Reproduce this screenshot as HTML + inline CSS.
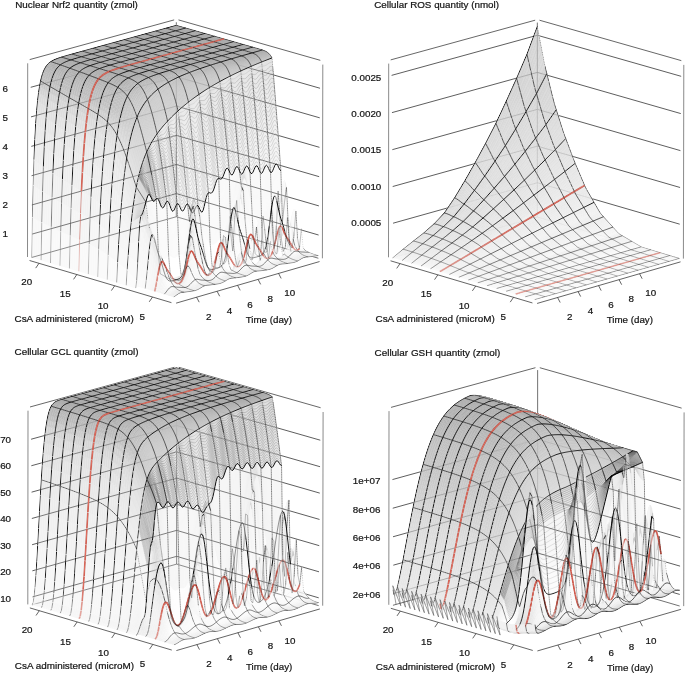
<!DOCTYPE html>
<html><head><meta charset="utf-8">
<style>
html,body{margin:0;padding:0;background:#fff;}
body{width:685px;height:674px;overflow:hidden;position:relative;}
canvas,svg{position:absolute;left:0;top:0;}
text{font-family:"Liberation Sans",sans-serif;font-size:9.8px;fill:#151515;stroke:#151515;stroke-width:0.22px;}
</style></head><body>
<svg id="fb" width="685" height="674"><path d="M32.2 234.1L176.3 193.6L318.6 235.0" fill="none" stroke="#333" stroke-width=".8"/><path d="M31.9 204.9L176.3 164.5L318.9 205.9" fill="none" stroke="#333" stroke-width=".8"/><path d="M31.6 175.7L176.3 135.3L319.2 176.7" fill="none" stroke="#333" stroke-width=".8"/><path d="M31.3 146.4L176.3 106.1L319.5 147.3" fill="none" stroke="#333" stroke-width=".8"/><path d="M31.0 116.9L176.3 76.7L319.8 117.8" fill="none" stroke="#333" stroke-width=".8"/><path d="M30.7 87.3L176.3 47.1L320.0 88.3" fill="none" stroke="#333" stroke-width=".8"/><path d="M31.7 257.5L176.3 216.7L318.4 258.2" fill="none" stroke="#444" stroke-width=".8"/><path d="M29.7 59.6L174.2 19.9" fill="none" stroke="#444" stroke-width=".8"/><path d="M178.5 19.9L320.3 60.3" fill="none" stroke="#444" stroke-width=".8"/><path d="M176.3 216.7L176.3 22.3" fill="none" stroke="#444" stroke-width=".8"/><path d="M27.7 63.3L27.5 257.0" fill="none" stroke="#444" stroke-width=".8"/><path d="M322.8 64.6L322.4 258.3" fill="none" stroke="#444" stroke-width=".8"/><path d="M29.6 260.5L171.4 302.6" fill="none" stroke="#444" stroke-width=".8"/><path d="M176.1 303.1L319.6 261.6" fill="none" stroke="#444" stroke-width=".8"/><path d="M39.0 263.3l-3.3 4.8" stroke="#444" stroke-width=".8"/><path d="M76.8 274.6l-3.3 4.8" stroke="#444" stroke-width=".8"/><path d="M114.7 285.8l-3.3 4.8" stroke="#444" stroke-width=".8"/><path d="M152.5 297.0l-3.3 4.8" stroke="#444" stroke-width=".8"/><path d="M196.6 297.2l2.6 5" stroke="#444" stroke-width=".8"/><path d="M217.1 291.3l2.6 5" stroke="#444" stroke-width=".8"/><path d="M237.6 285.3l2.6 5" stroke="#444" stroke-width=".8"/><path d="M258.1 279.4l2.6 5" stroke="#444" stroke-width=".8"/><path d="M278.6 273.4l2.6 5" stroke="#444" stroke-width=".8"/><path d="M393.1 223.2L537.3 182.7L679.7 224.2" fill="none" stroke="#333" stroke-width=".8"/><path d="M392.7 186.5L537.3 146.1L680.1 187.5" fill="none" stroke="#333" stroke-width=".8"/><path d="M392.3 149.7L537.3 109.4L680.4 150.6" fill="none" stroke="#333" stroke-width=".8"/><path d="M392.0 112.6L537.3 72.4L680.8 113.6" fill="none" stroke="#333" stroke-width=".8"/><path d="M391.6 75.4L537.3 35.3L681.2 76.3" fill="none" stroke="#333" stroke-width=".8"/><path d="M392.7 257.8L537.3 217.0L679.4 258.5" fill="none" stroke="#444" stroke-width=".8"/><path d="M390.7 59.9L535.2 20.2" fill="none" stroke="#444" stroke-width=".8"/><path d="M539.5 20.2L681.3 60.6" fill="none" stroke="#444" stroke-width=".8"/><path d="M537.3 217.0L537.3 22.6" fill="none" stroke="#444" stroke-width=".8"/><path d="M388.7 63.6L388.5 257.3" fill="none" stroke="#444" stroke-width=".8"/><path d="M683.8 64.9L683.4 258.6" fill="none" stroke="#444" stroke-width=".8"/><path d="M390.6 260.8L532.5 302.9" fill="none" stroke="#444" stroke-width=".8"/><path d="M537.1 303.4L680.5 261.9" fill="none" stroke="#444" stroke-width=".8"/><path d="M400.0 263.6l-3.3 4.8" stroke="#444" stroke-width=".8"/><path d="M437.9 274.9l-3.3 4.8" stroke="#444" stroke-width=".8"/><path d="M475.7 286.1l-3.3 4.8" stroke="#444" stroke-width=".8"/><path d="M513.5 297.3l-3.3 4.8" stroke="#444" stroke-width=".8"/><path d="M557.6 297.5l2.6 5" stroke="#444" stroke-width=".8"/><path d="M578.1 291.6l2.6 5" stroke="#444" stroke-width=".8"/><path d="M598.6 285.6l2.6 5" stroke="#444" stroke-width=".8"/><path d="M619.1 279.7l2.6 5" stroke="#444" stroke-width=".8"/><path d="M639.6 273.7l2.6 5" stroke="#444" stroke-width=".8"/><path d="M32.6 596.9L176.6 556.3L318.7 597.8" fill="none" stroke="#333" stroke-width=".8"/><path d="M32.4 570.8L176.6 530.4L319.0 571.8" fill="none" stroke="#333" stroke-width=".8"/><path d="M32.1 544.7L176.6 504.3L319.3 545.7" fill="none" stroke="#333" stroke-width=".8"/><path d="M31.9 518.5L176.6 478.1L319.5 519.4" fill="none" stroke="#333" stroke-width=".8"/><path d="M31.6 492.2L176.6 451.9L319.8 493.1" fill="none" stroke="#333" stroke-width=".8"/><path d="M31.3 465.8L176.6 425.5L320.0 466.7" fill="none" stroke="#333" stroke-width=".8"/><path d="M31.1 439.2L176.6 399.1L320.3 440.2" fill="none" stroke="#333" stroke-width=".8"/><path d="M32.0 604.9L176.6 564.1L318.7 605.6" fill="none" stroke="#444" stroke-width=".8"/><path d="M30.0 407.0L174.5 367.3" fill="none" stroke="#444" stroke-width=".8"/><path d="M178.8 367.3L320.6 407.7" fill="none" stroke="#444" stroke-width=".8"/><path d="M176.6 564.1L176.6 369.7" fill="none" stroke="#444" stroke-width=".8"/><path d="M28.0 410.7L27.8 604.4" fill="none" stroke="#444" stroke-width=".8"/><path d="M323.1 412.0L322.7 605.7" fill="none" stroke="#444" stroke-width=".8"/><path d="M29.9 607.9L171.8 650.0" fill="none" stroke="#444" stroke-width=".8"/><path d="M176.4 650.5L319.9 609.0" fill="none" stroke="#444" stroke-width=".8"/><path d="M39.3 610.7l-3.3 4.8" stroke="#444" stroke-width=".8"/><path d="M77.1 622.0l-3.3 4.8" stroke="#444" stroke-width=".8"/><path d="M115.0 633.2l-3.3 4.8" stroke="#444" stroke-width=".8"/><path d="M152.8 644.4l-3.3 4.8" stroke="#444" stroke-width=".8"/><path d="M196.9 644.6l2.6 5" stroke="#444" stroke-width=".8"/><path d="M217.4 638.7l2.6 5" stroke="#444" stroke-width=".8"/><path d="M237.9 632.7l2.6 5" stroke="#444" stroke-width=".8"/><path d="M258.4 626.8l2.6 5" stroke="#444" stroke-width=".8"/><path d="M278.9 620.8l2.6 5" stroke="#444" stroke-width=".8"/><path d="M393.6 593.5L537.6 553.0L679.8 594.5" fill="none" stroke="#333" stroke-width=".8"/><path d="M393.3 565.2L537.6 524.7L680.1 566.1" fill="none" stroke="#333" stroke-width=".8"/><path d="M393.0 536.8L537.6 496.4L680.3 537.7" fill="none" stroke="#333" stroke-width=".8"/><path d="M392.7 508.2L537.6 467.9L680.6 509.2" fill="none" stroke="#333" stroke-width=".8"/><path d="M392.5 479.6L537.6 439.3L680.9 480.5" fill="none" stroke="#333" stroke-width=".8"/><path d="M393.0 605.3L537.6 564.5L679.7 606.0" fill="none" stroke="#444" stroke-width=".8"/><path d="M391.0 407.4L535.5 367.7" fill="none" stroke="#444" stroke-width=".8"/><path d="M539.8 367.7L681.6 408.1" fill="none" stroke="#444" stroke-width=".8"/><path d="M537.6 564.5L537.6 370.1" fill="none" stroke="#444" stroke-width=".8"/><path d="M389.0 411.1L388.8 604.8" fill="none" stroke="#444" stroke-width=".8"/><path d="M684.1 412.4L683.7 606.1" fill="none" stroke="#444" stroke-width=".8"/><path d="M390.9 608.3L532.8 650.5" fill="none" stroke="#444" stroke-width=".8"/><path d="M537.4 651.0L680.9 609.4" fill="none" stroke="#444" stroke-width=".8"/><path d="M400.3 611.1l-3.3 4.8" stroke="#444" stroke-width=".8"/><path d="M438.1 622.4l-3.3 4.8" stroke="#444" stroke-width=".8"/><path d="M476.0 633.6l-3.3 4.8" stroke="#444" stroke-width=".8"/><path d="M513.8 644.8l-3.3 4.8" stroke="#444" stroke-width=".8"/><path d="M557.9 645.0l2.6 5" stroke="#444" stroke-width=".8"/><path d="M578.4 639.1l2.6 5" stroke="#444" stroke-width=".8"/><path d="M598.9 633.1l2.6 5" stroke="#444" stroke-width=".8"/><path d="M619.4 627.2l2.6 5" stroke="#444" stroke-width=".8"/><path d="M639.9 621.2l2.6 5" stroke="#444" stroke-width=".8"/><g style="fill:currentColor;stroke:currentColor;stroke-width:.4"><path d="M294 249 299 249 290 245 285 231z" color="#f1f1f1"/><path d="M304 252 309 252 299 249 294 249z" color="#ececec"/><path d="M313 256 318 256 309 252 304 252z" color="#efefef"/><path d="M299 252 304 252 294 249 289 241z" color="#ededed"/><path d="M308 257 313 256 304 252 299 252z" color="#efefef"/><path d="M268 258 274 248 264 252 259 256z" color="#e7e7e7"/><path d="M263 256 268 258 259 256 254 258z" color="#e4e4e4"/><path d="M303 258 308 257 299 252 293 252z" color="#f0f0f0"/><path d="M289 241 294 249 285 231 280 215z" color="#eeeeee"/><path d="M298 261 303 258 293 252 288 257z" color="#f1f1f1"/><path d="M293 252 299 252 289 241 284 232z" color="#f3f3f3"/><path d="M293 263 298 261 288 257 283 259z" color="#f0f0f0"/><path d="M278 259 283 259 274 248 268 258z" color="#f2f2f2"/><path d="M258 247 263 256 254 258 249 256z" color="#dcdcdc"/><path d="M273 258 278 259 268 258 263 256z" color="#e6e6e6"/><path d="M288 264 293 263 283 259 278 259z" color="#efefef"/><path d="M283 259 288 257 279 227 274 248z" color="#f8f8f8"/><path d="M288 257 293 252 284 232 279 227z" color="#f8f8f8"/><path d="M274 248 279 227 269 225 264 252z" color="#e9e9e9"/><path d="M282 264 288 264 278 259 273 258z" color="#efefef"/><path d="M268 260 273 258 263 256 258 247z" color="#ececec"/><path d="M277 266 282 264 273 258 268 260z" color="#f1f1f1"/><path d="M272 269 277 266 268 260 263 265z" color="#f1f1f1"/><path d="M267 270 272 269 263 265 257 266z" color="#efefef"/><path d="M284 232 289 241 280 215 275 196z" color="#ececec"/><path d="M253 237 258 247 249 256 244 241z" color="#dcdcdc"/><path d="M247 265 252 266 243 261 238 267z" color="#e7e7e7"/><path d="M263 265 268 260 258 247 253 237z" color="#f7f7f7"/><path d="M262 271 267 270 257 266 252 266z" color="#efefef"/><path d="M285 231 290 245 281 171 276 164z" color="#f6f6f6"/><path d="M252 266 257 266 248 240 243 261z" color="#f7f7f7"/><path d="M232 262 238 267 228 241 223 264z" color="#f4f4f4"/><path d="M227 254 232 262 223 264 218 268z" color="#d6d6d6"/><path d="M242 268 247 265 238 267 232 262z" color="#e5e5e5"/><path d="M279 227 284 232 275 196 269 225z" color="#ebebeb"/><path d="M257 271 262 271 252 266 247 265z" color="#efefef"/><path d="M257 266 263 265 253 237 248 240z" color="#fafafa"/><path d="M251 273 257 271 247 265 242 268z" color="#f1f1f1"/><path d="M246 276 251 273 242 268 237 273z" color="#f1f1f1"/><path d="M237 273 242 268 232 262 227 254z" color="#f5f5f5"/><path d="M241 277 246 276 237 273 232 273z" color="#efefef"/><path d="M222 243 227 254 218 268 213 269z" color="#d4d4d4"/><path d="M280 215 285 231 276 164 271 172z" color="#f0f0f0"/><path d="M259 256 264 252 255 167 250 172z" color="#f8f8f8"/><path d="M238 267 243 261 233 208 228 241z" color="#f6f6f6"/><path d="M248 240 253 237 244 241 239 224z" color="#dedede"/><path d="M236 278 241 277 232 273 226 273z" color="#efefef"/><path d="M254 258 259 256 250 172 245 169z" color="#f8f8f8"/><path d="M217 254 222 243 213 269 207 267z" color="#d3d3d3"/><path d="M216 276 221 272 212 272 207 275z" color="#e5e5e5"/><path d="M264 252 269 225 260 172 255 167z" color="#f5f5f5"/><path d="M232 273 237 273 227 254 222 243z" color="#f7f7f7"/><path d="M212 272 217 254 207 267 202 251z" color="#e5e5e5"/><path d="M221 272 226 273 217 254 212 272z" color="#f2f2f2"/><path d="M231 278 236 278 226 273 221 272z" color="#f0f0f0"/><path d="M211 280 216 276 207 275 201 268z" color="#f0f0f0"/><path d="M249 256 254 258 245 169 240 171z" color="#f8f8f8"/><path d="M243 261 248 240 239 224 233 208z" color="#f2f2f2"/><path d="M226 273 232 273 222 243 217 254z" color="#f9f9f9"/><path d="M226 281 231 278 221 272 216 276z" color="#f1f1f1"/><path d="M220 283 226 281 216 276 211 280z" color="#f0f0f0"/><path d="M215 284 220 283 211 280 206 280z" color="#efefef"/><path d="M207 275 212 272 202 251 197 233z" color="#f5f5f5"/><path d="M181 283 186 269 176 280 171 281z" color="#e2e2e2"/><path d="M275 196 280 215 271 172 265 166z" color="#e5e5e5"/><path d="M175 282 181 283 171 281 166 277z" color="#eaeaea"/><path d="M206 280 211 280 201 268 196 260z" color="#f6f6f6"/><path d="M213 269 218 268 208 193 203 210z" color="#f8f8f8"/><path d="M269 225 275 196 265 166 260 172z" color="#ebebeb"/><path d="M244 241 249 256 240 171 234 171z" color="#f6f6f6"/><path d="M210 285 215 284 206 280 200 280z" color="#efefef"/><path d="M207 267 213 269 203 210 198 206z" color="#f7f7f7"/><path d="M218 268 223 264 214 190 208 193z" color="#f8f8f8"/><path d="M186 269 191 251 181 277 176 280z" color="#d9d9d9"/><path d="M185 288 190 284 181 283 175 282z" color="#ededed"/><path d="M205 286 210 285 200 280 195 280z" color="#f0f0f0"/><path d="M190 284 195 280 186 269 181 283z" color="#f0f0f0"/><path d="M191 251 196 260 187 257 181 277z" color="#d1d1d1"/><path d="M200 289 205 286 195 280 190 284z" color="#f1f1f1"/><path d="M200 280 206 280 196 260 191 251z" color="#f6f6f6"/><path d="M194 291 200 289 190 284 185 288z" color="#f0f0f0"/><path d="M223 264 228 241 219 178 214 190z" color="#f6f6f6"/><path d="M180 287 185 288 175 282 170 274z" color="#f1f1f1"/><path d="M41 260 45 131 36 123 32 257z" color="#f2f2f2"/><path d="M202 251 207 267 198 206 193 213z" color="#f3f3f3"/><path d="M195 280 200 280 191 251 186 269z" color="#f7f7f7"/><path d="M201 268 207 275 197 233 192 220z" color="#f4f4f4"/><path d="M189 292 194 291 185 288 180 287z" color="#efefef"/><path d="M170 274 175 282 166 277 161 260z" color="#eaeaea"/><path d="M51 263 55 138 45 131 41 260z" color="#f3f3f3"/><path d="M196 260 201 268 192 220 187 257z" color="#efefef"/><path d="M239 224 244 241 234 171 229 171z" color="#f1f1f1"/><path d="M184 292 189 292 180 287 175 287z" color="#efefef"/><path d="M60 266 64 144 55 138 51 263z" color="#f3f3f3"/><path d="M175 287 180 287 170 274 165 266z" color="#f5f5f5"/><path d="M179 294 184 292 175 287 169 288z" color="#f0f0f0"/><path d="M69 269 74 150 64 144 60 266z" color="#f3f3f3"/><path d="M174 297 179 294 169 288 164 294z" color="#f1f1f1"/><path d="M164 294 169 288 160 265 155 291z" color="#f4f4f4"/><path d="M176 280 181 277 172 211 167 201z" color="#f8f8f8"/><path d="M79 271 83 157 74 150 69 269z" color="#f3f3f3"/><path d="M197 233 202 251 193 213 188 204z" color="#e8e8e8"/><path d="M228 241 233 208 224 174 219 178z" color="#eeeeee"/><path d="M181 277 187 257 177 204 172 211z" color="#f6f6f6"/><path d="M169 288 175 287 165 266 160 265z" color="#f8f8f8"/><path d="M233 208 239 224 229 171 224 174z" color="#e7e7e7"/><path d="M155 291 160 265 150 241 145 289z" color="#f5f5f5"/><path d="M126 285 131 222 122 202 117 283z" color="#f6f6f6"/><path d="M88 274 93 163 83 157 79 271z" color="#f4f4f4"/><path d="M171 281 176 280 167 201 162 207z" color="#f8f8f8"/><path d="M165 266 170 274 161 260 155 243z" color="#e8e8e8"/><path d="M136 288 141 216 131 222 126 285z" color="#f6f6f6"/><path d="M98 277 102 171 93 163 88 274z" color="#f4f4f4"/><path d="M117 283 122 202 112 184 107 280z" color="#f5f5f5"/><path d="M107 280 112 184 102 171 98 277z" color="#f4f4f4"/><path d="M145 289 150 241 141 216 136 288z" color="#f7f7f7"/><path d="M166 277 171 281 162 207 156 199z" color="#f8f8f8"/><path d="M187 257 192 220 182 211 177 204z" color="#e8e8e8"/><path d="M192 220 197 233 188 204 182 211z" color="#e2e2e2"/><path d="M160 265 165 266 155 243 150 241z" color="#ededed"/><path d="M161 260 166 277 156 199 151 197z" color="#f5f5f5"/><path d="M155 243 161 260 151 197 146 202z" color="#eeeeee"/><path d="M276 164 281 171 272 58 267 60z" color="#ececec"/><path d="M271 172 276 164 267 60 262 62z" color="#ececec"/><path d="M150 241 155 243 146 202 141 216z" color="#e7e7e7"/><path d="M265 166 271 172 262 62 256 64z" color="#ececec"/><path d="M181 29 186 28 176 25 171 27z" color="#ababab"/><path d="M260 172 265 166 256 64 251 66z" color="#ececec"/><path d="M175 31 181 29 171 27 166 28z" color="#ababab"/><path d="M255 167 260 172 251 66 246 69z" color="#ececec"/><path d="M190 32 195 31 186 28 181 29z" color="#ababab"/><path d="M170 32 175 31 166 28 161 30z" color="#ababab"/><path d="M141 216 146 202 136 187 131 222z" color="#d9d9d9"/><path d="M250 172 255 167 246 69 241 71z" color="#ececec"/><path d="M185 34 190 32 181 29 175 31z" color="#ababab"/><path d="M165 34 170 32 161 30 155 31z" color="#ababab"/><path d="M245 169 250 172 241 71 236 73z" color="#ebebeb"/><path d="M200 35 205 33 195 31 190 32z" color="#ababab"/><path d="M180 35 185 34 175 31 170 32z" color="#ababab"/><path d="M160 35 165 34 155 31 150 32z" color="#ababab"/><path d="M240 171 245 169 236 73 230 76z" color="#ebebeb"/><path d="M195 36 200 35 190 32 185 34z" color="#ababab"/><path d="M175 36 180 35 170 32 165 34z" color="#ababab"/><path d="M131 222 136 187 127 158 122 202z" color="#ebebeb"/><path d="M155 37 160 35 150 32 145 34z" color="#ababab"/><path d="M198 206 203 210 194 98 189 102z" color="#f0f0f0"/><path d="M203 210 208 193 199 94 194 98z" color="#efefef"/><path d="M234 171 240 171 230 76 225 79z" color="#ebebeb"/><path d="M193 213 198 206 189 102 183 106z" color="#f0f0f0"/><path d="M209 38 215 36 205 33 200 35z" color="#ababab"/><path d="M189 38 195 36 185 34 180 35z" color="#ababab"/><path d="M169 38 175 36 165 34 160 35z" color="#ababab"/><path d="M149 38 155 37 145 34 140 35z" color="#ababab"/><path d="M208 193 214 190 204 91 199 94z" color="#ededed"/><path d="M229 171 234 171 225 79 220 82z" color="#ebebeb"/><path d="M188 204 193 213 183 106 178 111z" color="#efefef"/><path d="M204 39 209 38 200 35 195 36z" color="#ababab"/><path d="M184 39 189 38 180 35 175 36z" color="#ababab"/><path d="M164 39 169 38 160 35 155 37z" color="#ababab"/><path d="M214 190 219 178 209 88 204 91z" color="#ececec"/><path d="M144 39 149 38 140 35 135 37z" color="#ababab"/><path d="M224 174 229 171 220 82 215 84z" color="#ebebeb"/><path d="M182 211 188 204 178 111 173 116z" color="#efefef"/><path d="M219 178 224 174 215 84 209 88z" color="#ebebeb"/><path d="M219 40 224 39 215 36 209 38z" color="#ababab"/><path d="M199 41 204 39 195 36 189 38z" color="#ababab"/><path d="M179 41 184 39 175 36 169 38z" color="#ababab"/><path d="M146 202 151 197 141 166 136 187z" color="#dadada"/><path d="M159 41 164 39 155 37 149 38z" color="#ababab"/><path d="M177 204 182 211 173 116 168 121z" color="#eeeeee"/><path d="M139 41 144 39 135 37 129 38z" color="#ababab"/><path d="M172 211 177 204 168 121 162 127z" color="#eeeeee"/><path d="M214 42 219 40 209 38 204 39z" color="#ababab"/><path d="M194 42 199 41 189 38 184 39z" color="#ababab"/><path d="M174 42 179 41 169 38 164 39z" color="#ababab"/><path d="M154 42 159 41 149 38 144 39z" color="#ababab"/><path d="M134 42 139 41 129 38 124 40z" color="#ababab"/><path d="M167 201 172 211 162 127 157 134z" color="#ececec"/><path d="M229 43 234 42 224 39 219 40z" color="#ababab"/><path d="M162 207 167 201 157 134 152 142z" color="#eaeaea"/><path d="M209 43 214 42 204 39 199 41z" color="#ababab"/><path d="M189 43 194 42 184 39 179 41z" color="#ababab"/><path d="M156 199 162 207 152 142 147 152z" color="#e6e6e6"/><path d="M169 44 174 42 164 39 159 41z" color="#ababab"/><path d="M148 44 154 42 144 39 139 41z" color="#ababab"/><path d="M151 197 156 199 147 152 141 166z" color="#dddddd"/><path d="M128 44 134 42 124 40 119 41z" color="#ababab"/><path d="M122 202 127 158 117 135 112 184z" color="#e9e9e9"/><path d="M223 45 229 43 219 40 214 42z" color="#ababab"/><path d="M203 45 209 43 199 41 194 42z" color="#ababab"/><path d="M183 45 189 43 179 41 174 42z" color="#ababab"/><path d="M163 45 169 44 159 41 154 42z" color="#ababab"/><path d="M143 45 148 44 139 41 134 42z" color="#ababab"/><path d="M45 131 50 87 40 81 36 123z" color="#dddddd"/><path d="M123 45 128 44 119 41 114 43z" color="#ababab"/><path d="M238 46 243 44 234 42 229 43z" color="#ababab"/><path d="M55 138 60 92 50 87 45 131z" color="#dfdfdf"/><path d="M218 46 223 45 214 42 209 43z" color="#ababab"/><path d="M198 46 203 45 194 42 189 43z" color="#ababab"/><path d="M178 46 183 45 174 42 169 44z" color="#ababab"/><path d="M158 46 163 45 154 42 148 44z" color="#ababab"/><path d="M138 47 143 45 134 42 128 44z" color="#ababab"/><path d="M118 47 123 45 114 43 108 44z" color="#ababab"/><path d="M64 144 69 98 60 92 55 138z" color="#e0e0e0"/><path d="M233 47 238 46 229 43 223 45z" color="#ababab"/><path d="M213 47 218 46 209 43 203 45z" color="#ababab"/><path d="M193 48 198 46 189 43 183 45z" color="#ababab"/><path d="M173 48 178 46 169 44 163 45z" color="#ababab"/><path d="M153 48 158 46 148 44 143 45z" color="#ababab"/><path d="M74 150 79 103 69 98 64 144z" color="#e1e1e1"/><path d="M133 48 138 47 128 44 123 45z" color="#ababab"/><path d="M113 48 118 47 108 44 103 45z" color="#ababab"/><path d="M248 49 253 47 243 44 238 46z" color="#ababab"/><path d="M228 49 233 47 223 45 218 46z" color="#ababab"/><path d="M208 49 213 47 203 45 198 46z" color="#ababab"/><path d="M188 49 193 48 183 45 178 46z" color="#ababab"/><path d="M83 157 88 109 79 103 74 150z" color="#e2e2e2"/><path d="M112 184 117 135 107 122 102 171z" color="#e6e6e6"/><path d="M168 49 173 48 163 45 158 46z" color="#ababab"/><path d="M148 49 153 48 143 45 138 47z" color="#ababab"/><path d="M128 49 133 48 123 45 118 47z" color="#ababab"/><path d="M108 50 113 48 103 45 98 47z" color="#ababab"/><path d="M242 50 248 49 238 46 233 47z" color="#ababab"/><path d="M93 163 98 114 88 109 83 157z" color="#e3e3e3"/><path d="M222 50 228 49 218 46 213 47z" color="#ababab"/><path d="M202 50 208 49 198 46 193 48z" color="#ababab"/><path d="M182 50 188 49 178 46 173 48z" color="#ababab"/><path d="M102 171 107 122 98 114 93 163z" color="#e4e4e4"/><path d="M162 51 168 49 158 46 153 48z" color="#ababab"/><path d="M142 51 148 49 138 47 133 48z" color="#ababab"/><path d="M122 51 128 49 118 47 113 48z" color="#ababab"/><path d="M102 51 108 50 98 47 93 48z" color="#ababab"/><path d="M136 187 141 166 132 133 127 158z" color="#dcdcdc"/><path d="M257 51 263 50 253 47 248 49z" color="#ababab"/><path d="M237 51 242 50 233 47 228 49z" color="#ababab"/><path d="M217 52 222 50 213 47 208 49z" color="#ababab"/><path d="M197 52 202 50 193 48 188 49z" color="#ababab"/><path d="M177 52 182 50 173 48 168 49z" color="#ababab"/><path d="M157 52 162 51 153 48 148 49z" color="#ababab"/><path d="M137 52 142 51 133 48 128 49z" color="#ababab"/><path d="M117 52 122 51 113 48 108 50z" color="#ababab"/><path d="M97 52 102 51 93 48 88 50z" color="#ababab"/><path d="M267 60 272 58 263 50 257 51z" color="#b5b5b5"/><path d="M252 53 257 51 248 49 242 50z" color="#ababab"/><path d="M232 53 237 51 228 49 222 50z" color="#ababab"/><path d="M212 53 217 52 208 49 202 50z" color="#ababab"/><path d="M192 53 197 52 188 49 182 50z" color="#ababab"/><path d="M172 53 177 52 168 49 162 51z" color="#ababab"/><path d="M152 53 157 52 148 49 142 51z" color="#ababab"/><path d="M132 54 137 52 128 49 122 51z" color="#ababab"/><path d="M112 54 117 52 108 50 102 51z" color="#ababab"/><path d="M262 62 267 60 257 51 252 53z" color="#b6b6b6"/><path d="M92 54 97 52 88 50 82 51z" color="#ababab"/><path d="M247 54 252 53 242 50 237 51z" color="#ababab"/><path d="M227 54 232 53 222 50 217 52z" color="#ababab"/><path d="M207 54 212 53 202 50 197 52z" color="#ababab"/><path d="M187 55 192 53 182 50 177 52z" color="#ababab"/><path d="M167 55 172 53 162 51 157 52z" color="#ababab"/><path d="M147 55 152 53 142 51 137 52z" color="#ababab"/><path d="M127 55 132 54 122 51 117 52z" color="#ababab"/><path d="M256 64 262 62 252 53 247 54z" color="#b6b6b6"/><path d="M107 55 112 54 102 51 97 52z" color="#ababab"/><path d="M87 55 92 54 82 51 77 53z" color="#ababab"/><path d="M242 56 247 54 237 51 232 53z" color="#ababab"/><path d="M222 56 227 54 217 52 212 53z" color="#ababab"/><path d="M202 56 207 54 197 52 192 53z" color="#ababab"/><path d="M182 56 187 55 177 52 172 53z" color="#ababab"/><path d="M162 56 167 55 157 52 152 53z" color="#ababab"/><path d="M251 66 256 64 247 54 242 56z" color="#b7b7b7"/><path d="M141 56 147 55 137 52 132 54z" color="#ababab"/><path d="M121 56 127 55 117 52 112 54z" color="#ababab"/><path d="M101 57 107 55 97 52 92 54z" color="#ababab"/><path d="M81 57 87 55 77 53 72 54z" color="#ababab"/><path d="M236 57 242 56 232 53 227 54z" color="#acacac"/><path d="M216 57 222 56 212 53 207 54z" color="#ababab"/><path d="M196 57 202 56 192 53 187 55z" color="#ababab"/><path d="M176 58 182 56 172 53 167 55z" color="#ababab"/><path d="M246 69 251 66 242 56 236 57z" color="#b8b8b8"/><path d="M156 58 162 56 152 53 147 55z" color="#ababab"/><path d="M136 58 141 56 132 54 127 55z" color="#ababab"/><path d="M116 58 121 56 112 54 107 55z" color="#ababab"/><path d="M96 58 101 57 92 54 87 55z" color="#ababab"/><path d="M76 58 81 57 72 54 67 56z" color="#ababab"/><path d="M231 59 236 57 227 54 222 56z" color="#acacac"/><path d="M50 87 55 71 46 67 40 81z" color="#bcbcbc"/><path d="M211 59 216 57 207 54 202 56z" color="#ababab"/><path d="M241 71 246 69 236 57 231 59z" color="#b9b9b9"/><path d="M191 59 196 57 187 55 182 56z" color="#ababab"/><path d="M171 59 176 58 167 55 162 56z" color="#ababab"/><path d="M151 59 156 58 147 55 141 56z" color="#ababab"/><path d="M141 166 147 152 137 117 132 133z" color="#d4d4d4"/><path d="M131 59 136 58 127 55 121 56z" color="#ababab"/><path d="M111 59 116 58 107 55 101 57z" color="#ababab"/><path d="M91 60 96 58 87 55 81 57z" color="#ababab"/><path d="M71 60 76 58 67 56 61 57z" color="#ababab"/><path d="M226 60 231 59 222 56 216 57z" color="#acacac"/><path d="M236 73 241 71 231 59 226 60z" color="#bbbbbb"/><path d="M206 60 211 59 202 56 196 57z" color="#ababab"/><path d="M60 92 65 75 55 71 50 87z" color="#bdbdbd"/><path d="M186 60 191 59 182 56 176 58z" color="#ababab"/><path d="M166 60 171 59 162 56 156 58z" color="#ababab"/><path d="M146 61 151 59 141 56 136 58z" color="#ababab"/><path d="M126 61 131 59 121 56 116 58z" color="#ababab"/><path d="M106 61 111 59 101 57 96 58z" color="#ababab"/><path d="M66 62 71 60 61 57 56 59z" color="#acacac"/><path d="M86 61 91 60 81 57 76 58z" color="#ababab"/><path d="M230 76 236 73 226 60 221 62z" color="#bcbcbc"/><path d="M221 62 226 60 216 57 211 59z" color="#acacac"/><path d="M127 158 132 133 122 110 117 135z" color="#d4d4d4"/><path d="M201 62 206 60 196 57 191 59z" color="#ababab"/><path d="M181 62 186 60 176 58 171 59z" color="#ababab"/><path d="M69 98 74 79 65 75 60 92z" color="#bdbdbd"/><path d="M55 71 60 65 51 62 46 67z" color="#afafaf"/><path d="M161 62 166 60 156 58 151 59z" color="#ababab"/><path d="M60 65 66 62 56 59 51 62z" color="#adadad"/><path d="M141 62 146 61 136 58 131 59z" color="#ababab"/><path d="M225 79 230 76 221 62 216 64z" color="#bebebe"/><path d="M121 62 126 61 116 58 111 59z" color="#ababab"/><path d="M100 62 106 61 96 58 91 60z" color="#ababab"/><path d="M80 63 86 61 76 58 71 60z" color="#ababab"/><path d="M216 64 221 62 211 59 206 60z" color="#acacac"/><path d="M196 63 201 62 191 59 186 60z" color="#ababab"/><path d="M175 63 181 62 171 59 166 60z" color="#ababab"/><path d="M220 82 225 79 216 64 210 65z" color="#bfbfbf"/><path d="M155 63 161 62 151 59 146 61z" color="#ababab"/><path d="M79 103 84 84 74 79 69 98z" color="#bebebe"/><path d="M135 63 141 62 131 59 126 61z" color="#ababab"/><path d="M75 65 80 63 71 60 66 62z" color="#acacac"/><path d="M115 64 121 62 111 59 106 61z" color="#ababab"/><path d="M147 152 152 142 142 107 137 117z" color="#d1d1d1"/><path d="M95 64 100 62 91 60 86 61z" color="#ababab"/><path d="M65 75 70 68 60 65 55 71z" color="#b0b0b0"/><path d="M210 65 216 64 206 60 201 62z" color="#adadad"/><path d="M215 84 220 82 210 65 205 67z" color="#c1c1c1"/><path d="M70 68 75 65 66 62 60 65z" color="#adadad"/><path d="M190 64 196 63 186 60 181 62z" color="#ababab"/><path d="M170 65 175 63 166 60 161 62z" color="#ababab"/><path d="M150 65 155 63 146 61 141 62z" color="#ababab"/><path d="M130 65 135 63 126 61 121 62z" color="#ababab"/><path d="M88 109 93 88 84 84 79 103z" color="#bebebe"/><path d="M110 65 115 64 106 61 100 62z" color="#ababab"/><path d="M90 66 95 64 86 61 80 63z" color="#ababab"/><path d="M209 88 215 84 205 67 200 69z" color="#c2c2c2"/><path d="M205 67 210 65 201 62 196 63z" color="#adadad"/><path d="M185 66 190 64 181 62 175 63z" color="#ababab"/><path d="M204 91 209 88 200 69 195 71z" color="#c4c4c4"/><path d="M165 66 170 65 161 62 155 63z" color="#ababab"/><path d="M74 79 79 72 70 68 65 75z" color="#b1b1b1"/><path d="M85 68 90 66 80 63 75 65z" color="#acacac"/><path d="M145 66 150 65 141 62 135 63z" color="#ababab"/><path d="M152 142 157 134 148 99 142 107z" color="#cfcfcf"/><path d="M125 66 130 65 121 62 115 64z" color="#ababab"/><path d="M105 67 110 65 100 62 95 64z" color="#ababab"/><path d="M98 114 103 93 93 88 88 109z" color="#c0c0c0"/><path d="M117 135 122 110 113 99 107 122z" color="#cacaca"/><path d="M199 94 204 91 195 71 189 72z" color="#c5c5c5"/><path d="M200 69 205 67 196 63 190 64z" color="#aeaeae"/><path d="M79 72 85 68 75 65 70 68z" color="#adadad"/><path d="M180 67 185 66 175 63 170 65z" color="#ababab"/><path d="M107 122 113 99 103 93 98 114z" color="#c3c3c3"/><path d="M160 68 165 66 155 63 150 65z" color="#ababab"/><path d="M194 98 199 94 189 72 184 75z" color="#c7c7c7"/><path d="M140 68 145 66 135 63 130 65z" color="#ababab"/><path d="M100 69 105 67 95 64 90 66z" color="#acacac"/><path d="M120 68 125 66 115 64 110 65z" color="#ababab"/><path d="M157 134 162 127 153 94 148 99z" color="#cecece"/><path d="M189 102 194 98 184 75 179 77z" color="#c8c8c8"/><path d="M195 71 200 69 190 64 185 66z" color="#aeaeae"/><path d="M84 84 89 75 79 72 74 79z" color="#b3b3b3"/><path d="M162 127 168 121 158 89 153 94z" color="#cdcdcd"/><path d="M183 106 189 102 179 77 174 79z" color="#c9c9c9"/><path d="M175 69 180 67 170 65 165 66z" color="#ababab"/><path d="M94 71 100 69 90 66 85 68z" color="#acacac"/><path d="M178 111 183 106 174 79 168 82z" color="#cacaca"/><path d="M155 69 160 68 150 65 145 66z" color="#ababab"/><path d="M168 121 173 116 163 85 158 89z" color="#cccccc"/><path d="M134 69 140 68 130 65 125 66z" color="#ababab"/><path d="M173 116 178 111 168 82 163 85z" color="#cbcbcb"/><path d="M114 70 120 68 110 65 105 67z" color="#ababab"/><path d="M89 75 94 71 85 68 79 72z" color="#aeaeae"/><path d="M189 72 195 71 185 66 180 67z" color="#afafaf"/><path d="M132 133 137 117 127 96 122 110z" color="#c9c9c9"/><path d="M169 70 175 69 165 66 160 68z" color="#ababab"/><path d="M149 70 155 69 145 66 140 68z" color="#ababab"/><path d="M109 72 114 70 105 67 100 69z" color="#acacac"/><path d="M93 88 99 79 89 75 84 84z" color="#b4b4b4"/><path d="M129 71 134 69 125 66 120 68z" color="#ababab"/><path d="M184 75 189 72 180 67 175 69z" color="#b0b0b0"/><path d="M104 74 109 72 100 69 94 71z" color="#acacac"/><path d="M164 72 169 70 160 68 155 69z" color="#acacac"/><path d="M99 79 104 74 94 71 89 75z" color="#aeaeae"/><path d="M144 72 149 70 140 68 134 69z" color="#ababab"/><path d="M124 72 129 71 120 68 114 70z" color="#ababab"/><path d="M179 77 184 75 175 69 169 70z" color="#b1b1b1"/><path d="M103 93 108 83 99 79 93 88z" color="#b6b6b6"/><path d="M159 74 164 72 155 69 149 70z" color="#acacac"/><path d="M119 75 124 72 114 70 109 72z" color="#acacac"/><path d="M139 74 144 72 134 69 129 71z" color="#ababab"/><path d="M174 79 179 77 169 70 164 72z" color="#b3b3b3"/><path d="M113 78 119 75 109 72 104 74z" color="#adadad"/><path d="M137 117 142 107 133 88 127 96z" color="#c7c7c7"/><path d="M108 83 113 78 104 74 99 79z" color="#aeaeae"/><path d="M113 99 118 87 108 83 103 93z" color="#b9b9b9"/><path d="M122 110 127 96 118 87 113 99z" color="#bfbfbf"/><path d="M168 82 174 79 164 72 159 74z" color="#b5b5b5"/><path d="M154 75 159 74 149 70 144 72z" color="#acacac"/><path d="M134 76 139 74 129 71 124 72z" color="#acacac"/><path d="M163 85 168 82 159 74 154 75z" color="#b6b6b6"/><path d="M128 78 134 76 124 72 119 75z" color="#acacac"/><path d="M148 78 154 75 144 72 139 74z" color="#adadad"/><path d="M142 107 148 99 138 83 133 88z" color="#c3c3c3"/><path d="M158 89 163 85 154 75 148 78z" color="#b9b9b9"/><path d="M118 87 123 81 113 78 108 83z" color="#b0b0b0"/><path d="M123 81 128 78 119 75 113 78z" color="#aeaeae"/><path d="M153 94 158 89 148 78 143 80z" color="#bcbcbc"/><path d="M148 99 153 94 143 80 138 83z" color="#bfbfbf"/><path d="M143 80 148 78 139 74 134 76z" color="#aeaeae"/><path d="M127 96 133 88 123 81 118 87z" color="#b7b7b7"/><path d="M138 83 143 80 134 76 128 78z" color="#b0b0b0"/><path d="M133 88 138 83 128 78 123 81z" color="#b3b3b3"/><path d="M617 237 622 236 613 227 608 229z" color="#f3f3f3"/><path d="M627 243 632 241 622 236 617 237z" color="#f2f2f2"/><path d="M608 229 613 227 604 217 598 219z" color="#f0f0f0"/><path d="M612 239 617 237 608 229 603 231z" color="#f3f3f3"/><path d="M636 248 641 247 632 241 627 243z" color="#f7f7f7"/><path d="M622 244 627 243 617 237 612 239z" color="#f2f2f2"/><path d="M603 231 608 229 598 219 593 221z" color="#f0f0f0"/><path d="M607 241 612 239 603 231 598 233z" color="#f3f3f3"/><path d="M631 250 636 248 627 243 622 244z" color="#f7f7f7"/><path d="M616 246 622 244 612 239 607 241z" color="#f2f2f2"/><path d="M598 233 603 231 593 221 588 223z" color="#f0f0f0"/><path d="M598 219 604 217 594 202 589 205z" color="#eeeeee"/><path d="M646 251 651 250 641 247 636 248z" color="#f5f5f5"/><path d="M602 242 607 241 598 233 592 235z" color="#f3f3f3"/><path d="M593 221 598 219 589 205 584 207z" color="#eeeeee"/><path d="M592 235 598 233 588 223 583 225z" color="#f0f0f0"/><path d="M626 251 631 250 622 244 616 246z" color="#f7f7f7"/><path d="M611 248 616 246 607 241 602 242z" color="#f2f2f2"/><path d="M641 253 646 251 636 248 631 250z" color="#f5f5f5"/><path d="M597 244 602 242 592 235 587 237z" color="#f3f3f3"/><path d="M588 223 593 221 584 207 579 210z" color="#efefef"/><path d="M587 237 592 235 583 225 578 227z" color="#f0f0f0"/><path d="M606 249 611 248 602 242 597 244z" color="#f2f2f2"/><path d="M621 253 626 251 616 246 611 248z" color="#f7f7f7"/><path d="M583 225 588 223 579 210 573 213z" color="#efefef"/><path d="M655 254 660 253 651 250 646 251z" color="#f6f6f6"/><path d="M592 246 597 244 587 237 582 238z" color="#f3f3f3"/><path d="M635 254 641 253 631 250 626 251z" color="#f5f5f5"/><path d="M582 238 587 237 578 227 573 230z" color="#f0f0f0"/><path d="M578 227 583 225 573 213 568 215z" color="#efefef"/><path d="M601 251 606 249 597 244 592 246z" color="#f2f2f2"/><path d="M616 254 621 253 611 248 606 249z" color="#f7f7f7"/><path d="M589 205 594 202 585 185 579 188z" color="#eaeaea"/><path d="M586 247 592 246 582 238 577 240z" color="#f3f3f3"/><path d="M577 240 582 238 573 230 567 232z" color="#f0f0f0"/><path d="M650 256 655 254 646 251 641 253z" color="#f6f6f6"/><path d="M630 256 635 254 626 251 621 253z" color="#f5f5f5"/><path d="M573 230 578 227 568 215 563 218z" color="#efefef"/><path d="M584 207 589 205 579 188 574 192z" color="#eaeaea"/><path d="M596 252 601 251 592 246 586 247z" color="#f2f2f2"/><path d="M610 256 616 254 606 249 601 251z" color="#f7f7f7"/><path d="M572 242 577 240 567 232 562 234z" color="#f0f0f0"/><path d="M581 249 586 247 577 240 572 242z" color="#f3f3f3"/><path d="M579 210 584 207 574 192 569 195z" color="#eaeaea"/><path d="M665 257 670 256 660 253 655 254z" color="#f7f7f7"/><path d="M567 232 573 230 563 218 558 220z" color="#efefef"/><path d="M645 257 650 256 641 253 635 254z" color="#f6f6f6"/><path d="M625 257 630 256 621 253 616 254z" color="#f5f5f5"/><path d="M573 213 579 210 569 195 564 198z" color="#ebebeb"/><path d="M591 254 596 252 586 247 581 249z" color="#f2f2f2"/><path d="M562 234 567 232 558 220 553 223z" color="#efefef"/><path d="M567 244 572 242 562 234 557 236z" color="#f0f0f0"/><path d="M605 257 610 256 601 251 596 252z" color="#f7f7f7"/><path d="M576 251 581 249 572 242 567 244z" color="#f3f3f3"/><path d="M568 215 573 213 564 198 559 201z" color="#ebebeb"/><path d="M660 259 665 257 655 254 650 256z" color="#f7f7f7"/><path d="M640 259 645 257 635 254 630 256z" color="#f6f6f6"/><path d="M620 259 625 257 616 254 610 256z" color="#f5f5f5"/><path d="M557 236 562 234 553 223 548 225z" color="#efefef"/><path d="M563 218 568 215 559 201 554 204z" color="#ebebeb"/><path d="M561 246 567 244 557 236 552 238z" color="#f0f0f0"/><path d="M586 255 591 254 581 249 576 251z" color="#f2f2f2"/><path d="M571 252 576 251 567 244 561 246z" color="#f3f3f3"/><path d="M600 259 605 257 596 252 591 254z" color="#f7f7f7"/><path d="M674 260 679 259 670 256 665 257z" color="#f8f8f8"/><path d="M558 220 563 218 554 204 549 207z" color="#ebebeb"/><path d="M552 238 557 236 548 225 542 228z" color="#efefef"/><path d="M654 260 660 259 650 256 645 257z" color="#f7f7f7"/><path d="M635 260 640 259 630 256 625 257z" color="#f6f6f6"/><path d="M615 260 620 259 610 256 605 257z" color="#f5f5f5"/><path d="M556 248 561 246 552 238 547 240z" color="#f0f0f0"/><path d="M553 223 558 220 549 207 543 210z" color="#ebebeb"/><path d="M580 257 586 255 576 251 571 252z" color="#f2f2f2"/><path d="M566 254 571 252 561 246 556 248z" color="#f3f3f3"/><path d="M547 240 552 238 542 228 537 231z" color="#efefef"/><path d="M402 261 407 256 398 253 393 258z" color="#f3f3f3"/><path d="M595 260 600 259 591 254 586 255z" color="#f7f7f7"/><path d="M407 256 412 252 403 249 398 253z" color="#ededed"/><path d="M548 225 553 223 543 210 538 213z" color="#ececec"/><path d="M428 240 433 236 424 233 418 237z" color="#e2e2e2"/><path d="M669 261 674 260 665 257 660 259z" color="#f8f8f8"/><path d="M412 252 418 248 408 245 403 249z" color="#eaeaea"/><path d="M423 244 428 240 418 237 413 241z" color="#e4e4e4"/><path d="M418 248 423 244 413 241 408 245z" color="#e7e7e7"/><path d="M433 236 438 231 429 228 424 233z" color="#e0e0e0"/><path d="M649 261 654 260 645 257 640 259z" color="#f7f7f7"/><path d="M551 250 556 248 547 240 542 243z" color="#f0f0f0"/><path d="M438 231 443 227 434 224 429 228z" color="#dedede"/><path d="M629 262 635 260 625 257 620 259z" color="#f6f6f6"/><path d="M610 262 615 260 605 257 600 259z" color="#f6f6f6"/><path d="M579 188 585 185 575 163 570 167z" color="#e7e7e7"/><path d="M542 243 547 240 537 231 532 233z" color="#f0f0f0"/><path d="M542 228 548 225 538 213 533 216z" color="#ececec"/><path d="M443 227 449 222 439 218 434 224z" color="#dddddd"/><path d="M575 259 580 257 571 252 566 254z" color="#f2f2f2"/><path d="M561 256 566 254 556 248 551 250z" color="#f3f3f3"/><path d="M574 192 579 188 570 167 565 171z" color="#e7e7e7"/><path d="M569 195 574 192 565 171 560 175z" color="#e7e7e7"/><path d="M590 262 595 260 586 255 580 257z" color="#f6f6f6"/><path d="M449 222 454 217 444 213 439 218z" color="#dcdcdc"/><path d="M537 231 542 228 533 216 528 219z" color="#ececec"/><path d="M546 252 551 250 542 243 536 245z" color="#f0f0f0"/><path d="M664 263 669 261 660 259 654 260z" color="#f8f8f8"/><path d="M564 198 569 195 560 175 555 179z" color="#e7e7e7"/><path d="M536 245 542 243 532 233 527 236z" color="#f0f0f0"/><path d="M644 263 649 261 640 259 635 260z" color="#f7f7f7"/><path d="M559 201 564 198 555 179 549 183z" color="#e8e8e8"/><path d="M624 263 629 262 620 259 615 260z" color="#f6f6f6"/><path d="M604 263 610 262 600 259 595 260z" color="#f6f6f6"/><path d="M532 233 537 231 528 219 523 222z" color="#ececec"/><path d="M555 258 561 256 551 250 546 252z" color="#f3f3f3"/><path d="M554 204 559 201 549 183 544 187z" color="#e8e8e8"/><path d="M570 260 575 259 566 254 561 256z" color="#f3f3f3"/><path d="M454 217 459 210 449 205 444 213z" color="#dcdcdc"/><path d="M549 207 554 204 544 187 539 191z" color="#e8e8e8"/><path d="M531 247 536 245 527 236 522 238z" color="#f0f0f0"/><path d="M412 263 417 259 407 256 402 261z" color="#f3f3f3"/><path d="M541 254 546 252 536 245 531 247z" color="#f1f1f1"/><path d="M437 243 443 239 433 236 428 240z" color="#e4e4e4"/><path d="M417 259 422 255 412 252 407 256z" color="#eeeeee"/><path d="M432 247 437 243 428 240 423 244z" color="#e6e6e6"/><path d="M422 255 427 251 418 248 412 252z" color="#ebebeb"/><path d="M427 251 432 247 423 244 418 248z" color="#e8e8e8"/><path d="M585 263 590 262 580 257 575 259z" color="#f6f6f6"/><path d="M443 239 448 235 438 231 433 236z" color="#e2e2e2"/><path d="M527 236 532 233 523 222 517 225z" color="#ececec"/><path d="M543 210 549 207 539 191 534 195z" color="#e8e8e8"/><path d="M448 235 453 231 443 227 438 231z" color="#e1e1e1"/><path d="M659 264 664 263 654 260 649 261z" color="#f8f8f8"/><path d="M453 231 458 226 449 222 443 227z" color="#e0e0e0"/><path d="M639 264 644 263 635 260 629 262z" color="#f7f7f7"/><path d="M538 213 543 210 534 195 529 199z" color="#e8e8e8"/><path d="M619 264 624 263 615 260 610 262z" color="#f6f6f6"/><path d="M458 226 463 221 454 217 449 222z" color="#dfdfdf"/><path d="M550 259 555 258 546 252 541 254z" color="#f3f3f3"/><path d="M522 238 527 236 517 225 512 229z" color="#ededed"/><path d="M599 265 604 263 595 260 590 262z" color="#f6f6f6"/><path d="M533 216 538 213 529 199 524 203z" color="#e8e8e8"/><path d="M526 249 531 247 522 238 517 241z" color="#f0f0f0"/><path d="M565 262 570 260 561 256 555 258z" color="#f3f3f3"/><path d="M536 255 541 254 531 247 526 249z" color="#f1f1f1"/><path d="M528 219 533 216 524 203 518 207z" color="#e8e8e8"/><path d="M459 210 464 204 455 198 449 205z" color="#dcdcdc"/><path d="M463 221 468 216 459 210 454 217z" color="#dedede"/><path d="M580 265 585 263 575 259 570 260z" color="#f6f6f6"/><path d="M517 241 522 238 512 229 507 232z" color="#ededed"/><path d="M523 222 528 219 518 207 513 211z" color="#e8e8e8"/><path d="M654 266 659 264 649 261 644 263z" color="#f8f8f8"/><path d="M521 251 526 249 517 241 511 244z" color="#f0f0f0"/><path d="M517 225 523 222 513 211 508 214z" color="#e9e9e9"/><path d="M634 266 639 264 629 262 624 263z" color="#f7f7f7"/><path d="M545 261 550 259 541 254 536 255z" color="#f3f3f3"/><path d="M614 266 619 264 610 262 604 263z" color="#f6f6f6"/><path d="M457 239 462 235 453 231 448 235z" color="#e3e3e3"/><path d="M452 243 457 239 448 235 443 239z" color="#e4e4e4"/><path d="M530 257 536 255 526 249 521 251z" color="#f1f1f1"/><path d="M511 244 517 241 507 232 502 235z" color="#ededed"/><path d="M462 235 468 231 458 226 453 231z" color="#e2e2e2"/><path d="M512 229 517 225 508 214 503 218z" color="#e9e9e9"/><path d="M447 247 452 243 443 239 437 243z" color="#e6e6e6"/><path d="M594 266 599 265 590 262 585 263z" color="#f6f6f6"/><path d="M560 263 565 262 555 258 550 259z" color="#f3f3f3"/><path d="M468 216 474 211 464 204 459 210z" color="#dedede"/><path d="M468 231 473 227 463 221 458 226z" color="#e1e1e1"/><path d="M442 251 447 247 437 243 432 247z" color="#e7e7e7"/><path d="M436 255 442 251 432 247 427 251z" color="#e9e9e9"/><path d="M431 258 436 255 427 251 422 255z" color="#ececec"/><path d="M426 262 431 258 422 255 417 259z" color="#efefef"/><path d="M473 227 478 223 468 216 463 221z" color="#e1e1e1"/><path d="M507 232 512 229 503 218 498 222z" color="#e9e9e9"/><path d="M421 266 426 262 417 259 412 263z" color="#f3f3f3"/><path d="M516 253 521 251 511 244 506 246z" color="#f0f0f0"/><path d="M574 266 580 265 570 260 565 262z" color="#f6f6f6"/><path d="M506 246 511 244 502 235 497 238z" color="#ededed"/><path d="M502 235 507 232 498 222 492 226z" color="#e9e9e9"/><path d="M478 223 483 218 474 211 468 216z" color="#e0e0e0"/><path d="M464 204 469 197 460 189 455 198z" color="#dcdcdc"/><path d="M648 267 654 266 644 263 639 264z" color="#f8f8f8"/><path d="M540 263 545 261 536 255 530 257z" color="#f3f3f3"/><path d="M497 238 502 235 492 226 487 230z" color="#e9e9e9"/><path d="M525 259 530 257 521 251 516 253z" color="#f1f1f1"/><path d="M629 267 634 266 624 263 619 264z" color="#f7f7f7"/><path d="M474 211 479 205 469 197 464 204z" color="#dedede"/><path d="M487 230 492 226 483 218 478 223z" color="#e4e4e4"/><path d="M482 233 487 230 478 223 473 227z" color="#e4e4e4"/><path d="M492 226 498 222 488 213 483 218z" color="#e4e4e4"/><path d="M483 218 488 213 479 205 474 211z" color="#e0e0e0"/><path d="M477 237 482 233 473 227 468 231z" color="#e5e5e5"/><path d="M498 222 503 218 493 209 488 213z" color="#e4e4e4"/><path d="M609 267 614 266 604 263 599 265z" color="#f6f6f6"/><path d="M503 218 508 214 499 204 493 209z" color="#e4e4e4"/><path d="M501 249 506 246 497 238 492 241z" color="#eeeeee"/><path d="M472 241 477 237 468 231 462 235z" color="#e5e5e5"/><path d="M555 265 560 263 550 259 545 261z" color="#f3f3f3"/><path d="M508 214 513 211 504 199 499 204z" color="#e3e3e3"/><path d="M492 241 497 238 487 230 482 233z" color="#e9e9e9"/><path d="M589 267 594 266 585 263 580 265z" color="#f6f6f6"/><path d="M511 256 516 253 506 246 501 249z" color="#f0f0f0"/><path d="M513 211 518 207 509 195 504 199z" color="#e3e3e3"/><path d="M467 244 472 241 462 235 457 239z" color="#e6e6e6"/><path d="M518 207 524 203 514 190 509 195z" color="#e3e3e3"/><path d="M461 248 467 244 457 239 452 243z" color="#e7e7e7"/><path d="M524 203 529 199 519 185 514 190z" color="#e3e3e3"/><path d="M488 213 493 209 484 200 479 205z" color="#e0e0e0"/><path d="M486 244 492 241 482 233 477 237z" color="#eaeaea"/><path d="M529 199 534 195 524 180 519 185z" color="#e3e3e3"/><path d="M456 251 461 248 452 243 447 247z" color="#e8e8e8"/><path d="M569 268 574 266 565 262 560 263z" color="#f6f6f6"/><path d="M496 251 501 249 492 241 486 244z" color="#eeeeee"/><path d="M534 195 539 191 530 175 524 180z" color="#e3e3e3"/><path d="M451 255 456 251 447 247 442 251z" color="#eaeaea"/><path d="M520 261 525 259 516 253 511 256z" color="#f1f1f1"/><path d="M481 247 486 244 477 237 472 241z" color="#eaeaea"/><path d="M479 205 484 200 474 190 469 197z" color="#dedede"/><path d="M539 191 544 187 535 170 530 175z" color="#e3e3e3"/><path d="M535 264 540 263 530 257 525 259z" color="#f3f3f3"/><path d="M643 269 648 267 639 264 634 266z" color="#f8f8f8"/><path d="M493 209 499 204 489 194 484 200z" color="#e0e0e0"/><path d="M446 258 451 255 442 251 436 255z" color="#ebebeb"/><path d="M505 258 511 256 501 249 496 251z" color="#f0f0f0"/><path d="M544 187 549 183 540 165 535 170z" color="#e3e3e3"/><path d="M624 269 629 267 619 264 614 266z" color="#f7f7f7"/><path d="M441 262 446 258 436 255 431 258z" color="#ededed"/><path d="M476 250 481 247 472 241 467 244z" color="#ebebeb"/><path d="M604 269 609 267 599 265 594 266z" color="#f6f6f6"/><path d="M549 183 555 179 545 160 540 165z" color="#e3e3e3"/><path d="M491 254 496 251 486 244 481 247z" color="#eeeeee"/><path d="M549 267 555 265 545 261 540 263z" color="#f3f3f3"/><path d="M436 265 441 262 431 258 426 262z" color="#f0f0f0"/><path d="M469 197 474 190 465 181 460 189z" color="#dcdcdc"/><path d="M584 269 589 267 580 265 574 266z" color="#f6f6f6"/><path d="M555 179 560 175 550 155 545 160z" color="#e2e2e2"/><path d="M499 204 504 199 494 188 489 194z" color="#e0e0e0"/><path d="M430 269 436 265 426 262 421 266z" color="#f4f4f4"/><path d="M471 253 476 250 467 244 461 248z" color="#ebebeb"/><path d="M560 175 565 171 555 149 550 155z" color="#e2e2e2"/><path d="M500 260 505 258 496 251 491 254z" color="#f0f0f0"/><path d="M515 263 520 261 511 256 505 258z" color="#f1f1f1"/><path d="M564 269 569 268 560 263 555 265z" color="#f6f6f6"/><path d="M486 256 491 254 481 247 476 250z" color="#eeeeee"/><path d="M484 200 489 194 480 183 474 190z" color="#dedede"/><path d="M466 256 471 253 461 248 456 251z" color="#ececec"/><path d="M565 171 570 167 561 144 555 149z" color="#e2e2e2"/><path d="M530 266 535 264 525 259 520 261z" color="#f3f3f3"/><path d="M504 199 509 195 499 182 494 188z" color="#e0e0e0"/><path d="M638 270 643 269 634 266 629 267z" color="#f8f8f8"/><path d="M570 167 575 163 566 138 561 144z" color="#e1e1e1"/><path d="M461 259 466 256 456 251 451 255z" color="#ededed"/><path d="M618 270 624 269 614 266 609 267z" color="#f7f7f7"/><path d="M544 268 549 267 540 263 535 264z" color="#f3f3f3"/><path d="M480 259 486 256 476 250 471 253z" color="#efefef"/><path d="M599 270 604 269 594 266 589 267z" color="#f7f7f7"/><path d="M495 262 500 260 491 254 486 256z" color="#f0f0f0"/><path d="M579 270 584 269 574 266 569 268z" color="#f6f6f6"/><path d="M509 195 514 190 505 176 499 182z" color="#e0e0e0"/><path d="M455 262 461 259 451 255 446 258z" color="#eeeeee"/><path d="M510 265 515 263 505 258 500 260z" color="#f1f1f1"/><path d="M489 194 494 188 485 176 480 183z" color="#dedede"/><path d="M559 271 564 269 555 265 549 267z" color="#f6f6f6"/><path d="M450 266 455 262 446 258 441 262z" color="#efefef"/><path d="M475 262 480 259 471 253 466 256z" color="#efefef"/><path d="M524 268 530 266 520 261 515 263z" color="#f3f3f3"/><path d="M474 190 480 183 470 171 465 181z" color="#dcdcdc"/><path d="M514 190 519 185 510 170 505 176z" color="#e0e0e0"/><path d="M633 272 638 270 629 267 624 269z" color="#f8f8f8"/><path d="M490 264 495 262 486 256 480 259z" color="#f1f1f1"/><path d="M445 269 450 266 441 262 436 265z" color="#f1f1f1"/><path d="M613 272 618 270 609 267 604 269z" color="#f7f7f7"/><path d="M539 270 544 268 535 264 530 266z" color="#f3f3f3"/><path d="M470 264 475 262 466 256 461 259z" color="#efefef"/><path d="M593 272 599 270 589 267 584 269z" color="#f7f7f7"/><path d="M505 267 510 265 500 260 495 262z" color="#f1f1f1"/><path d="M440 272 445 269 436 265 430 269z" color="#f5f5f5"/><path d="M574 272 579 270 569 268 564 269z" color="#f6f6f6"/><path d="M519 185 524 180 515 164 510 170z" color="#e0e0e0"/><path d="M519 269 524 268 515 263 510 265z" color="#f3f3f3"/><path d="M494 188 499 182 490 169 485 176z" color="#dedede"/><path d="M485 266 490 264 480 259 475 262z" color="#f1f1f1"/><path d="M554 272 559 271 549 267 544 268z" color="#f6f6f6"/><path d="M465 267 470 264 461 259 455 262z" color="#f0f0f0"/><path d="M524 180 530 175 520 158 515 164z" color="#e0e0e0"/><path d="M628 273 633 272 624 269 618 270z" color="#f8f8f8"/><path d="M499 269 505 267 495 262 490 264z" color="#f1f1f1"/><path d="M534 271 539 270 530 266 524 268z" color="#f3f3f3"/><path d="M608 273 613 272 604 269 599 270z" color="#f7f7f7"/><path d="M460 269 465 267 455 262 450 266z" color="#f1f1f1"/><path d="M588 273 593 272 584 269 579 270z" color="#f7f7f7"/><path d="M480 183 485 176 475 162 470 171z" color="#dcdcdc"/><path d="M480 269 485 266 475 262 470 264z" color="#f1f1f1"/><path d="M568 273 574 272 564 269 559 271z" color="#f6f6f6"/><path d="M514 271 519 269 510 265 505 267z" color="#f3f3f3"/><path d="M530 175 535 170 525 151 520 158z" color="#dfdfdf"/><path d="M499 182 505 176 495 161 490 169z" color="#dedede"/><path d="M454 272 460 269 450 266 445 269z" color="#f2f2f2"/><path d="M549 274 554 272 544 268 539 270z" color="#f6f6f6"/><path d="M494 271 499 269 490 264 485 266z" color="#f2f2f2"/><path d="M474 271 480 269 470 264 465 267z" color="#f2f2f2"/><path d="M623 275 628 273 618 270 613 272z" color="#f8f8f8"/><path d="M529 273 534 271 524 268 519 269z" color="#f4f4f4"/><path d="M603 275 608 273 599 270 593 272z" color="#f7f7f7"/><path d="M449 274 454 272 445 269 440 272z" color="#f5f5f5"/><path d="M535 170 540 165 530 145 525 151z" color="#dfdfdf"/><path d="M583 275 588 273 579 270 574 272z" color="#f7f7f7"/><path d="M563 275 568 273 559 271 554 272z" color="#f6f6f6"/><path d="M509 273 514 271 505 267 499 269z" color="#f3f3f3"/><path d="M505 176 510 170 500 153 495 161z" color="#dedede"/><path d="M543 275 549 274 539 270 534 271z" color="#f6f6f6"/><path d="M469 273 474 271 465 267 460 269z" color="#f2f2f2"/><path d="M489 272 494 271 485 266 480 269z" color="#f2f2f2"/><path d="M540 165 545 160 536 138 530 145z" color="#dfdfdf"/><path d="M485 176 490 169 480 153 475 162z" color="#dcdcdc"/><path d="M523 275 529 273 519 269 514 271z" color="#f4f4f4"/><path d="M618 276 623 275 613 272 608 273z" color="#f8f8f8"/><path d="M598 276 603 275 593 272 588 273z" color="#f7f7f7"/><path d="M578 276 583 275 574 272 568 273z" color="#f7f7f7"/><path d="M504 274 509 273 499 269 494 271z" color="#f4f4f4"/><path d="M464 275 469 273 460 269 454 272z" color="#f4f4f4"/><path d="M558 276 563 275 554 272 549 274z" color="#f7f7f7"/><path d="M484 274 489 272 480 269 474 271z" color="#f3f3f3"/><path d="M545 160 550 155 541 131 536 138z" color="#dedede"/><path d="M538 277 543 275 534 271 529 273z" color="#f6f6f6"/><path d="M510 170 515 164 505 146 500 153z" color="#dddddd"/><path d="M518 276 523 275 514 271 509 273z" color="#f4f4f4"/><path d="M459 277 464 275 454 272 449 274z" color="#f6f6f6"/><path d="M612 278 618 276 608 273 603 275z" color="#f8f8f8"/><path d="M593 278 598 276 588 273 583 275z" color="#f7f7f7"/><path d="M498 276 504 274 494 271 489 272z" color="#f4f4f4"/><path d="M479 276 484 274 474 271 469 273z" color="#f3f3f3"/><path d="M573 278 578 276 568 273 563 275z" color="#f7f7f7"/><path d="M550 155 555 149 546 125 541 131z" color="#dedede"/><path d="M553 278 558 276 549 274 543 275z" color="#f7f7f7"/><path d="M490 169 495 161 486 143 480 153z" color="#dcdcdc"/><path d="M533 278 538 277 529 273 523 275z" color="#f6f6f6"/><path d="M513 278 518 276 509 273 504 274z" color="#f4f4f4"/><path d="M515 164 520 158 511 137 505 146z" color="#dddddd"/><path d="M473 278 479 276 469 273 464 275z" color="#f5f5f5"/><path d="M607 279 612 278 603 275 598 276z" color="#f9f9f9"/><path d="M493 278 498 276 489 272 484 274z" color="#f4f4f4"/><path d="M555 149 561 144 551 117 546 125z" color="#dddddd"/><path d="M587 279 593 278 583 275 578 276z" color="#f8f8f8"/><path d="M568 279 573 278 563 275 558 276z" color="#f7f7f7"/><path d="M548 279 553 278 543 275 538 277z" color="#f7f7f7"/><path d="M528 280 533 278 523 275 518 276z" color="#f7f7f7"/><path d="M508 279 513 278 504 274 498 276z" color="#f5f5f5"/><path d="M468 280 473 278 464 275 459 277z" color="#f7f7f7"/><path d="M488 279 493 278 484 274 479 276z" color="#f5f5f5"/><path d="M561 144 566 138 556 110 551 117z" color="#dcdcdc"/><path d="M602 281 607 279 598 276 593 278z" color="#f9f9f9"/><path d="M520 158 525 151 516 129 511 137z" color="#dcdcdc"/><path d="M582 281 587 279 578 276 573 278z" color="#f8f8f8"/><path d="M562 281 568 279 558 276 553 278z" color="#f7f7f7"/><path d="M495 161 500 153 491 133 486 143z" color="#dbdbdb"/><path d="M542 281 548 279 538 277 533 278z" color="#f7f7f7"/><path d="M523 281 528 280 518 276 513 278z" color="#f7f7f7"/><path d="M503 281 508 279 498 276 493 278z" color="#f5f5f5"/><path d="M483 281 488 279 479 276 473 278z" color="#f6f6f6"/><path d="M597 282 602 281 593 278 587 279z" color="#f9f9f9"/><path d="M577 282 582 281 573 278 568 279z" color="#f8f8f8"/><path d="M557 282 562 281 553 278 548 279z" color="#f7f7f7"/><path d="M537 282 542 281 533 278 528 280z" color="#f7f7f7"/><path d="M525 151 530 145 521 120 516 129z" color="#dcdcdc"/><path d="M517 283 523 281 513 278 508 279z" color="#f7f7f7"/><path d="M478 283 483 281 473 278 468 280z" color="#f7f7f7"/><path d="M498 282 503 281 493 278 488 279z" color="#f6f6f6"/><path d="M592 283 597 282 587 279 582 281z" color="#f9f9f9"/><path d="M500 153 505 146 496 123 491 133z" color="#dbdbdb"/><path d="M572 284 577 282 568 279 562 281z" color="#f8f8f8"/><path d="M552 284 557 282 548 279 542 281z" color="#f7f7f7"/><path d="M532 284 537 282 528 280 523 281z" color="#f7f7f7"/><path d="M512 284 517 283 508 279 503 281z" color="#f7f7f7"/><path d="M492 284 498 282 488 279 483 281z" color="#f6f6f6"/><path d="M530 145 536 138 526 112 521 120z" color="#dbdbdb"/><path d="M587 285 592 283 582 281 577 282z" color="#f9f9f9"/><path d="M567 285 572 284 562 281 557 282z" color="#f8f8f8"/><path d="M547 285 552 284 542 281 537 282z" color="#f8f8f8"/><path d="M527 285 532 284 523 281 517 283z" color="#f8f8f8"/><path d="M507 285 512 284 503 281 498 282z" color="#f7f7f7"/><path d="M487 286 492 284 483 281 478 283z" color="#f8f8f8"/><path d="M581 286 587 285 577 282 572 284z" color="#f9f9f9"/><path d="M505 146 511 137 501 112 496 123z" color="#d9d9d9"/><path d="M536 138 541 131 531 103 526 112z" color="#dadada"/><path d="M561 287 567 285 557 282 552 284z" color="#f8f8f8"/><path d="M542 287 547 285 537 282 532 284z" color="#f8f8f8"/><path d="M522 287 527 285 517 283 512 284z" color="#f8f8f8"/><path d="M502 287 507 285 498 282 492 284z" color="#f8f8f8"/><path d="M576 288 581 286 572 284 567 285z" color="#f9f9f9"/><path d="M556 288 561 287 552 284 547 285z" color="#f8f8f8"/><path d="M536 288 542 287 532 284 527 285z" color="#f8f8f8"/><path d="M517 288 522 287 512 284 507 285z" color="#f8f8f8"/><path d="M497 288 502 287 492 284 487 286z" color="#f9f9f9"/><path d="M541 131 546 125 536 94 531 103z" color="#d9d9d9"/><path d="M571 289 576 288 567 285 561 287z" color="#f9f9f9"/><path d="M551 289 556 288 547 285 542 287z" color="#f8f8f8"/><path d="M511 137 516 129 506 101 501 112z" color="#d8d8d8"/><path d="M531 290 536 288 527 285 522 287z" color="#f8f8f8"/><path d="M511 290 517 288 507 285 502 287z" color="#f9f9f9"/><path d="M566 291 571 289 561 287 556 288z" color="#f9f9f9"/><path d="M546 125 551 117 542 84 536 94z" color="#d7d7d7"/><path d="M546 291 551 289 542 287 536 288z" color="#f8f8f8"/><path d="M526 291 531 290 522 287 517 288z" color="#f8f8f8"/><path d="M506 291 511 290 502 287 497 288z" color="#f9f9f9"/><path d="M561 292 566 291 556 288 551 289z" color="#f9f9f9"/><path d="M541 292 546 291 536 288 531 290z" color="#f9f9f9"/><path d="M521 293 526 291 517 288 511 290z" color="#f9f9f9"/><path d="M516 129 521 120 511 90 506 101z" color="#d7d7d7"/><path d="M551 117 556 110 547 73 542 84z" color="#d6d6d6"/><path d="M555 294 561 292 551 289 546 291z" color="#f9f9f9"/><path d="M536 294 541 292 531 290 526 291z" color="#f9f9f9"/><path d="M516 294 521 293 511 290 506 291z" color="#f9f9f9"/><path d="M550 295 555 294 546 291 541 292z" color="#f9f9f9"/><path d="M530 295 536 294 526 291 521 293z" color="#f9f9f9"/><path d="M521 120 526 112 517 78 511 90z" color="#d5d5d5"/><path d="M545 297 550 295 541 292 536 294z" color="#f9f9f9"/><path d="M525 297 530 295 521 293 516 294z" color="#f9f9f9"/><path d="M540 298 545 297 536 294 530 295z" color="#f9f9f9"/><path d="M526 112 531 103 522 66 517 78z" color="#d4d4d4"/><path d="M535 300 540 298 530 295 525 297z" color="#fafafa"/><path d="M531 103 536 94 527 54 522 66z" color="#d4d4d4"/><path d="M536 94 542 84 532 40 527 54z" color="#d5d5d5"/><path d="M542 84 547 73 537 26 532 40z" color="#d5d5d5"/><path d="M304 598 309 598 300 584 295 591z" color="#f5f5f5"/><path d="M314 603 319 603 309 598 304 598z" color="#f0f0f0"/><path d="M308 604 314 603 304 598 299 596z" color="#f1f1f1"/><path d="M299 596 304 598 295 591 290 580z" color="#eeeeee"/><path d="M303 606 308 604 299 596 294 598z" color="#f3f3f3"/><path d="M298 608 303 606 294 598 289 603z" color="#f3f3f3"/><path d="M293 610 298 608 289 603 283 605z" color="#f2f2f2"/><path d="M264 598 269 597 259 602 254 597z" color="#dadada"/><path d="M269 597 274 582 264 596 259 602z" color="#dddddd"/><path d="M288 610 293 610 283 605 278 604z" color="#f0f0f0"/><path d="M278 604 283 605 274 582 269 597z" color="#f7f7f7"/><path d="M273 603 278 604 269 597 264 598z" color="#ececec"/><path d="M294 598 299 596 290 580 285 562z" color="#f2f2f2"/><path d="M41 608 46 564 37 561 32 605z" color="#f5f5f5"/><path d="M283 611 288 610 278 604 273 603z" color="#f2f2f2"/><path d="M295 591 300 584 290 564 286 521z" color="#f3f3f3"/><path d="M283 605 289 603 279 565 274 582z" color="#f7f7f7"/><path d="M278 613 283 611 273 603 268 606z" color="#f3f3f3"/><path d="M274 582 279 565 270 578 264 596z" color="#dbdbdb"/><path d="M272 616 278 613 268 606 263 610z" color="#f3f3f3"/><path d="M51 610 56 567 46 564 41 608z" color="#f5f5f5"/><path d="M289 603 294 598 285 562 279 565z" color="#f6f6f6"/><path d="M267 617 272 616 263 610 258 612z" color="#f1f1f1"/><path d="M268 606 273 603 264 598 259 581z" color="#f0f0f0"/><path d="M262 617 267 617 258 612 253 611z" color="#f0f0f0"/><path d="M259 581 264 598 254 597 249 568z" color="#e8e8e8"/><path d="M60 613 65 570 56 567 51 610z" color="#f5f5f5"/><path d="M233 602 238 607 228 594 223 610z" color="#e4e4e4"/><path d="M257 618 262 617 253 611 247 611z" color="#f2f2f2"/><path d="M247 611 253 611 243 596 238 607z" color="#f1f1f1"/><path d="M70 616 75 573 65 570 60 613z" color="#f5f5f5"/><path d="M242 614 247 611 238 607 233 602z" color="#ededed"/><path d="M252 621 257 618 247 611 242 614z" color="#f3f3f3"/><path d="M263 610 268 606 259 581 254 568z" color="#f5f5f5"/><path d="M253 611 258 612 248 578 243 596z" color="#f7f7f7"/><path d="M279 565 285 562 275 545 270 578z" color="#dddddd"/><path d="M247 623 252 621 242 614 237 618z" color="#f2f2f2"/><path d="M228 583 233 602 223 610 218 614z" color="#d5d5d5"/><path d="M241 624 247 623 237 618 232 619z" color="#f1f1f1"/><path d="M290 580 295 591 286 521 280 515z" color="#f5f5f5"/><path d="M79 619 84 576 75 573 70 616z" color="#f5f5f5"/><path d="M258 612 263 610 254 568 248 578z" color="#f7f7f7"/><path d="M238 607 243 596 234 563 228 594z" color="#f0f0f0"/><path d="M236 625 241 624 232 619 227 617z" color="#f0f0f0"/><path d="M237 618 242 614 233 602 228 583z" color="#f3f3f3"/><path d="M89 622 94 579 84 576 79 619z" color="#f5f5f5"/><path d="M285 562 290 580 280 515 275 545z" color="#ececec"/><path d="M231 626 236 625 227 617 222 618z" color="#f3f3f3"/><path d="M216 622 222 618 212 610 207 616z" color="#efefef"/><path d="M98 624 103 583 94 579 89 622z" color="#f5f5f5"/><path d="M226 628 231 626 222 618 216 622z" color="#f3f3f3"/><path d="M222 578 228 583 218 614 213 605z" color="#d0d0d0"/><path d="M221 630 226 628 216 622 211 626z" color="#f2f2f2"/><path d="M222 618 227 617 217 592 212 610z" color="#f4f4f4"/><path d="M211 626 216 622 207 616 202 605z" color="#f3f3f3"/><path d="M215 632 221 630 211 626 206 626z" color="#f1f1f1"/><path d="M232 619 237 618 228 583 222 578z" color="#f6f6f6"/><path d="M108 627 113 589 103 583 98 624z" color="#f4f4f4"/><path d="M227 617 232 619 222 578 217 592z" color="#f7f7f7"/><path d="M117 630 122 596 113 589 108 627z" color="#f4f4f4"/><path d="M210 632 215 632 206 626 201 624z" color="#f1f1f1"/><path d="M136 636 141 623 132 604 126 633z" color="#f2f2f2"/><path d="M254 568 259 581 249 568 244 527z" color="#ebebeb"/><path d="M126 633 132 604 122 596 117 630z" color="#f2f2f2"/><path d="M181 622 186 607 177 625 171 616z" color="#d2d2d2"/><path d="M205 633 210 632 201 624 196 626z" color="#f3f3f3"/><path d="M243 596 248 578 239 531 234 563z" color="#f1f1f1"/><path d="M185 634 190 630 181 622 176 625z" color="#f4f4f4"/><path d="M200 636 205 633 196 626 190 630z" color="#f3f3f3"/><path d="M217 592 222 578 213 605 208 571z" color="#d5d5d5"/><path d="M145 636 151 617 141 623 136 636z" color="#eaeaea"/><path d="M186 607 191 590 182 623 177 625z" color="#d4d4d4"/><path d="M206 626 211 626 202 605 197 586z" color="#f4f4f4"/><path d="M195 638 200 636 190 630 185 634z" color="#f2f2f2"/><path d="M190 630 196 626 186 607 181 622z" color="#f4f4f4"/><path d="M190 639 195 638 185 634 180 634z" color="#f0f0f0"/><path d="M259 602 264 596 256 464 250 467z" color="#f7f7f7"/><path d="M191 590 197 586 187 610 182 623z" color="#d0d0d0"/><path d="M180 634 185 634 176 625 171 612z" color="#f3f3f3"/><path d="M264 596 270 578 261 467 256 464z" color="#f6f6f6"/><path d="M184 640 190 639 180 634 175 633z" color="#f1f1f1"/><path d="M196 626 201 624 191 590 186 607z" color="#f5f5f5"/><path d="M197 586 202 605 192 582 187 610z" color="#d3d3d3"/><path d="M176 625 181 622 171 616 166 585z" color="#ededed"/><path d="M155 639 160 620 151 617 145 636z" color="#ececec"/><path d="M201 624 206 626 197 586 191 590z" color="#f6f6f6"/><path d="M254 597 259 602 250 467 245 465z" color="#f6f6f6"/><path d="M164 642 170 637 160 620 155 639z" color="#f5f5f5"/><path d="M179 642 184 640 175 633 170 637z" color="#f3f3f3"/><path d="M174 645 179 642 170 637 164 642z" color="#f2f2f2"/><path d="M248 578 254 568 244 527 239 531z" color="#ebebeb"/><path d="M202 605 207 616 197 547 192 582z" color="#f3f3f3"/><path d="M212 610 217 592 208 571 203 535z" color="#f0f0f0"/><path d="M286 521 290 564 282 466 276 461z" color="#f0f0f0"/><path d="M218 614 223 610 214 492 209 504z" color="#f8f8f8"/><path d="M175 633 180 634 171 612 165 602z" color="#f5f5f5"/><path d="M213 605 218 614 209 504 204 512z" color="#f7f7f7"/><path d="M46 564 51 483 41 480 37 561z" color="#f0f0f0"/><path d="M270 578 275 545 266 463 261 467z" color="#f3f3f3"/><path d="M170 637 175 633 165 602 160 620z" color="#f6f6f6"/><path d="M207 616 212 610 203 535 197 547z" color="#f6f6f6"/><path d="M151 617 156 579 146 603 141 623z" color="#e8e8e8"/><path d="M56 567 60 486 51 483 46 564z" color="#f0f0f0"/><path d="M141 623 146 603 137 549 132 604z" color="#f5f5f5"/><path d="M249 568 254 597 245 465 240 467z" color="#f5f5f5"/><path d="M223 610 228 594 219 477 214 492z" color="#f6f6f6"/><path d="M65 570 70 490 60 486 56 567z" color="#f0f0f0"/><path d="M160 620 165 602 156 579 151 617z" color="#ececec"/><path d="M275 545 280 515 271 467 266 463z" color="#ebebeb"/><path d="M171 612 176 625 166 585 161 563z" color="#f1f1f1"/><path d="M280 515 286 521 276 461 271 467z" color="#e5e5e5"/><path d="M75 573 79 493 70 490 65 570z" color="#f0f0f0"/><path d="M208 571 213 605 204 512 198 506z" color="#f3f3f3"/><path d="M84 576 89 497 79 493 75 573z" color="#f0f0f0"/><path d="M228 594 234 563 224 474 219 477z" color="#f4f4f4"/><path d="M94 579 98 502 89 497 84 576z" color="#f0f0f0"/><path d="M132 604 137 549 127 530 122 596z" color="#f3f3f3"/><path d="M182 623 187 610 177 502 172 508z" color="#f7f7f7"/><path d="M177 625 182 623 172 508 167 502z" color="#f7f7f7"/><path d="M165 602 171 612 161 563 156 579z" color="#ececec"/><path d="M103 583 108 508 98 502 94 579z" color="#f1f1f1"/><path d="M244 527 249 568 240 467 235 467z" color="#efefef"/><path d="M122 596 127 530 117 517 113 589z" color="#f2f2f2"/><path d="M113 589 117 517 108 508 103 583z" color="#f1f1f1"/><path d="M171 616 177 625 167 502 162 507z" color="#f7f7f7"/><path d="M187 610 192 582 183 507 177 502z" color="#f5f5f5"/><path d="M156 579 161 563 151 543 146 603z" color="#eaeaea"/><path d="M234 563 239 531 230 468 224 474z" color="#efefef"/><path d="M203 535 208 571 198 506 193 509z" color="#e6e6e6"/><path d="M239 531 244 527 235 467 230 468z" color="#e7e7e7"/><path d="M192 582 197 547 188 501 183 507z" color="#eeeeee"/><path d="M166 585 171 616 162 507 157 504z" color="#f4f4f4"/><path d="M181 372 186 370 177 368 171 369z" color="#aaaaaa"/><path d="M146 603 151 543 142 504 137 549z" color="#f1f1f1"/><path d="M176 373 181 372 171 369 166 371z" color="#aaaaaa"/><path d="M197 547 203 535 193 509 188 501z" color="#dddddd"/><path d="M191 375 196 373 186 370 181 372z" color="#aaaaaa"/><path d="M171 375 176 373 166 371 161 372z" color="#aaaaaa"/><path d="M161 563 166 585 157 504 151 543z" color="#e9e9e9"/><path d="M185 376 191 375 181 372 176 373z" color="#aaaaaa"/><path d="M165 376 171 375 161 372 156 373z" color="#aaaaaa"/><path d="M200 377 205 376 196 373 191 375z" color="#aaaaaa"/><path d="M180 377 185 376 176 373 171 375z" color="#aaaaaa"/><path d="M160 378 165 376 156 373 151 375z" color="#aaaaaa"/><path d="M195 379 200 377 191 375 185 376z" color="#aaaaaa"/><path d="M175 379 180 377 171 375 165 376z" color="#aaaaaa"/><path d="M155 379 160 378 151 375 145 376z" color="#aaaaaa"/><path d="M210 380 215 379 205 376 200 377z" color="#aaaaaa"/><path d="M190 380 195 379 185 376 180 377z" color="#aaaaaa"/><path d="M170 380 175 379 165 376 160 378z" color="#aaaaaa"/><path d="M150 380 155 379 145 376 140 378z" color="#aaaaaa"/><path d="M276 461 282 466 272 397 267 399z" color="#dedede"/><path d="M204 381 210 380 200 377 195 379z" color="#aaaaaa"/><path d="M184 382 190 380 180 377 175 379z" color="#aaaaaa"/><path d="M164 382 170 380 160 378 155 379z" color="#aaaaaa"/><path d="M51 483 56 429 46 426 41 480z" color="#e1e1e1"/><path d="M144 382 150 380 140 378 135 379z" color="#aaaaaa"/><path d="M219 383 224 381 215 379 210 380z" color="#aaaaaa"/><path d="M271 467 276 461 267 399 262 400z" color="#dedede"/><path d="M199 383 204 381 195 379 190 380z" color="#aaaaaa"/><path d="M179 383 184 382 175 379 170 380z" color="#aaaaaa"/><path d="M159 383 164 382 155 379 150 380z" color="#aaaaaa"/><path d="M139 383 144 382 135 379 130 381z" color="#aaaaaa"/><path d="M214 384 219 383 210 380 204 381z" color="#aaaaaa"/><path d="M60 486 65 432 56 429 51 483z" color="#e1e1e1"/><path d="M266 463 271 467 262 400 257 402z" color="#dddddd"/><path d="M194 384 199 383 190 380 184 382z" color="#aaaaaa"/><path d="M174 384 179 383 170 380 164 382z" color="#aaaaaa"/><path d="M154 385 159 383 150 380 144 382z" color="#aaaaaa"/><path d="M134 385 139 383 130 381 124 382z" color="#aaaaaa"/><path d="M229 385 234 384 224 381 219 383z" color="#aaaaaa"/><path d="M209 386 214 384 204 381 199 383z" color="#aaaaaa"/><path d="M189 386 194 384 184 382 179 383z" color="#aaaaaa"/><path d="M169 386 174 384 164 382 159 383z" color="#aaaaaa"/><path d="M261 467 266 463 257 402 252 404z" color="#dcdcdc"/><path d="M149 386 154 385 144 382 139 383z" color="#aaaaaa"/><path d="M129 386 134 385 124 382 119 383z" color="#aaaaaa"/><path d="M70 490 75 435 65 432 60 486z" color="#e2e2e2"/><path d="M224 387 229 385 219 383 214 384z" color="#aaaaaa"/><path d="M204 387 209 386 199 383 194 384z" color="#aaaaaa"/><path d="M137 549 142 504 132 478 127 530z" color="#e9e9e9"/><path d="M184 387 189 386 179 383 174 384z" color="#aaaaaa"/><path d="M164 387 169 386 159 383 154 385z" color="#aaaaaa"/><path d="M144 388 149 386 139 383 134 385z" color="#aaaaaa"/><path d="M256 464 261 467 252 404 246 406z" color="#dbdbdb"/><path d="M124 388 129 386 119 383 114 385z" color="#aaaaaa"/><path d="M238 388 244 387 234 384 229 385z" color="#aaaaaa"/><path d="M218 388 224 387 214 384 209 386z" color="#aaaaaa"/><path d="M198 389 204 387 194 384 189 386z" color="#aaaaaa"/><path d="M178 389 184 387 174 384 169 386z" color="#aaaaaa"/><path d="M158 389 164 387 154 385 149 386z" color="#aaaaaa"/><path d="M138 389 144 388 134 385 129 386z" color="#aaaaaa"/><path d="M118 389 124 388 114 385 109 386z" color="#aaaaaa"/><path d="M79 493 84 439 75 435 70 490z" color="#e2e2e2"/><path d="M250 467 256 464 246 406 241 408z" color="#dadada"/><path d="M233 390 238 388 229 385 224 387z" color="#aaaaaa"/><path d="M213 390 218 388 209 386 204 387z" color="#aaaaaa"/><path d="M193 390 198 389 189 386 184 387z" color="#aaaaaa"/><path d="M173 390 178 389 169 386 164 387z" color="#aaaaaa"/><path d="M153 390 158 389 149 386 144 388z" color="#aaaaaa"/><path d="M133 390 138 389 129 386 124 388z" color="#aaaaaa"/><path d="M113 391 118 389 109 386 104 388z" color="#aaaaaa"/><path d="M245 465 250 467 241 408 236 410z" color="#d9d9d9"/><path d="M248 391 253 390 244 387 238 388z" color="#aaaaaa"/><path d="M228 391 233 390 224 387 218 388z" color="#aaaaaa"/><path d="M208 391 213 390 204 387 198 389z" color="#aaaaaa"/><path d="M188 391 193 390 184 387 178 389z" color="#aaaaaa"/><path d="M89 497 94 442 84 439 79 493z" color="#e2e2e2"/><path d="M168 392 173 390 164 387 158 389z" color="#aaaaaa"/><path d="M204 512 209 504 199 429 194 432z" color="#e6e6e6"/><path d="M148 392 153 390 144 388 138 389z" color="#aaaaaa"/><path d="M128 392 133 390 124 388 118 389z" color="#aaaaaa"/><path d="M108 392 113 391 104 388 98 389z" color="#aaaaaa"/><path d="M243 392 248 391 238 388 233 390z" color="#aaaaaa"/><path d="M240 467 245 465 236 410 231 413z" color="#d8d8d8"/><path d="M223 393 228 391 218 388 213 390z" color="#aaaaaa"/><path d="M203 393 208 391 198 389 193 390z" color="#aaaaaa"/><path d="M198 506 204 512 194 432 189 435z" color="#e5e5e5"/><path d="M127 530 132 478 123 462 117 517z" color="#e7e7e7"/><path d="M183 393 188 391 178 389 173 390z" color="#aaaaaa"/><path d="M209 504 214 492 205 426 199 429z" color="#e3e3e3"/><path d="M163 393 168 392 158 389 153 390z" color="#aaaaaa"/><path d="M143 393 148 392 138 389 133 390z" color="#aaaaaa"/><path d="M123 393 128 392 118 389 113 391z" color="#aaaaaa"/><path d="M151 543 157 504 147 479 142 504z" color="#e3e3e3"/><path d="M103 393 108 392 98 389 93 391z" color="#aaaaaa"/><path d="M98 502 103 447 94 442 89 497z" color="#e2e2e2"/><path d="M258 394 263 392 253 390 248 391z" color="#aaaaaa"/><path d="M235 467 240 467 231 413 225 415z" color="#d7d7d7"/><path d="M238 394 243 392 233 390 228 391z" color="#aaaaaa"/><path d="M218 394 223 393 213 390 208 391z" color="#aaaaaa"/><path d="M198 394 203 393 193 390 188 391z" color="#aaaaaa"/><path d="M177 394 183 393 173 390 168 392z" color="#aaaaaa"/><path d="M157 394 163 393 153 390 148 392z" color="#aaaaaa"/><path d="M193 509 198 506 189 435 184 439z" color="#e4e4e4"/><path d="M137 395 143 393 133 390 128 392z" color="#aaaaaa"/><path d="M117 395 123 393 113 391 108 392z" color="#aaaaaa"/><path d="M97 395 103 393 93 391 88 392z" color="#aaaaaa"/><path d="M108 508 113 453 103 447 98 502z" color="#e3e3e3"/><path d="M117 517 123 462 113 453 108 508z" color="#e4e4e4"/><path d="M252 395 258 394 248 391 243 392z" color="#aaaaaa"/><path d="M214 492 219 477 210 423 205 426z" color="#dedede"/><path d="M230 468 235 467 225 415 220 417z" color="#d6d6d6"/><path d="M232 395 238 394 228 391 223 393z" color="#aaaaaa"/><path d="M212 395 218 394 208 391 203 393z" color="#aaaaaa"/><path d="M192 396 198 394 188 391 183 393z" color="#aaaaaa"/><path d="M172 396 177 394 168 392 163 393z" color="#aaaaaa"/><path d="M224 474 230 468 220 417 215 420z" color="#d7d7d7"/><path d="M152 396 157 394 148 392 143 393z" color="#aaaaaa"/><path d="M267 399 272 397 263 392 258 394z" color="#aeaeae"/><path d="M132 396 137 395 128 392 123 393z" color="#aaaaaa"/><path d="M112 396 117 395 108 392 103 393z" color="#aaaaaa"/><path d="M219 477 224 474 215 420 210 423z" color="#d9d9d9"/><path d="M188 501 193 509 184 439 178 443z" color="#e1e1e1"/><path d="M92 396 97 395 88 392 83 394z" color="#aaaaaa"/><path d="M247 397 252 395 243 392 238 394z" color="#aaaaaa"/><path d="M227 397 232 395 223 393 218 394z" color="#aaaaaa"/><path d="M207 397 212 395 203 393 198 394z" color="#aaaaaa"/><path d="M187 397 192 396 183 393 177 394z" color="#aaaaaa"/><path d="M167 397 172 396 163 393 157 394z" color="#aaaaaa"/><path d="M262 400 267 399 258 394 252 395z" color="#afafaf"/><path d="M147 397 152 396 143 393 137 395z" color="#aaaaaa"/><path d="M127 397 132 396 123 393 117 395z" color="#aaaaaa"/><path d="M107 398 112 396 103 393 97 395z" color="#aaaaaa"/><path d="M183 507 188 501 178 443 173 447z" color="#dfdfdf"/><path d="M87 398 92 396 83 394 77 395z" color="#aaaaaa"/><path d="M242 398 247 397 238 394 232 395z" color="#aaaaaa"/><path d="M222 398 227 397 218 394 212 395z" color="#aaaaaa"/><path d="M202 398 207 397 198 394 192 396z" color="#aaaaaa"/><path d="M182 398 187 397 177 394 172 396z" color="#aaaaaa"/><path d="M177 502 183 507 173 447 168 452z" color="#dddddd"/><path d="M257 402 262 400 252 395 247 397z" color="#afafaf"/><path d="M162 399 167 397 157 394 152 396z" color="#aaaaaa"/><path d="M142 399 147 397 137 395 132 396z" color="#aaaaaa"/><path d="M122 399 127 397 117 395 112 396z" color="#aaaaaa"/><path d="M102 399 107 398 97 395 92 396z" color="#aaaaaa"/><path d="M82 399 87 398 77 395 72 396z" color="#aaaaaa"/><path d="M56 429 61 409 51 406 46 426z" color="#bababa"/><path d="M237 400 242 398 232 395 227 397z" color="#ababab"/><path d="M172 508 177 502 168 452 163 457z" color="#dbdbdb"/><path d="M217 400 222 398 212 395 207 397z" color="#aaaaaa"/><path d="M197 400 202 398 192 396 187 397z" color="#aaaaaa"/><path d="M252 404 257 402 247 397 242 398z" color="#b0b0b0"/><path d="M177 400 182 398 172 396 167 397z" color="#aaaaaa"/><path d="M157 400 162 399 152 396 147 397z" color="#aaaaaa"/><path d="M137 400 142 399 132 396 127 397z" color="#aaaaaa"/><path d="M167 502 172 508 163 457 157 462z" color="#d7d7d7"/><path d="M116 400 122 399 112 396 107 398z" color="#aaaaaa"/><path d="M96 400 102 399 92 396 87 398z" color="#aaaaaa"/><path d="M76 401 82 399 72 396 67 398z" color="#aaaaaa"/><path d="M157 504 162 507 152 468 147 479z" color="#d3d3d3"/><path d="M232 401 237 400 227 397 222 398z" color="#ababab"/><path d="M211 401 217 400 207 397 202 398z" color="#aaaaaa"/><path d="M162 507 167 502 157 462 152 468z" color="#d4d4d4"/><path d="M246 406 252 404 242 398 237 400z" color="#b1b1b1"/><path d="M191 401 197 400 187 397 182 398z" color="#aaaaaa"/><path d="M171 401 177 400 167 397 162 399z" color="#aaaaaa"/><path d="M151 401 157 400 147 397 142 399z" color="#aaaaaa"/><path d="M131 402 137 400 127 397 122 399z" color="#aaaaaa"/><path d="M111 402 116 400 107 398 102 399z" color="#aaaaaa"/><path d="M91 402 96 400 87 398 82 399z" color="#aaaaaa"/><path d="M65 432 70 412 61 409 56 429z" color="#bbbbbb"/><path d="M71 402 76 401 67 398 62 399z" color="#aaaaaa"/><path d="M226 403 232 401 222 398 217 400z" color="#ababab"/><path d="M241 408 246 406 237 400 232 401z" color="#b2b2b2"/><path d="M206 403 211 401 202 398 197 400z" color="#aaaaaa"/><path d="M186 403 191 401 182 398 177 400z" color="#aaaaaa"/><path d="M166 403 171 401 162 399 157 400z" color="#aaaaaa"/><path d="M146 403 151 401 142 399 137 400z" color="#aaaaaa"/><path d="M126 403 131 402 122 399 116 400z" color="#aaaaaa"/><path d="M106 403 111 402 102 399 96 400z" color="#aaaaaa"/><path d="M86 403 91 402 82 399 76 401z" color="#aaaaaa"/><path d="M66 404 71 402 62 399 56 401z" color="#aaaaaa"/><path d="M221 404 226 403 217 400 211 401z" color="#ababab"/><path d="M236 410 241 408 232 401 226 403z" color="#b3b3b3"/><path d="M61 409 66 404 56 401 51 406z" color="#acacac"/><path d="M201 404 206 403 197 400 191 401z" color="#aaaaaa"/><path d="M181 404 186 403 177 400 171 401z" color="#aaaaaa"/><path d="M161 404 166 403 157 400 151 401z" color="#aaaaaa"/><path d="M141 404 146 403 137 400 131 402z" color="#aaaaaa"/><path d="M121 405 126 403 116 400 111 402z" color="#aaaaaa"/><path d="M75 435 80 415 70 412 65 432z" color="#bbbbbb"/><path d="M142 504 147 479 137 453 132 478z" color="#d5d5d5"/><path d="M101 405 106 403 96 400 91 402z" color="#aaaaaa"/><path d="M81 405 86 403 76 401 71 402z" color="#aaaaaa"/><path d="M231 413 236 410 226 403 221 404z" color="#b4b4b4"/><path d="M216 406 221 404 211 401 206 403z" color="#ababab"/><path d="M196 405 201 404 191 401 186 403z" color="#aaaaaa"/><path d="M176 406 181 404 171 401 166 403z" color="#aaaaaa"/><path d="M156 406 161 404 151 401 146 403z" color="#aaaaaa"/><path d="M136 406 141 404 131 402 126 403z" color="#aaaaaa"/><path d="M116 406 121 405 111 402 106 403z" color="#aaaaaa"/><path d="M95 406 101 405 91 402 86 403z" color="#aaaaaa"/><path d="M75 407 81 405 71 402 66 404z" color="#aaaaaa"/><path d="M225 415 231 413 221 404 216 406z" color="#b5b5b5"/><path d="M70 412 75 407 66 404 61 409z" color="#acacac"/><path d="M211 407 216 406 206 403 201 404z" color="#ababab"/><path d="M191 407 196 405 186 403 181 404z" color="#aaaaaa"/><path d="M171 407 176 406 166 403 161 404z" color="#aaaaaa"/><path d="M84 439 89 418 80 415 75 435z" color="#bbbbbb"/><path d="M150 407 156 406 146 403 141 404z" color="#aaaaaa"/><path d="M130 407 136 406 126 403 121 405z" color="#aaaaaa"/><path d="M220 417 225 415 216 406 211 407z" color="#b6b6b6"/><path d="M110 407 116 406 106 403 101 405z" color="#aaaaaa"/><path d="M90 408 95 406 86 403 81 405z" color="#aaaaaa"/><path d="M205 409 211 407 201 404 196 405z" color="#acacac"/><path d="M185 408 191 407 181 404 176 406z" color="#aaaaaa"/><path d="M215 420 220 417 211 407 205 409z" color="#b7b7b7"/><path d="M165 408 171 407 161 404 156 406z" color="#aaaaaa"/><path d="M145 409 150 407 141 404 136 406z" color="#aaaaaa"/><path d="M125 409 130 407 121 405 116 406z" color="#aaaaaa"/><path d="M85 410 90 408 81 405 75 407z" color="#aaaaaa"/><path d="M105 409 110 407 101 405 95 406z" color="#aaaaaa"/><path d="M80 415 85 410 75 407 70 412z" color="#acacac"/><path d="M200 411 205 409 196 405 191 407z" color="#acacac"/><path d="M210 423 215 420 205 409 200 411z" color="#b8b8b8"/><path d="M94 442 99 421 89 418 84 439z" color="#bcbcbc"/><path d="M180 410 185 408 176 406 171 407z" color="#aaaaaa"/><path d="M160 410 165 408 156 406 150 407z" color="#aaaaaa"/><path d="M140 410 145 409 136 406 130 407z" color="#aaaaaa"/><path d="M120 410 125 409 116 406 110 407z" color="#aaaaaa"/><path d="M100 410 105 409 95 406 90 408z" color="#aaaaaa"/><path d="M205 426 210 423 200 411 195 413z" color="#bababa"/><path d="M195 413 200 411 191 407 185 408z" color="#adadad"/><path d="M175 411 180 410 171 407 165 408z" color="#ababab"/><path d="M155 411 160 410 150 407 145 409z" color="#aaaaaa"/><path d="M199 429 205 426 195 413 190 415z" color="#bcbcbc"/><path d="M135 411 140 410 130 407 125 409z" color="#aaaaaa"/><path d="M95 412 100 410 90 408 85 410z" color="#ababab"/><path d="M115 412 120 410 110 407 105 409z" color="#aaaaaa"/><path d="M132 478 137 453 128 437 123 462z" color="#cbcbcb"/><path d="M103 447 108 425 99 421 94 442z" color="#bdbdbd"/><path d="M89 418 95 412 85 410 80 415z" color="#acacac"/><path d="M190 415 195 413 185 408 180 410z" color="#aeaeae"/><path d="M147 479 152 468 143 442 137 453z" color="#cbcbcb"/><path d="M194 432 199 429 190 415 184 417z" color="#bdbdbd"/><path d="M170 413 175 411 165 408 160 410z" color="#ababab"/><path d="M150 413 155 411 145 409 140 410z" color="#aaaaaa"/><path d="M129 413 135 411 125 409 120 410z" color="#aaaaaa"/><path d="M189 435 194 432 184 417 179 419z" color="#bfbfbf"/><path d="M109 413 115 412 105 409 100 410z" color="#aaaaaa"/><path d="M184 417 190 415 180 410 175 411z" color="#aeaeae"/><path d="M113 453 118 429 108 425 103 447z" color="#c0c0c0"/><path d="M184 439 189 435 179 419 174 421z" color="#c1c1c1"/><path d="M164 415 170 413 160 410 155 411z" color="#ababab"/><path d="M123 462 128 437 118 429 113 453z" color="#c4c4c4"/><path d="M178 443 184 439 174 421 169 424z" color="#c3c3c3"/><path d="M144 414 150 413 140 410 135 411z" color="#aaaaaa"/><path d="M152 468 157 462 148 437 143 442z" color="#cacaca"/><path d="M104 415 109 413 100 410 95 412z" color="#ababab"/><path d="M124 414 129 413 120 410 115 412z" color="#aaaaaa"/><path d="M99 421 104 415 95 412 89 418z" color="#adadad"/><path d="M179 419 184 417 175 411 170 413z" color="#b0b0b0"/><path d="M173 447 178 443 169 424 164 426z" color="#c4c4c4"/><path d="M157 462 163 457 153 433 148 437z" color="#c9c9c9"/><path d="M168 452 173 447 164 426 158 430z" color="#c6c6c6"/><path d="M163 457 168 452 158 430 153 433z" color="#c7c7c7"/><path d="M159 416 164 415 155 411 150 413z" color="#ababab"/><path d="M139 416 144 414 135 411 129 413z" color="#aaaaaa"/><path d="M174 421 179 419 170 413 164 415z" color="#b1b1b1"/><path d="M119 416 124 414 115 412 109 413z" color="#aaaaaa"/><path d="M154 418 159 416 150 413 144 414z" color="#acacac"/><path d="M169 424 174 421 164 415 159 416z" color="#b2b2b2"/><path d="M114 418 119 416 109 413 104 415z" color="#ababab"/><path d="M134 417 139 416 129 413 124 414z" color="#ababab"/><path d="M108 425 114 418 104 415 99 421z" color="#adadad"/><path d="M164 426 169 424 159 416 154 418z" color="#b4b4b4"/><path d="M149 420 154 418 144 414 139 416z" color="#adadad"/><path d="M129 419 134 417 124 414 119 416z" color="#ababab"/><path d="M137 453 143 442 133 429 128 437z" color="#c1c1c1"/><path d="M158 430 164 426 154 418 149 420z" color="#b5b5b5"/><path d="M118 429 123 422 114 418 108 425z" color="#b0b0b0"/><path d="M143 422 149 420 139 416 134 417z" color="#aeaeae"/><path d="M123 422 129 419 119 416 114 418z" color="#acacac"/><path d="M153 433 158 430 149 420 143 422z" color="#b7b7b7"/><path d="M148 437 153 433 143 422 138 425z" color="#b9b9b9"/><path d="M143 442 148 437 138 425 133 429z" color="#bcbcbc"/><path d="M128 437 133 429 123 422 118 429z" color="#b6b6b6"/><path d="M138 425 143 422 134 417 129 419z" color="#afafaf"/><path d="M133 429 138 425 129 419 123 422z" color="#b1b1b1"/><path d="M640 592 645 577 636 595 631 594z" color="#d6d6d6"/><path d="M675 591 680 590 670 584 665 584z" color="#e7e7e7"/><path d="M402 592 407 587 398 584 393 590z" color="#e1e1e1"/><path d="M635 582 640 592 631 594 626 577z" color="#e0e0e0"/><path d="M664 597 670 594 660 589 655 595z" color="#e4e4e4"/><path d="M670 594 675 591 665 584 660 589z" color="#e7e7e7"/><path d="M650 594 655 595 645 577 640 592z" color="#eeeeee"/><path d="M645 577 651 545 641 589 636 595z" color="#dfdfdf"/><path d="M659 597 664 597 655 595 650 594z" color="#e1e1e1"/><path d="M412 595 417 590 407 587 402 592z" color="#e1e1e1"/><path d="M645 591 650 594 640 592 635 582z" color="#e3e3e3"/><path d="M654 597 659 597 650 594 645 591z" color="#e3e3e3"/><path d="M421 598 426 592 417 590 412 595z" color="#e1e1e1"/><path d="M655 595 660 589 651 545 645 577z" color="#f1f1f1"/><path d="M407 587 412 563 403 560 398 584z" color="#e6e6e6"/><path d="M649 598 654 597 645 591 639 591z" color="#e8e8e8"/><path d="M644 602 649 598 639 591 634 598z" color="#e7e7e7"/><path d="M639 604 644 602 634 598 629 602z" color="#e3e3e3"/><path d="M604 583 609 600 600 602 595 607z" color="#d4d4d4"/><path d="M609 600 614 592 605 580 600 602z" color="#e8e8e8"/><path d="M431 601 436 595 426 592 421 598z" color="#e1e1e1"/><path d="M665 584 670 584 661 554 656 531z" color="#efefef"/><path d="M417 590 422 565 412 563 407 587z" color="#e6e6e6"/><path d="M633 604 639 604 629 602 624 601z" color="#e1e1e1"/><path d="M651 545 656 531 646 563 641 589z" color="#dddddd"/><path d="M619 597 624 601 614 592 609 600z" color="#dfdfdf"/><path d="M440 604 445 598 436 595 431 601z" color="#e1e1e1"/><path d="M639 591 645 591 635 582 630 553z" color="#e9e9e9"/><path d="M660 589 665 584 656 531 651 545z" color="#f2f2f2"/><path d="M426 592 431 568 422 565 417 590z" color="#e6e6e6"/><path d="M628 604 633 604 624 601 619 597z" color="#e4e4e4"/><path d="M624 601 629 602 620 563 614 592z" color="#f1f1f1"/><path d="M450 606 455 601 445 598 440 604z" color="#e1e1e1"/><path d="M614 599 619 597 609 600 604 583z" color="#e3e3e3"/><path d="M436 595 441 571 431 568 426 592z" color="#e6e6e6"/><path d="M623 606 628 604 619 597 614 599z" color="#e8e8e8"/><path d="M618 609 623 606 614 599 608 606z" color="#e6e6e6"/><path d="M613 611 618 609 608 606 603 609z" color="#e2e2e2"/><path d="M599 554 604 583 595 607 589 604z" color="#dddddd"/><path d="M630 553 635 582 626 577 621 536z" color="#ededed"/><path d="M656 531 661 554 652 516 646 563z" color="#d5d5d5"/><path d="M459 609 464 604 455 601 450 606z" color="#e1e1e1"/><path d="M608 611 613 611 603 609 598 607z" color="#e1e1e1"/><path d="M445 598 450 574 441 571 436 595z" color="#e6e6e6"/><path d="M412 563 417 536 408 533 403 560z" color="#e1e1e1"/><path d="M629 602 634 598 625 539 620 563z" color="#f4f4f4"/><path d="M553 619 558 615 549 594 544 589z" color="#f7f7f7"/><path d="M634 598 639 591 630 553 625 539z" color="#f2f2f2"/><path d="M558 615 564 597 554 593 549 594z" color="#ededed"/><path d="M468 612 474 608 464 604 459 609z" color="#e1e1e1"/><path d="M588 608 593 604 583 605 578 606z" color="#d9d9d9"/><path d="M455 601 460 577 450 574 445 598z" color="#e6e6e6"/><path d="M600 602 605 580 596 537 590 539z" color="#f3f3f3"/><path d="M602 612 608 611 598 607 593 604z" color="#e4e4e4"/><path d="M614 592 620 563 610 535 605 580z" color="#f1f1f1"/><path d="M593 604 598 607 589 581 583 605z" color="#ececec"/><path d="M422 565 427 539 417 536 412 563z" color="#e1e1e1"/><path d="M608 606 614 599 604 583 599 554z" color="#eeeeee"/><path d="M597 614 602 612 593 604 588 608z" color="#e8e8e8"/><path d="M478 615 483 612 474 608 468 612z" color="#e2e2e2"/><path d="M592 617 597 614 588 608 583 614z" color="#e5e5e5"/><path d="M464 604 469 581 460 577 455 601z" color="#e5e5e5"/><path d="M587 619 592 617 583 614 577 616z" color="#e1e1e1"/><path d="M636 595 641 589 632 467 627 469z" color="#f7f7f7"/><path d="M595 607 600 602 590 539 585 501z" color="#f7f7f7"/><path d="M583 614 588 608 578 606 573 583z" color="#ececec"/><path d="M431 568 436 542 427 539 422 565z" color="#e1e1e1"/><path d="M512 631 517 629 507 623 502 627z" color="#eeeeee"/><path d="M631 594 636 595 627 469 622 471z" color="#f7f7f7"/><path d="M487 618 493 617 483 612 478 615z" color="#e3e3e3"/><path d="M582 619 587 619 577 616 572 613z" color="#e1e1e1"/><path d="M474 608 479 586 469 581 464 604z" color="#e5e5e5"/><path d="M517 629 522 618 513 617 507 623z" color="#e9e9e9"/><path d="M598 607 603 609 594 552 589 581z" color="#f3f3f3"/><path d="M564 597 569 554 559 591 554 593z" color="#dddddd"/><path d="M502 627 507 623 498 600 493 617z" color="#f4f4f4"/><path d="M548 615 553 619 544 589 538 559z" color="#f3f3f3"/><path d="M497 620 502 627 493 617 487 618z" color="#e7e7e7"/><path d="M641 589 646 563 637 465 632 467z" color="#f5f5f5"/><path d="M594 552 599 554 589 604 584 584z" color="#d7d7d7"/><path d="M552 617 557 600 548 615 543 593z" color="#dedede"/><path d="M441 571 446 545 436 542 431 568z" color="#e1e1e1"/><path d="M483 612 488 592 479 586 474 608z" color="#e5e5e5"/><path d="M603 609 608 606 599 554 594 552z" color="#f4f4f4"/><path d="M557 600 563 569 553 619 548 615z" color="#d7d7d7"/><path d="M557 623 562 617 552 617 547 611z" color="#e5e5e5"/><path d="M506 623 512 631 502 627 497 620z" color="#e6e6e6"/><path d="M521 632 526 624 517 629 512 631z" color="#dfdfdf"/><path d="M577 619 582 619 572 613 567 612z" color="#e5e5e5"/><path d="M493 617 498 600 488 592 483 612z" color="#e7e7e7"/><path d="M562 617 567 612 557 600 552 617z" color="#e7e7e7"/><path d="M626 577 631 594 622 471 617 474z" color="#f6f6f6"/><path d="M571 622 577 619 567 612 562 617z" color="#e7e7e7"/><path d="M566 625 571 622 562 617 557 623z" color="#e4e4e4"/><path d="M450 574 455 548 446 545 441 571z" color="#e1e1e1"/><path d="M573 583 578 606 569 554 564 597z" color="#eaeaea"/><path d="M568 559 573 583 564 597 558 615z" color="#cdcdcd"/><path d="M507 623 513 617 503 583 498 600z" color="#f3f3f3"/><path d="M561 626 566 625 557 623 551 624z" color="#e0e0e0"/><path d="M605 580 610 535 601 519 596 537z" color="#ececec"/><path d="M542 423 547 426 538 423 532 420z" color="#b3b3b3"/><path d="M417 536 422 510 413 507 408 533z" color="#dadada"/><path d="M516 625 521 632 512 631 506 623z" color="#e3e3e3"/><path d="M563 569 568 559 558 615 553 619z" color="#dedede"/><path d="M577 616 583 614 573 583 568 559z" color="#f2f2f2"/><path d="M526 624 532 601 522 618 517 629z" color="#dedede"/><path d="M460 577 465 552 455 548 450 574z" color="#e1e1e1"/><path d="M522 618 527 587 518 600 513 617z" color="#e4e4e4"/><path d="M531 632 536 628 526 624 521 632z" color="#e5e5e5"/><path d="M556 626 561 626 551 624 546 622z" color="#e1e1e1"/><path d="M551 624 557 623 547 611 542 590z" color="#eeeeee"/><path d="M567 612 572 613 563 569 557 600z" color="#efefef"/><path d="M427 539 432 513 422 510 417 536z" color="#dadada"/><path d="M551 425 557 429 547 426 542 423z" color="#b3b3b3"/><path d="M589 581 594 552 584 584 579 542z" color="#d0d0d0"/><path d="M469 581 474 556 465 552 460 577z" color="#e1e1e1"/><path d="M551 628 556 626 546 622 541 623z" color="#e4e4e4"/><path d="M578 606 583 605 574 521 569 554z" color="#f6f6f6"/><path d="M537 420 542 423 532 420 527 417z" color="#b2b2b2"/><path d="M525 625 531 632 521 632 516 625z" color="#e0e0e0"/><path d="M625 539 630 553 621 536 616 508z" color="#e0e0e0"/><path d="M646 563 652 516 643 462 637 465z" color="#f0f0f0"/><path d="M569 554 574 521 564 584 559 591z" color="#e0e0e0"/><path d="M545 630 551 628 541 623 536 628z" color="#e4e4e4"/><path d="M536 628 541 623 532 601 526 624z" color="#eeeeee"/><path d="M547 611 552 617 543 593 538 557z" color="#f1f1f1"/><path d="M540 633 545 630 536 628 531 632z" color="#e0e0e0"/><path d="M513 617 518 600 508 565 503 583z" color="#efefef"/><path d="M572 613 577 616 568 559 563 569z" color="#f3f3f3"/><path d="M620 563 625 539 616 508 610 535z" color="#e7e7e7"/><path d="M479 586 484 562 474 556 469 581z" color="#e1e1e1"/><path d="M589 604 595 607 585 501 580 465z" color="#f6f6f6"/><path d="M436 542 441 516 432 513 427 539z" color="#dadada"/><path d="M561 428 566 431 557 429 551 425z" color="#b3b3b3"/><path d="M498 600 503 583 493 570 488 592z" color="#e2e2e2"/><path d="M488 592 493 570 484 562 479 586z" color="#e1e1e1"/><path d="M583 605 589 581 579 542 574 521z" color="#f2f2f2"/><path d="M546 422 551 425 542 423 537 420z" color="#b2b2b2"/><path d="M621 536 626 577 617 474 611 476z" color="#f1f1f1"/><path d="M532 416 537 420 527 417 522 414z" color="#b1b1b1"/><path d="M446 545 451 519 441 516 436 542z" color="#dadada"/><path d="M571 431 576 434 566 431 561 428z" color="#b3b3b3"/><path d="M535 625 540 633 531 632 525 625z" color="#dfdfdf"/><path d="M546 622 551 624 542 590 537 581z" color="#f1f1f1"/><path d="M574 521 579 542 570 557 564 584z" color="#c8c8c8"/><path d="M541 623 546 622 537 581 532 601z" color="#f1f1f1"/><path d="M579 542 584 584 575 500 570 557z" color="#e4e4e4"/><path d="M556 425 561 428 551 425 546 422z" color="#b2b2b2"/><path d="M532 601 537 581 527 587 522 618z" color="#e2e2e2"/><path d="M455 548 460 523 451 519 446 545z" color="#dadada"/><path d="M541 419 546 422 537 420 532 416z" color="#b1b1b1"/><path d="M584 584 589 604 580 465 575 500z" color="#f6f6f6"/><path d="M580 434 585 437 576 434 571 431z" color="#b3b3b3"/><path d="M422 510 427 487 418 484 413 507z" color="#d1d1d1"/><path d="M526 414 532 416 522 414 517 411z" color="#b0b0b0"/><path d="M543 593 548 615 538 559 533 512z" color="#f5f5f5"/><path d="M565 428 571 431 561 428 556 425z" color="#b2b2b2"/><path d="M559 591 564 584 555 492 550 495z" color="#f4f4f4"/><path d="M554 593 559 591 550 495 545 499z" color="#f5f5f5"/><path d="M610 535 616 508 606 497 601 519z" color="#d9d9d9"/><path d="M465 552 470 527 460 523 455 548z" color="#dadada"/><path d="M549 594 554 593 545 499 539 503z" color="#f5f5f5"/><path d="M551 422 556 425 546 422 541 419z" color="#b1b1b1"/><path d="M590 437 595 440 585 437 580 434z" color="#b3b3b3"/><path d="M432 513 437 490 427 487 422 510z" color="#d1d1d1"/><path d="M503 583 508 565 499 549 493 570z" color="#dedede"/><path d="M536 416 541 419 532 416 526 414z" color="#b0b0b0"/><path d="M544 589 549 594 539 503 534 509z" color="#f4f4f4"/><path d="M575 431 580 434 571 431 565 428z" color="#b3b3b3"/><path d="M474 556 479 531 470 527 465 552z" color="#dadada"/><path d="M518 600 523 556 513 550 508 565z" color="#e9e9e9"/><path d="M564 584 570 557 560 489 555 492z" color="#f2f2f2"/><path d="M521 411 526 414 517 411 512 408z" color="#b0b0b0"/><path d="M560 425 565 428 556 425 551 422z" color="#b2b2b2"/><path d="M616 508 621 536 611 476 606 497z" color="#dbdbdb"/><path d="M484 562 489 538 479 531 474 556z" color="#dadada"/><path d="M493 570 499 549 489 538 484 562z" color="#dbdbdb"/><path d="M590 539 596 537 586 477 581 480z" color="#e9e9e9"/><path d="M599 440 604 442 595 440 590 437z" color="#b4b4b4"/><path d="M441 516 447 493 437 490 432 513z" color="#d1d1d1"/><path d="M542 590 547 611 538 557 532 551z" color="#eeeeee"/><path d="M527 587 532 551 523 556 518 600z" color="#ececec"/><path d="M545 419 551 422 541 419 536 416z" color="#b1b1b1"/><path d="M584 434 590 437 580 434 575 431z" color="#b3b3b3"/><path d="M596 537 601 519 591 474 586 477z" color="#e6e6e6"/><path d="M531 414 536 416 526 414 521 411z" color="#b0b0b0"/><path d="M570 428 575 431 565 428 560 425z" color="#b2b2b2"/><path d="M537 581 542 590 532 551 527 587z" color="#e2e2e2"/><path d="M609 444 614 445 604 442 599 440z" color="#b4b4b4"/><path d="M451 519 456 496 447 493 441 516z" color="#d1d1d1"/><path d="M516 408 521 411 512 408 506 405z" color="#afafaf"/><path d="M538 559 544 589 534 509 529 516z" color="#eeeeee"/><path d="M555 422 560 425 551 422 545 419z" color="#b1b1b1"/><path d="M594 438 599 440 590 437 584 434z" color="#b3b3b3"/><path d="M427 487 433 467 423 464 418 484z" color="#c8c8c8"/><path d="M540 417 545 419 536 416 531 414z" color="#b0b0b0"/><path d="M579 432 584 434 575 431 570 428z" color="#b2b2b2"/><path d="M618 448 624 448 614 445 609 444z" color="#b5b5b5"/><path d="M460 523 466 500 456 496 451 519z" color="#d1d1d1"/><path d="M601 519 606 497 597 471 591 474z" color="#d9d9d9"/><path d="M508 565 513 550 504 529 499 549z" color="#dbdbdb"/><path d="M525 411 531 414 521 411 516 408z" color="#afafaf"/><path d="M604 442 609 444 599 440 594 438z" color="#b5b5b5"/><path d="M565 426 570 428 560 425 555 422z" color="#b1b1b1"/><path d="M511 406 516 408 506 405 501 403z" color="#aeaeae"/><path d="M585 501 590 539 581 480 576 482z" color="#dfdfdf"/><path d="M437 490 442 470 433 467 427 487z" color="#c8c8c8"/><path d="M589 436 594 438 584 434 579 432z" color="#b3b3b3"/><path d="M628 454 633 451 624 448 618 448z" color="#b8b8b8"/><path d="M637 465 643 462 633 451 628 454z" color="#c4c4c4"/><path d="M550 420 555 422 545 419 540 417z" color="#b0b0b0"/><path d="M470 527 475 504 466 500 460 523z" color="#d1d1d1"/><path d="M613 448 618 448 609 444 604 442z" color="#b8b8b8"/><path d="M632 467 637 465 628 454 623 457z" color="#c4c4c4"/><path d="M535 414 540 417 531 414 525 411z" color="#afafaf"/><path d="M574 429 579 432 570 428 565 426z" color="#b2b2b2"/><path d="M623 457 628 454 618 448 613 448z" color="#bdbdbd"/><path d="M627 469 632 467 623 457 617 460z" color="#c3c3c3"/><path d="M570 557 575 500 565 487 560 489z" color="#e7e7e7"/><path d="M598 441 604 442 594 438 589 436z" color="#b6b6b6"/><path d="M520 409 525 411 516 408 511 406z" color="#aeaeae"/><path d="M479 531 485 509 475 504 470 527z" color="#d1d1d1"/><path d="M499 549 504 529 494 517 489 538z" color="#d5d5d5"/><path d="M447 493 452 473 442 470 437 490z" color="#c8c8c8"/><path d="M606 497 611 476 602 469 597 471z" color="#cfcfcf"/><path d="M622 471 627 469 617 460 612 463z" color="#c2c2c2"/><path d="M559 423 565 426 555 422 550 420z" color="#b0b0b0"/><path d="M617 460 623 457 613 448 608 448z" color="#c1c1c1"/><path d="M505 404 511 406 501 403 496 401z" color="#adadad"/><path d="M489 538 494 517 485 509 479 531z" color="#d2d2d2"/><path d="M608 448 613 448 604 442 598 441z" color="#bababa"/><path d="M617 474 622 471 612 463 607 466z" color="#c1c1c1"/><path d="M584 434 589 436 579 432 574 429z" color="#b3b3b3"/><path d="M545 417 550 420 540 417 535 414z" color="#afafaf"/><path d="M612 463 617 460 608 448 603 449z" color="#c5c5c5"/><path d="M611 476 617 474 607 466 602 469z" color="#c0c0c0"/><path d="M530 412 535 414 525 411 520 409z" color="#aeaeae"/><path d="M433 467 438 451 428 448 423 464z" color="#c4c4c4"/><path d="M513 550 519 536 509 513 504 529z" color="#d9d9d9"/><path d="M569 427 574 429 565 426 559 423z" color="#b1b1b1"/><path d="M456 496 461 476 452 473 447 493z" color="#c8c8c8"/><path d="M593 440 598 441 589 436 584 434z" color="#b6b6b6"/><path d="M515 406 520 409 511 406 505 404z" color="#adadad"/><path d="M607 466 612 463 603 449 598 449z" color="#c9c9c9"/><path d="M603 449 608 448 598 441 593 440z" color="#bcbcbc"/><path d="M538 557 543 593 533 512 528 506z" color="#efefef"/><path d="M500 402 505 404 496 401 491 399z" color="#adadad"/><path d="M554 421 559 423 550 420 545 417z" color="#b0b0b0"/><path d="M523 556 528 506 519 536 513 550z" color="#dedede"/><path d="M533 512 538 559 529 516 524 525z" color="#d3d3d3"/><path d="M602 469 607 466 598 449 592 449z" color="#cccccc"/><path d="M578 432 584 434 574 429 569 427z" color="#b3b3b3"/><path d="M539 415 545 417 535 414 530 412z" color="#afafaf"/><path d="M442 470 447 454 438 451 433 467z" color="#c4c4c4"/><path d="M466 500 471 480 461 476 456 496z" color="#c8c8c8"/><path d="M532 551 538 557 528 506 523 556z" color="#dedede"/><path d="M598 449 603 449 593 440 588 439z" color="#bdbdbd"/><path d="M588 439 593 440 584 434 578 432z" color="#b7b7b7"/><path d="M525 409 530 412 520 409 515 406z" color="#aeaeae"/><path d="M597 471 602 469 592 449 587 450z" color="#cecece"/><path d="M564 425 569 427 559 423 554 421z" color="#b1b1b1"/><path d="M510 404 515 406 505 404 500 402z" color="#adadad"/><path d="M495 400 500 402 491 399 486 397z" color="#acacac"/><path d="M475 504 480 484 471 480 466 500z" color="#c9c9c9"/><path d="M591 474 597 471 587 450 582 450z" color="#cfcfcf"/><path d="M549 418 554 421 545 417 539 415z" color="#afafaf"/><path d="M519 536 524 525 514 499 509 513z" color="#d8d8d8"/><path d="M504 529 509 513 499 499 494 517z" color="#d1d1d1"/><path d="M452 473 457 457 447 454 442 470z" color="#c4c4c4"/><path d="M573 430 578 432 569 427 564 425z" color="#b3b3b3"/><path d="M592 449 598 449 588 439 583 438z" color="#bfbfbf"/><path d="M438 451 443 437 433 435 428 448z" color="#bfbfbf"/><path d="M534 413 539 415 530 412 525 409z" color="#aeaeae"/><path d="M580 465 585 501 576 482 571 485z" color="#c1c1c1"/><path d="M586 477 591 474 582 450 577 451z" color="#d1d1d1"/><path d="M485 509 490 490 480 484 475 504z" color="#cacaca"/><path d="M583 438 588 439 578 432 573 430z" color="#b8b8b8"/><path d="M519 408 525 409 515 406 510 404z" color="#adadad"/><path d="M494 517 499 499 490 490 485 509z" color="#cccccc"/><path d="M558 423 564 425 554 421 549 418z" color="#b1b1b1"/><path d="M505 403 510 404 500 402 495 400z" color="#acacac"/><path d="M581 480 586 477 577 451 572 451z" color="#d1d1d1"/><path d="M490 399 495 400 486 397 480 396z" color="#acacac"/><path d="M575 500 580 465 571 485 565 487z" color="#c3c3c3"/><path d="M461 476 466 460 457 457 452 473z" color="#c4c4c4"/><path d="M587 450 592 449 583 438 578 437z" color="#c1c1c1"/><path d="M544 416 549 418 539 415 534 413z" color="#afafaf"/><path d="M447 454 452 440 443 437 438 451z" color="#bfbfbf"/><path d="M568 428 573 430 564 425 558 423z" color="#b3b3b3"/><path d="M528 506 533 512 524 525 519 536z" color="#b8b8b8"/><path d="M576 482 581 480 572 451 566 452z" color="#d2d2d2"/><path d="M524 525 529 516 519 488 514 499z" color="#d7d7d7"/><path d="M529 411 534 413 525 409 519 408z" color="#aeaeae"/><path d="M578 437 583 438 573 430 568 428z" color="#b8b8b8"/><path d="M514 406 519 408 510 404 505 403z" color="#adadad"/><path d="M443 437 448 427 439 424 433 435z" color="#bababa"/><path d="M571 485 576 482 566 452 561 453z" color="#d2d2d2"/><path d="M471 480 476 464 466 460 461 476z" color="#c4c4c4"/><path d="M499 402 505 403 495 400 490 399z" color="#acacac"/><path d="M485 398 490 399 480 396 475 395z" color="#acacac"/><path d="M553 421 558 423 549 418 544 416z" color="#b0b0b0"/><path d="M582 450 587 450 578 437 572 436z" color="#c2c2c2"/><path d="M457 457 462 443 452 440 447 454z" color="#bfbfbf"/><path d="M565 487 571 485 561 453 556 455z" color="#d3d3d3"/><path d="M509 513 514 499 505 484 499 499z" color="#cfcfcf"/><path d="M538 415 544 416 534 413 529 411z" color="#aeaeae"/><path d="M529 516 534 509 525 480 519 488z" color="#d6d6d6"/><path d="M563 427 568 428 558 423 553 421z" color="#b3b3b3"/><path d="M480 484 485 468 476 464 471 480z" color="#c5c5c5"/><path d="M572 436 578 437 568 428 563 427z" color="#b9b9b9"/><path d="M560 489 565 487 556 455 551 457z" color="#d3d3d3"/><path d="M524 409 529 411 519 408 514 406z" color="#adadad"/><path d="M479 399 485 398 475 395 470 396z" color="#acacac"/><path d="M452 440 458 430 448 427 443 437z" color="#bababa"/><path d="M448 427 453 419 444 416 439 424z" color="#b4b4b4"/><path d="M577 451 582 450 572 436 567 435z" color="#c3c3c3"/><path d="M509 405 514 406 505 403 499 402z" color="#acacac"/><path d="M494 401 499 402 490 399 485 398z" color="#acacac"/><path d="M555 492 560 489 551 457 545 460z" color="#d3d3d3"/><path d="M534 509 539 503 530 473 525 480z" color="#d5d5d5"/><path d="M490 490 495 475 485 468 480 484z" color="#c7c7c7"/><path d="M548 419 553 421 544 416 538 415z" color="#b0b0b0"/><path d="M466 460 471 447 462 443 457 457z" color="#c0c0c0"/><path d="M499 499 505 484 495 475 490 490z" color="#c9c9c9"/><path d="M474 401 479 399 470 396 465 398z" color="#adadad"/><path d="M550 495 555 492 545 460 540 463z" color="#d4d4d4"/><path d="M539 503 545 499 535 467 530 473z" color="#d5d5d5"/><path d="M453 419 458 413 449 410 444 416z" color="#b0b0b0"/><path d="M545 499 550 495 540 463 535 467z" color="#d4d4d4"/><path d="M533 413 538 415 529 411 524 409z" color="#aeaeae"/><path d="M469 404 474 401 465 398 459 401z" color="#adadad"/><path d="M558 426 563 427 553 421 548 419z" color="#b3b3b3"/><path d="M572 451 577 451 567 435 562 435z" color="#c5c5c5"/><path d="M567 435 572 436 563 427 558 426z" color="#b9b9b9"/><path d="M458 413 464 408 454 405 449 410z" color="#afafaf"/><path d="M464 408 469 404 459 401 454 405z" color="#aeaeae"/><path d="M462 443 467 433 458 430 452 440z" color="#bababa"/><path d="M489 401 494 401 485 398 479 399z" color="#acacac"/><path d="M518 408 524 409 514 406 509 405z" color="#adadad"/><path d="M458 430 463 422 453 419 448 427z" color="#b4b4b4"/><path d="M504 404 509 405 499 402 494 401z" color="#acacac"/><path d="M476 464 481 451 471 447 466 460z" color="#c0c0c0"/><path d="M514 499 519 488 510 472 505 484z" color="#cdcdcd"/><path d="M543 418 548 419 538 415 533 413z" color="#b0b0b0"/><path d="M484 404 489 401 479 399 474 401z" color="#adadad"/><path d="M463 422 468 416 458 413 453 419z" color="#b0b0b0"/><path d="M566 452 572 451 562 435 557 435z" color="#c6c6c6"/><path d="M478 407 484 404 474 401 469 404z" color="#adadad"/><path d="M528 412 533 413 524 409 518 408z" color="#aeaeae"/><path d="M562 435 567 435 558 426 552 425z" color="#bababa"/><path d="M471 447 477 436 467 433 462 443z" color="#bababa"/><path d="M468 416 473 411 464 408 458 413z" color="#afafaf"/><path d="M552 425 558 426 548 419 543 418z" color="#b4b4b4"/><path d="M473 411 478 407 469 404 464 408z" color="#aeaeae"/><path d="M498 405 504 404 494 401 489 401z" color="#acacac"/><path d="M485 468 491 455 481 451 476 464z" color="#c1c1c1"/><path d="M467 433 472 425 463 422 458 430z" color="#b5b5b5"/><path d="M513 408 518 408 509 405 504 404z" color="#adadad"/><path d="M505 484 510 472 500 462 495 475z" color="#c6c6c6"/><path d="M561 453 566 452 557 435 552 435z" color="#c6c6c6"/><path d="M495 475 500 462 491 455 485 468z" color="#c3c3c3"/><path d="M493 407 498 405 489 401 484 404z" color="#adadad"/><path d="M538 417 543 418 533 413 528 412z" color="#b0b0b0"/><path d="M472 425 478 419 468 416 463 422z" color="#b1b1b1"/><path d="M519 488 525 480 515 462 510 472z" color="#cccccc"/><path d="M481 451 486 440 477 436 471 447z" color="#bbbbbb"/><path d="M488 410 493 407 484 404 478 407z" color="#aeaeae"/><path d="M557 435 562 435 552 425 547 424z" color="#bababa"/><path d="M523 412 528 412 518 408 513 408z" color="#aeaeae"/><path d="M508 408 513 408 504 404 498 405z" color="#adadad"/><path d="M478 419 483 414 473 411 468 416z" color="#afafaf"/><path d="M483 414 488 410 478 407 473 411z" color="#aeaeae"/><path d="M477 436 482 428 472 425 467 433z" color="#b5b5b5"/><path d="M547 424 552 425 543 418 538 417z" color="#b4b4b4"/><path d="M556 455 561 453 552 435 546 436z" color="#c7c7c7"/><path d="M503 411 508 408 498 405 493 407z" color="#aeaeae"/><path d="M525 480 530 473 520 455 515 462z" color="#cacaca"/><path d="M491 455 496 445 486 440 481 451z" color="#bcbcbc"/><path d="M551 457 556 455 546 436 541 438z" color="#c8c8c8"/><path d="M482 428 487 422 478 419 472 425z" color="#b1b1b1"/><path d="M532 417 538 417 528 412 523 412z" color="#b0b0b0"/><path d="M552 435 557 435 547 424 542 424z" color="#bbbbbb"/><path d="M498 414 503 411 493 407 488 410z" color="#aeaeae"/><path d="M518 412 523 412 513 408 508 408z" color="#aeaeae"/><path d="M510 472 515 462 505 452 500 462z" color="#c3c3c3"/><path d="M486 440 491 432 482 428 477 436z" color="#b6b6b6"/><path d="M545 460 551 457 541 438 536 441z" color="#c8c8c8"/><path d="M487 422 492 417 483 414 478 419z" color="#b0b0b0"/><path d="M492 417 498 414 488 410 483 414z" color="#afafaf"/><path d="M500 462 505 452 496 445 491 455z" color="#bfbfbf"/><path d="M530 473 535 467 525 449 520 455z" color="#c9c9c9"/><path d="M542 424 547 424 538 417 532 417z" color="#b4b4b4"/><path d="M540 463 545 460 536 441 531 445z" color="#c8c8c8"/><path d="M535 467 540 463 531 445 525 449z" color="#c9c9c9"/><path d="M512 415 518 412 508 408 503 411z" color="#afafaf"/><path d="M527 417 532 417 523 412 518 412z" color="#b1b1b1"/><path d="M491 432 497 426 487 422 482 428z" color="#b2b2b2"/><path d="M546 436 552 435 542 424 537 425z" color="#bbbbbb"/><path d="M496 445 501 437 491 432 486 440z" color="#b7b7b7"/><path d="M507 418 512 415 503 411 498 414z" color="#b0b0b0"/><path d="M497 426 502 421 492 417 487 422z" color="#b1b1b1"/><path d="M502 421 507 418 498 414 492 417z" color="#b0b0b0"/><path d="M515 462 520 455 511 444 505 452z" color="#c1c1c1"/><path d="M537 425 542 424 532 417 527 417z" color="#b5b5b5"/><path d="M505 452 511 444 501 437 496 445z" color="#bbbbbb"/><path d="M522 420 527 417 518 412 512 415z" color="#b1b1b1"/><path d="M541 438 546 436 537 425 532 427z" color="#bcbcbc"/><path d="M501 437 506 431 497 426 491 432z" color="#b4b4b4"/><path d="M517 423 522 420 512 415 507 418z" color="#b2b2b2"/><path d="M520 455 525 449 516 438 511 444z" color="#bfbfbf"/><path d="M532 427 537 425 527 417 522 420z" color="#b6b6b6"/><path d="M536 441 541 438 532 427 526 430z" color="#bcbcbc"/><path d="M506 431 511 426 502 421 497 426z" color="#b3b3b3"/><path d="M511 426 517 423 507 418 502 421z" color="#b2b2b2"/><path d="M531 445 536 441 526 430 521 434z" color="#bdbdbd"/><path d="M511 444 516 438 506 431 501 437z" color="#b8b8b8"/><path d="M525 449 531 445 521 434 516 438z" color="#bdbdbd"/><path d="M526 430 532 427 522 420 517 423z" color="#b6b6b6"/><path d="M516 438 521 434 511 426 506 431z" color="#b7b7b7"/><path d="M521 434 526 430 517 423 511 426z" color="#b6b6b6"/></g><path d="M173.7 297.1L177.3 294.6L181.0 292.7L184.6 292.2L188.2 291.8L191.9 291.3L195.5 290.5L199.1 289.0L202.7 286.8L206.4 285.4L210.0 285.1L213.6 284.6L217.3 284.1L220.9 283.3L224.5 281.6L228.1 279.4L231.8 278.3L235.4 278.0L239.0 277.5L242.6 277.0L246.2 276.0L249.8 274.2L253.5 272.1L257.1 271.2L260.7 270.8L264.3 270.3L267.9 269.8L271.5 268.8L275.1 266.8L278.8 264.8L282.4 264.1L286.0 263.7L289.6 263.2L293.2 262.7L296.8 261.5L300.4 259.5L304.0 257.6L307.6 257.0L311.2 256.6L314.8 256.1L318.4 255.6" fill="none" stroke="#222" stroke-width="0.8"/><path d="M164.2 294.2L167.8 289.8L171.4 286.7L175.1 287.0L178.7 287.3L182.3 287.5L186.0 287.3L189.6 284.9L193.2 281.0L196.9 279.2L200.5 279.9L204.1 280.2L207.7 280.5L211.4 280.0L215.0 277.3L218.6 273.5L222.2 272.2L225.9 272.9L229.5 273.2L233.1 273.5L236.7 272.7L240.3 269.7L244.0 266.0L247.6 265.2L251.2 266.0L254.8 266.2L258.4 266.4L262.0 265.4L265.6 262.1L269.3 258.7L272.9 258.3L276.5 259.0L280.1 259.2L283.7 259.4L287.3 258.0L290.9 254.5L294.5 251.4L298.1 251.4L301.7 252.0L305.3 252.2L308.9 252.3" fill="none" stroke="#222" stroke-width="0.8"/><path d="M154.7 291.4L158.3 272.7L161.9 261.3L165.6 266.8L169.2 272.8L172.8 278.6L176.5 283.3L180.1 283.0L183.7 276.5L187.4 261.6L191.0 251.1L194.6 256.3L198.3 263.3L201.9 268.9L205.5 274.3L209.1 275.0L212.7 270.1L216.4 256.5L220.1 243.4L223.7 246.1L227.3 253.8L230.9 259.2L234.4 265.1L238.0 266.9L241.7 263.3L245.3 251.4L249.0 236.6L252.6 236.1L256.2 244.2L259.8 249.6L263.4 255.7L266.9 258.5L270.6 256.1L274.2 246.1L277.9 230.4L281.6 226.5L285.1 234.4L288.7 240.1L292.2 246.2L295.8 250.0L299.4 248.7" fill="none" stroke="#c84a3c" stroke-width="1.4"/><path d="M145.2 288.6L148.7 254.6L152.3 234.1L156.0 245.3L159.7 257.4L163.3 269.2L167.0 279.0L170.6 281.1L174.2 280.4L177.8 279.2L181.5 276.7L185.1 266.2L188.8 240.0L192.4 219.3L196.0 228.5L199.6 242.9L203.3 254.1L206.8 265.5L210.5 269.4L214.1 269.0L217.7 268.0L221.3 266.2L225.0 258.9L228.6 236.6L232.4 210.5L236.0 212.4L239.5 228.2L243.1 239.1L246.6 251.5L250.2 257.5L253.8 257.7L257.4 256.7L261.0 255.3L264.7 250.5L268.4 232.8L272.2 204.3L275.8 197.4L279.3 213.0L282.8 224.6L286.3 236.8L289.9 245.1" fill="none" stroke="#222" stroke-width="0.8"/><path d="M135.7 288.2L139.2 231.7L142.8 212.6L146.4 200.1L150.1 195.4L153.7 201.4L157.4 198.4L161.0 206.1L164.7 205.4L168.3 201.8L172.0 210.7L175.6 206.6L179.2 205.4L182.9 211.0L186.5 204.4L190.2 209.1L193.8 211.6L197.4 205.4L201.1 211.7L204.7 204.2L208.4 192.8L212.0 192.7L215.7 183.3L219.3 178.5L222.9 176.7L226.6 168.3L230.2 173.3L233.8 172.1L237.5 166.8L241.1 173.8L244.7 168.7L248.4 167.9L252.0 173.6L255.6 166.4L259.2 170.2L262.8 171.8L266.5 165.2L270.1 171.7L273.7 168.3L277.3 164.7L280.9 170.6" fill="none" stroke="#222" stroke-width="0.8"/><path d="M126.2 285.4L129.7 237.4L133.2 205.8L136.8 184.4L140.5 169.4L144.1 158.3L147.7 149.7L151.4 142.7L155.0 136.9L158.7 131.7L162.4 127.1L166.0 122.9L169.7 118.9L173.3 115.3L177.0 111.8L180.7 108.6L184.3 105.5L188.0 102.5L191.7 99.7L195.3 97.0L199.0 94.4L202.6 91.9L206.3 89.6L210.0 87.3L213.6 85.1L217.3 83.0L220.9 80.9L224.6 79.0L228.3 77.1L231.9 75.2L235.6 73.4L239.2 71.7L242.9 70.0L246.5 68.4L250.2 66.8L253.8 65.2L257.5 63.7L261.1 62.2L264.8 60.7L268.4 59.3L272.1 57.9" fill="none" stroke="#222" stroke-width="0.8"/><path d="M116.7 282.6L120.1 221.0L123.6 181.2L127.2 154.8L130.8 136.8L134.4 124.1L138.1 114.8L141.7 107.7L145.4 102.1L149.1 97.5L152.7 93.7L156.4 90.4L160.1 87.6L163.7 85.1L167.4 82.8L171.1 80.7L174.7 78.8L178.4 77.1L182.1 75.5L185.7 73.9L189.4 72.5L193.1 71.1L196.7 69.8L200.4 68.5L204.1 67.3L207.7 66.1L211.4 64.9L215.0 63.7L218.7 62.6L222.3 61.5L226.0 60.4L229.7 59.3L233.3 58.3L237.0 57.2L240.6 56.2L244.3 55.1L247.9 54.1L251.6 53.0L255.2 52.0L258.9 51.0L262.5 50.0" fill="none" stroke="#222" stroke-width="0.8"/><path d="M107.2 279.8L110.5 206.0L114.0 160.4L117.6 131.9L121.2 113.8L124.8 102.1L128.5 94.3L132.1 89.0L135.8 85.1L139.5 82.3L143.1 80.1L146.8 78.2L150.5 76.7L154.1 75.3L157.8 74.0L161.5 72.8L165.1 71.7L168.8 70.6L172.5 69.5L176.1 68.5L179.8 67.4L183.5 66.4L187.1 65.4L190.8 64.3L194.5 63.3L198.1 62.3L201.8 61.3L205.4 60.3L209.1 59.3L212.8 58.2L216.4 57.2L220.1 56.2L223.7 55.2L227.4 54.2L231.0 53.2L234.7 52.2L238.3 51.2L242.0 50.2L245.6 49.2L249.3 48.1L252.9 47.1" fill="none" stroke="#222" stroke-width="0.8"/><path d="M97.8 277.0L101.0 194.9L104.4 146.9L108.0 118.8L111.6 102.1L115.2 92.1L118.8 85.9L122.5 81.9L126.2 79.1L129.9 77.1L133.5 75.5L137.2 74.2L140.9 73.0L144.5 71.8L148.2 70.8L151.9 69.7L155.6 68.7L159.2 67.7L162.9 66.6L166.6 65.6L170.2 64.6L173.9 63.6L177.5 62.6L181.2 61.6L184.9 60.5L188.5 59.5L192.2 58.5L195.8 57.5L199.5 56.5L203.2 55.5L206.8 54.5L210.5 53.5L214.1 52.5L217.8 51.5L221.4 50.4L225.1 49.4L228.7 48.4L232.4 47.4L236.0 46.4L239.7 45.4L243.3 44.4" fill="none" stroke="#222" stroke-width="0.8"/><path d="M88.3 274.2L91.4 187.3L94.8 138.7L98.4 111.3L102.0 95.8L105.6 86.8L109.3 81.4L112.9 78.0L116.6 75.6L120.3 73.9L123.9 72.5L127.6 71.2L131.3 70.1L135.0 69.0L138.6 68.0L142.3 66.9L146.0 65.9L149.6 64.9L153.3 63.9L157.0 62.9L160.6 61.8L164.3 60.8L168.0 59.8L171.6 58.8L175.3 57.8L178.9 56.8L182.6 55.8L186.3 54.8L189.9 53.8L193.6 52.7L197.2 51.7L200.9 50.7L204.5 49.7L208.2 48.7L211.8 47.7L215.5 46.7L219.1 45.7L222.8 44.7L226.4 43.7L230.1 42.7L233.7 41.7" fill="none" stroke="#222" stroke-width="0.8"/><path d="M78.8 271.4L81.9 181.2L85.3 132.3L88.8 105.6L92.4 90.9L96.0 82.6L99.7 77.7L103.3 74.6L107.0 72.5L110.7 70.9L114.4 69.6L118.0 68.4L121.7 67.3L125.4 66.2L129.0 65.2L132.7 64.2L136.4 63.2L140.1 62.1L143.7 61.1L147.4 60.1L151.0 59.1L154.7 58.1L158.4 57.1L162.0 56.1L165.7 55.1L169.4 54.0L173.0 53.0L176.7 52.0L180.3 51.0L184.0 50.0L187.6 49.0L191.3 48.0L195.0 47.0L198.6 46.0L202.3 45.0L205.9 44.0L209.6 43.0L213.2 41.9L216.9 40.9L220.5 39.9L224.1 38.9" fill="none" stroke="#c84a3c" stroke-width="1.4"/><path d="M69.4 268.6L72.4 175.4L75.7 126.3L79.2 100.3L82.8 86.4L86.4 78.7L90.1 74.2L93.8 71.4L97.4 69.5L101.1 68.0L104.8 66.7L108.5 65.6L112.1 64.5L115.8 63.5L119.5 62.4L123.1 61.4L126.8 60.4L130.5 59.4L134.1 58.4L137.8 57.4L141.5 56.4L145.1 55.3L148.8 54.3L152.5 53.3L156.1 52.3L159.8 51.3L163.4 50.3L167.1 49.3L170.8 48.3L174.4 47.3L178.1 46.3L181.7 45.3L185.4 44.2L189.0 43.2L192.7 42.2L196.3 41.2L200.0 40.2L203.6 39.2L207.3 38.2L210.9 37.2L214.6 36.2" fill="none" stroke="#222" stroke-width="0.8"/><path d="M60.0 265.8L62.9 169.3L66.2 120.2L69.7 95.0L73.2 81.9L76.9 74.8L80.5 70.8L84.2 68.3L87.9 66.5L91.5 65.1L95.2 63.9L98.9 62.8L102.6 61.7L106.2 60.7L109.9 59.7L113.6 58.7L117.2 57.7L120.9 56.6L124.6 55.6L128.2 54.6L131.9 53.6L135.6 52.6L139.2 51.6L142.9 50.6L146.6 49.6L150.2 48.6L153.9 47.6L157.5 46.5L161.2 45.5L164.8 44.5L168.5 43.5L172.2 42.5L175.8 41.5L179.5 40.5L183.1 39.5L186.8 38.5L190.4 37.5L194.1 36.5L197.7 35.5L201.4 34.5L205.0 33.5" fill="none" stroke="#222" stroke-width="0.8"/><path d="M50.5 263.0L53.3 162.9L56.6 113.8L60.1 89.6L63.7 77.4L67.3 71.0L71.0 67.4L74.6 65.2L78.3 63.5L82.0 62.2L85.7 61.1L89.3 60.0L93.0 59.0L96.7 58.0L100.3 56.9L104.0 55.9L107.7 54.9L111.4 53.9L115.0 52.9L118.7 51.9L122.3 50.9L126.0 49.9L129.7 48.9L133.3 47.8L137.0 46.8L140.7 45.8L144.3 44.8L148.0 43.8L151.6 42.8L155.3 41.8L158.9 40.8L162.6 39.8L166.2 38.8L169.9 37.8L173.6 36.8L177.2 35.8L180.9 34.8L184.5 33.8L188.1 32.7L191.8 31.7L195.4 30.7" fill="none" stroke="#222" stroke-width="0.8"/><path d="M41.1 260.3L43.8 156.2L47.0 107.3L50.5 84.2L54.1 73.0L57.8 67.3L61.4 64.1L65.1 62.1L68.8 60.6L72.4 59.4L76.1 58.3L79.8 57.3L83.5 56.2L87.1 55.2L90.8 54.2L94.5 53.2L98.1 52.2L101.8 51.2L105.5 50.1L109.1 49.1L112.8 48.1L116.5 47.1L120.1 46.1L123.8 45.1L127.4 44.1L131.1 43.1L134.8 42.1L138.4 41.1L142.1 40.1L145.7 39.1L149.4 38.1L153.0 37.1L156.7 36.0L160.3 35.0L164.0 34.0L167.6 33.0L171.3 32.0L174.9 31.0L178.6 30.0L182.2 29.0L185.9 28.0" fill="none" stroke="#222" stroke-width="0.8"/><path d="M31.7 257.5L34.3 149.0L37.5 100.6L41.0 78.8L44.6 68.7L48.2 63.7L51.9 60.9L55.5 59.1L59.2 57.8L62.9 56.6L66.6 55.5L70.2 54.5L73.9 53.5L77.6 52.5L81.2 51.4L84.9 50.4L88.6 49.4L92.2 48.4L95.9 47.4L99.6 46.4L103.2 45.4L106.9 44.4L110.6 43.4L114.2 42.4L117.9 41.4L121.6 40.4L125.2 39.4L128.9 38.3L132.5 37.3L136.2 36.3L139.8 35.3L143.5 34.3L147.1 33.3L150.8 32.3L154.5 31.3L158.1 30.3L161.8 29.3L165.4 28.3L169.0 27.3L172.7 26.3L176.3 25.3" fill="none" stroke="#222" stroke-width="0.8"/><path d="M184.1 292.3L179.3 290.5L174.6 286.9L169.8 279.2L165.0 265.7L160.3 254.4L155.5 243.1L150.7 231.8L145.9 202.1L141.1 194.6L136.3 187.0L131.5 172.2L126.7 158.0L121.9 145.4L117.1 135.2L112.2 127.6L107.4 122.0L102.6 117.8L97.9 114.4L93.1 111.3L88.3 108.5L83.5 105.8L78.7 103.1L73.9 100.4L69.1 97.6L64.4 94.9L59.6 92.1L54.8 89.3L50.0 86.5L45.2 83.7L40.5 81.0" fill="none" stroke="#333" stroke-width="0.7"/><path d="M194.4 290.8L189.7 289.3L184.9 287.5L180.2 285.0L175.4 282.4L170.7 279.7L165.9 277.0L161.2 274.3L156.3 198.7L151.5 173.9L146.7 152.0L141.9 133.4L137.0 117.2L132.2 104.7L127.4 96.2L122.6 90.9L117.8 87.4L113.0 84.8L108.2 82.7L103.4 80.7L98.6 78.9L93.8 77.1L89.1 75.3L84.3 73.5L79.5 71.7L74.7 70.0L69.9 68.3L65.1 66.5L60.4 64.9L55.6 63.2L50.8 61.5" fill="none" stroke="#333" stroke-width="0.7"/><path d="M204.8 285.8L200.1 284.0L195.3 279.6L190.6 270.0L185.8 268.7L181.0 279.6L176.3 279.8L171.5 278.4L166.8 201.4L162.0 165.5L157.1 133.8L152.3 114.5L147.5 99.3L142.7 89.3L137.9 83.4L133.1 80.1L128.3 77.9L123.5 76.2L118.7 74.6L113.9 73.1L109.1 71.6L104.3 70.1L99.5 68.6L94.8 67.1L90.0 65.7L85.2 64.2L80.4 62.8L75.6 61.3L70.9 59.9L66.1 58.5L61.3 57.1" fill="none" stroke="#333" stroke-width="0.7"/><path d="M215.2 284.4L210.4 282.8L205.7 280.3L200.9 276.0L196.2 259.8L191.5 235.4L186.7 256.6L181.9 273.9L177.2 203.9L172.4 159.8L167.6 121.2L162.8 102.4L158.0 89.2L153.2 81.5L148.4 77.5L143.6 75.3L138.8 73.6L134.0 72.2L129.2 70.7L124.4 69.3L119.6 67.9L114.8 66.5L110.0 65.1L105.2 63.7L100.5 62.3L95.7 61.0L90.9 59.6L86.1 58.2L81.4 56.8L76.6 55.4L71.8 54.1" fill="none" stroke="#333" stroke-width="0.7"/><path d="M225.5 280.9L220.8 279.3L216.0 276.2L211.3 270.2L206.5 275.0L201.8 259.6L197.1 233.4L192.3 206.3L187.6 204.0L182.8 154.3L178.1 110.9L173.3 93.3L168.5 82.2L163.7 76.5L158.9 73.7L154.1 71.9L149.3 70.5L144.5 69.1L139.7 67.7L134.9 66.3L130.1 64.9L125.3 63.5L120.5 62.1L115.7 60.8L111.0 59.4L106.2 58.0L101.4 56.6L96.6 55.3L91.8 53.9L87.1 52.5L82.3 51.2" fill="none" stroke="#333" stroke-width="0.7"/><path d="M235.9 277.9L231.1 276.2L226.4 273.0L221.6 266.6L216.9 254.2L212.1 272.2L207.4 266.6L202.7 240.9L198.0 205.7L193.3 150.4L188.5 102.1L183.7 86.0L178.9 76.9L174.1 72.6L169.3 70.4L164.5 68.9L159.7 67.5L154.9 66.1L150.2 64.7L145.4 63.4L140.6 62.0L135.8 60.6L131.0 59.2L126.2 57.9L121.4 56.5L116.7 55.1L111.9 53.8L107.1 52.4L102.3 51.0L97.5 49.6L92.8 48.3" fill="none" stroke="#333" stroke-width="0.7"/><path d="M246.2 276.0L241.5 274.6L236.7 272.7L232.0 270.1L227.3 253.8L222.5 246.1L217.7 268.0L212.9 266.4L208.4 192.8L203.7 139.9L199.0 94.4L194.2 80.0L189.4 72.5L184.6 69.2L179.8 67.4L175.0 66.0L170.2 64.6L165.4 63.2L160.6 61.8L155.8 60.5L151.0 59.1L146.3 57.7L141.5 56.4L136.7 55.0L131.9 53.6L127.1 52.2L122.3 50.9L117.6 49.5L112.8 48.1L108.0 46.8L103.2 45.4" fill="none" stroke="#333" stroke-width="0.7"/><path d="M256.6 271.2L251.8 269.4L247.1 265.2L242.3 256.0L237.5 266.9L232.9 239.9L228.1 240.8L223.3 263.7L218.8 178.3L214.1 129.1L209.4 87.6L204.7 74.8L199.9 68.7L195.1 66.1L190.3 64.5L185.5 63.1L180.7 61.7L175.9 60.3L171.1 59.0L166.3 57.6L161.5 56.2L156.7 54.8L151.9 53.5L147.2 52.1L142.4 50.7L137.6 49.4L132.8 48.0L128.0 46.6L123.3 45.2L118.5 43.9L113.7 42.5" fill="none" stroke="#333" stroke-width="0.7"/><path d="M266.9 270.0L262.1 268.5L257.4 266.4L252.6 263.1L248.0 240.0L243.1 261.9L238.5 224.3L233.7 237.6L229.2 170.9L224.6 122.4L219.9 81.5L215.1 70.2L210.3 65.2L205.5 63.1L200.7 61.6L195.9 60.2L191.1 58.8L186.3 57.4L181.6 56.1L176.8 54.7L172.0 53.3L167.2 52.0L162.4 50.6L157.6 49.2L152.8 47.8L148.0 46.5L143.3 45.1L138.5 43.7L133.7 42.4L128.9 41.0L124.2 39.6" fill="none" stroke="#333" stroke-width="0.7"/><path d="M277.2 265.6L272.5 263.8L267.7 259.9L263.0 251.6L258.3 247.3L253.4 256.1L248.7 256.0L244.2 206.7L239.5 170.9L235.0 119.9L230.3 76.0L225.6 66.1L220.8 62.0L216.0 60.1L211.2 58.7L206.4 57.3L201.6 55.9L196.8 54.6L192.0 53.2L187.2 51.8L182.4 50.4L177.6 49.1L172.8 47.7L168.1 46.3L163.3 45.0L158.5 43.6L153.7 42.2L148.9 40.9L144.2 39.5L139.4 38.1L134.6 36.8" fill="none" stroke="#333" stroke-width="0.7"/><path d="M287.5 263.5L282.8 261.9L278.0 259.1L273.3 253.7L268.5 258.2L264.0 216.4L259.0 256.2L254.3 249.0L249.9 171.7L245.4 118.1L240.8 71.0L236.0 62.3L231.2 58.9L226.4 57.2L221.6 55.8L216.8 54.4L212.0 53.0L207.2 51.7L202.4 50.3L197.7 48.9L192.9 47.6L188.1 46.2L183.3 44.8L178.5 43.5L173.7 42.1L168.9 40.7L164.2 39.4L159.4 38.0L154.6 36.6L149.8 35.3L145.1 33.9" fill="none" stroke="#333" stroke-width="0.7"/><path d="M297.8 261.0L293.1 259.5L288.3 257.2L283.6 253.3L279.0 227.4L274.1 244.7L269.5 224.7L264.5 252.0L260.2 172.4L255.8 116.7L251.2 66.3L246.5 58.8L241.7 55.9L236.9 54.3L232.1 52.9L227.3 51.5L222.5 50.2L217.7 48.8L212.9 47.4L208.1 46.0L203.3 44.7L198.5 43.3L193.7 41.9L188.9 40.6L184.2 39.2L179.4 37.8L174.6 36.5L169.8 35.1L165.0 33.8L160.3 32.4L155.5 31.0" fill="none" stroke="#333" stroke-width="0.7"/><path d="M308.1 257.0L303.4 255.2L298.6 251.5L293.9 243.8L289.2 240.9L284.3 251.5L279.8 215.0L274.8 247.2L270.6 172.3L266.1 115.1L261.7 62.0L256.9 55.4L252.1 52.9L247.3 51.4L242.5 50.0L237.7 48.6L232.9 47.3L228.1 45.9L223.3 44.5L218.5 43.2L213.7 41.8L208.9 40.4L204.2 39.1L199.4 37.7L194.6 36.3L189.8 35.0L185.0 33.6L180.2 32.2L175.5 30.9L170.7 29.5L165.9 28.2" fill="none" stroke="#333" stroke-width="0.7"/><path d="M318.4 255.6L313.6 254.1L308.9 252.3L304.1 249.8L299.4 248.7L294.9 214.2L289.9 245.1L285.6 178.6L280.9 170.6L276.5 112.8L272.1 57.9L267.3 52.2L262.5 50.0L257.7 48.5L252.9 47.1L248.1 45.8L243.3 44.4L238.5 43.0L233.7 41.7L228.9 40.3L224.1 38.9L219.4 37.6L214.6 36.2L209.8 34.8L205.0 33.5L200.2 32.1L195.4 30.7L190.7 29.4L185.9 28.0L181.1 26.7L176.3 25.3" fill="none" stroke="#333" stroke-width="0.7"/><path d="M534.7 299.7L538.3 298.7L542.0 297.6L545.6 296.6L549.2 295.6L552.9 294.5L556.5 293.5L560.1 292.5L563.7 291.4L567.4 290.4L571.0 289.4L574.6 288.3L578.2 287.3L581.9 286.3L585.5 285.2L589.1 284.2L592.7 283.2L596.4 282.2L600.0 281.1L603.6 280.1L607.2 279.1L610.8 278.0L614.4 277.0L618.1 276.0L621.7 274.9L625.3 273.9L628.9 272.9L632.5 271.9L636.1 270.8L639.7 269.8L643.3 268.8L646.9 267.8L650.5 266.7L654.2 265.7L657.8 264.7L661.4 263.7L665.0 262.6L668.6 261.6L672.2 260.6L675.8 259.6L679.4 258.5" fill="none" stroke="#222" stroke-width="0.8"/><path d="M525.2 296.9L528.8 295.9L532.4 294.8L536.1 293.8L539.7 292.7L543.3 291.7L547.0 290.7L550.6 289.6L554.2 288.6L557.9 287.6L561.5 286.5L565.1 285.5L568.7 284.5L572.4 283.4L576.0 282.4L579.6 281.4L583.2 280.3L586.8 279.3L590.5 278.3L594.1 277.2L597.7 276.2L601.3 275.2L604.9 274.1L608.5 273.1L612.2 272.1L615.8 271.0L619.4 270.0L623.0 269.0L626.6 267.9L630.2 266.9L633.8 265.9L637.4 264.9L641.0 263.8L644.6 262.8L648.2 261.8L651.8 260.7L655.5 259.7L659.1 258.7L662.7 257.7L666.3 256.6L669.9 255.6" fill="none" stroke="#222" stroke-width="0.8"/><path d="M515.7 294.1L519.3 293.0L522.9 292.0L526.6 291.0L530.2 289.9L533.8 288.9L537.5 287.8L541.1 286.8L544.7 285.8L548.3 284.7L552.0 283.7L555.6 282.7L559.2 281.6L562.8 280.6L566.5 279.5L570.1 278.5L573.7 277.5L577.3 276.4L581.0 275.4L584.6 274.4L588.2 273.3L591.8 272.3L595.4 271.3L599.0 270.2L602.6 269.2L606.3 268.2L609.9 267.1L613.5 266.1L617.1 265.1L620.7 264.0L624.3 263.0L627.9 262.0L631.5 260.9L635.1 259.9L638.7 258.9L642.3 257.8L645.9 256.8L649.5 255.8L653.1 254.7L656.7 253.7L660.3 252.7" fill="none" stroke="#c84a3c" stroke-width="1.4"/><path d="M506.2 291.3L509.8 290.2L513.4 289.2L517.1 288.2L520.7 287.1L524.3 286.1L528.0 285.0L531.6 284.0L535.2 282.9L538.8 281.9L542.5 280.9L546.1 279.8L549.7 278.8L553.3 277.7L557.0 276.7L560.6 275.7L564.2 274.6L567.8 273.6L571.5 272.5L575.1 271.5L578.7 270.5L582.3 269.4L585.9 268.4L589.5 267.4L593.1 266.3L596.8 265.3L600.4 264.2L604.0 263.2L607.6 262.2L611.2 261.1L614.8 260.1L618.4 259.1L622.0 258.0L625.6 257.0L629.2 256.0L632.8 254.9L636.4 253.9L640.0 252.9L643.6 251.8L647.2 250.8L650.8 249.8" fill="none" stroke="#222" stroke-width="0.8"/><path d="M496.7 288.5L500.3 287.4L503.9 286.4L507.6 285.3L511.2 284.3L514.8 283.2L518.5 282.2L522.1 281.2L525.7 280.1L529.4 279.1L533.0 278.0L536.6 277.0L540.2 275.9L543.9 274.9L547.5 273.9L551.1 272.8L554.7 271.8L558.3 270.7L562.0 269.7L565.6 268.6L569.2 267.6L572.8 266.6L576.4 265.5L580.0 264.5L583.7 263.4L587.3 262.4L590.9 261.4L594.5 260.3L598.1 259.3L601.7 258.2L605.3 257.2L608.9 256.2L612.5 255.1L616.1 254.1L619.7 253.1L623.3 252.0L626.9 251.0L630.5 249.9L634.1 248.9L637.8 247.9L641.3 246.8" fill="none" stroke="#222" stroke-width="0.8"/><path d="M487.2 285.7L490.8 284.6L494.5 283.4L498.1 282.3L501.7 281.2L505.3 280.1L509.0 279.0L512.6 277.9L516.2 276.8L519.9 275.6L523.5 274.5L527.1 273.4L530.7 272.3L534.4 271.2L538.0 270.1L541.6 269.0L545.2 267.9L548.9 266.7L552.5 265.6L556.1 264.5L559.7 263.4L563.3 262.3L566.9 261.2L570.6 260.1L574.2 259.0L577.8 257.9L581.4 256.8L585.0 255.6L588.6 254.5L592.2 253.4L595.8 252.3L599.4 251.2L603.1 250.1L606.7 249.0L610.3 247.9L613.9 246.8L617.5 245.7L621.1 244.6L624.7 243.5L628.3 242.4L631.9 241.3" fill="none" stroke="#222" stroke-width="0.8"/><path d="M477.7 282.9L481.3 281.7L485.0 280.5L488.6 279.3L492.2 278.1L495.9 277.0L499.5 275.8L503.1 274.6L506.8 273.4L510.4 272.2L514.0 271.0L517.6 269.9L521.3 268.7L524.9 267.5L528.5 266.3L532.1 265.1L535.7 263.9L539.4 262.8L543.0 261.6L546.6 260.4L550.2 259.2L553.8 258.0L557.5 256.9L561.1 255.7L564.7 254.5L568.3 253.3L571.9 252.2L575.5 251.0L579.1 249.8L582.7 248.6L586.4 247.4L590.0 246.3L593.6 245.1L597.2 243.9L600.8 242.7L604.4 241.6L608.0 240.4L611.6 239.2L615.2 238.0L618.8 236.9L622.4 235.7" fill="none" stroke="#222" stroke-width="0.8"/><path d="M468.2 280.1L471.9 278.7L475.5 277.4L479.1 276.1L482.8 274.8L486.4 273.4L490.0 272.1L493.6 270.8L497.3 269.4L500.9 268.1L504.5 266.8L508.2 265.5L511.8 264.1L515.4 262.8L519.0 261.5L522.6 260.2L526.3 258.8L529.9 257.5L533.5 256.2L537.1 254.8L540.7 253.5L544.4 252.2L548.0 250.9L551.6 249.6L555.2 248.2L558.8 246.9L562.4 245.6L566.1 244.3L569.7 242.9L573.3 241.6L576.9 240.3L580.5 239.0L584.1 237.6L587.7 236.3L591.3 235.0L594.9 233.7L598.5 232.4L602.1 231.0L605.8 229.7L609.4 228.4L613.0 227.1" fill="none" stroke="#222" stroke-width="0.8"/><path d="M458.8 277.3L462.4 275.8L466.0 274.2L469.7 272.7L473.3 271.2L476.9 269.7L480.5 268.2L484.2 266.7L487.8 265.1L491.4 263.6L495.1 262.1L498.7 260.6L502.3 259.1L505.9 257.5L509.5 256.0L513.2 254.5L516.8 253.0L520.4 251.5L524.0 250.0L527.7 248.5L531.3 246.9L534.9 245.4L538.5 243.9L542.1 242.4L545.7 240.9L549.4 239.4L553.0 237.9L556.6 236.3L560.2 234.8L563.8 233.3L567.4 231.8L571.0 230.3L574.7 228.8L578.3 227.3L581.9 225.8L585.5 224.3L589.1 222.7L592.7 221.2L596.3 219.7L599.9 218.2L603.5 216.7" fill="none" stroke="#222" stroke-width="0.8"/><path d="M449.3 274.5L452.9 272.7L456.6 270.9L460.2 269.1L463.8 267.3L467.4 265.4L471.1 263.6L474.7 261.8L478.3 260.0L482.0 258.2L485.6 256.4L489.2 254.6L492.8 252.8L496.4 251.0L500.1 249.2L503.7 247.4L507.3 245.6L510.9 243.8L514.6 242.0L518.2 240.1L521.8 238.3L525.4 236.5L529.0 234.7L532.7 232.9L536.3 231.1L539.9 229.3L543.5 227.5L547.1 225.7L550.7 223.9L554.4 222.1L558.0 220.3L561.6 218.5L565.2 216.7L568.8 214.9L572.4 213.1L576.0 211.3L579.6 209.5L583.3 207.7L586.9 205.9L590.5 204.1L594.1 202.3" fill="none" stroke="#222" stroke-width="0.8"/><path d="M439.8 271.7L443.5 269.5L447.1 267.4L450.7 265.2L454.4 263.1L458.0 260.9L461.6 258.7L465.2 256.6L468.9 254.4L472.5 252.3L476.1 250.1L479.7 247.9L483.3 245.8L487.0 243.6L490.6 241.5L494.2 239.3L497.8 237.1L501.5 235.0L505.1 232.8L508.7 230.7L512.3 228.5L515.9 226.3L519.6 224.2L523.2 222.0L526.8 219.9L530.4 217.7L534.0 215.6L537.7 213.4L541.3 211.2L544.9 209.1L548.5 206.9L552.1 204.8L555.7 202.6L559.4 200.5L563.0 198.3L566.6 196.2L570.2 194.0L573.8 191.9L577.4 189.7L581.0 187.5L584.7 185.4" fill="none" stroke="#c84a3c" stroke-width="1.4"/><path d="M430.4 268.9L434.0 266.4L437.6 263.9L441.3 261.5L444.9 259.0L448.5 256.5L452.1 254.0L455.8 251.5L459.4 249.1L463.0 246.6L466.6 244.1L470.3 241.6L473.9 239.1L477.5 236.5L481.1 234.0L484.7 231.4L488.4 228.8L492.0 226.2L495.6 223.5L499.2 220.9L502.8 218.2L506.5 215.6L510.1 212.9L513.7 210.2L517.3 207.5L520.9 204.8L524.6 202.1L528.2 199.4L531.8 196.7L535.4 194.0L539.0 191.2L542.7 188.5L546.3 185.7L549.9 183.0L553.5 180.2L557.1 177.4L560.8 174.6L564.4 171.8L568.0 169.0L571.6 166.1L575.2 163.3" fill="none" stroke="#222" stroke-width="0.8"/><path d="M421.0 266.1L424.6 263.4L428.2 260.7L431.8 258.0L435.4 255.3L439.1 252.6L442.7 249.9L446.3 247.2L449.9 244.5L453.5 241.8L457.2 239.1L460.8 236.3L464.4 233.5L468.0 230.6L471.6 227.8L475.3 224.7L478.9 221.6L482.5 218.5L486.1 215.3L489.7 212.1L493.4 208.8L497.0 205.5L500.6 202.3L504.2 199.0L507.8 195.6L511.5 192.3L515.1 188.9L518.7 185.5L522.3 182.1L525.9 178.6L529.6 175.1L533.2 171.6L536.8 168.1L540.4 164.5L544.0 160.9L547.7 157.3L551.3 153.7L554.9 150.0L558.5 146.2L562.2 142.3L565.8 138.5" fill="none" stroke="#222" stroke-width="0.8"/><path d="M411.5 263.3L415.1 260.5L418.8 257.6L422.4 254.7L426.0 251.9L429.6 249.0L433.2 246.2L436.9 243.4L440.5 240.6L444.1 237.7L447.7 234.7L451.3 231.8L454.9 228.7L458.6 225.6L462.2 222.4L465.8 218.9L469.4 215.2L473.0 211.5L476.6 207.6L480.3 203.7L483.9 199.8L487.5 195.7L491.1 191.7L494.7 187.6L498.3 183.5L502.0 179.3L505.6 175.1L509.2 170.9L512.8 166.6L516.4 162.2L520.1 157.7L523.7 153.2L527.3 148.6L530.9 144.0L534.6 139.4L538.2 134.7L541.8 129.9L545.4 125.2L549.1 120.1L552.7 114.8L556.3 109.6" fill="none" stroke="#222" stroke-width="0.8"/><path d="M402.1 260.6L405.7 257.6L409.3 254.6L412.9 251.6L416.6 248.7L420.2 245.8L423.8 242.9L427.4 240.0L431.0 237.1L434.6 234.2L438.3 231.1L441.9 228.0L445.5 224.6L449.1 221.2L452.7 217.7L456.3 213.6L459.9 209.2L463.6 204.7L467.2 200.0L470.8 195.2L474.4 190.4L478.0 185.4L481.6 180.3L485.2 175.3L488.8 170.1L492.5 164.8L496.1 159.6L499.7 154.1L503.3 148.7L506.9 143.1L510.6 137.2L514.2 131.4L517.8 125.4L521.4 119.4L525.1 113.3L528.7 107.1L532.3 100.8L535.9 94.6L539.6 87.6L543.2 80.5L546.9 73.4" fill="none" stroke="#222" stroke-width="0.8"/><path d="M392.7 257.8L396.3 254.8L399.9 251.8L403.5 248.8L407.1 245.9L410.7 243.0L414.4 240.2L418.0 237.4L421.6 234.6L425.2 231.6L428.8 228.4L432.4 225.2L436.1 221.6L439.7 217.8L443.3 214.0L446.9 209.1L450.5 203.8L454.1 198.5L457.7 192.6L461.3 186.6L464.9 180.6L468.5 174.2L472.1 167.9L475.7 161.5L479.3 154.8L482.9 148.1L486.6 141.3L490.2 134.3L493.8 127.3L497.4 120.0L501.0 112.2L504.6 104.5L508.3 96.6L511.9 88.6L515.5 80.5L519.1 72.2L522.8 63.8L526.4 55.4L530.1 45.8L533.7 36.0L537.3 26.2" fill="none" stroke="#222" stroke-width="0.8"/><path d="M545.1 296.7L540.3 295.3L535.6 293.9L530.8 292.5L526.0 291.1L521.3 289.7L516.5 288.3L511.8 286.9L507.1 285.5L502.3 284.0L497.6 282.5L492.8 281.0L488.1 279.5L483.3 277.9L478.6 276.3L473.9 274.6L469.1 272.9L464.4 271.2L459.7 269.3L454.9 267.4L450.2 265.5L445.5 263.6L440.8 261.8L436.0 260.0L431.3 258.4L426.6 256.7L421.9 255.1L417.1 253.5L412.4 252.0L407.7 250.5L403.0 249.2" fill="none" stroke="#333" stroke-width="0.7"/><path d="M555.4 293.8L550.7 292.4L545.9 291.0L541.2 289.6L536.4 288.1L531.7 286.7L526.9 285.3L522.2 283.9L517.4 282.5L512.7 280.9L507.9 279.3L503.2 277.7L498.5 276.1L493.7 274.4L489.0 272.5L484.2 270.5L479.5 268.6L474.8 266.5L470.0 264.2L465.3 261.8L460.6 259.3L455.8 256.9L451.1 254.7L446.4 252.6L441.6 250.7L436.9 248.8L432.2 247.0L427.5 245.3L422.8 243.7L418.0 242.2L413.3 241.0" fill="none" stroke="#333" stroke-width="0.7"/><path d="M565.8 290.8L561.1 289.4L556.3 288.0L551.5 286.6L546.8 285.2L542.0 283.8L537.3 282.3L532.5 280.9L527.8 279.5L523.1 277.8L518.3 276.1L513.6 274.4L508.8 272.7L504.1 270.9L499.3 268.7L494.6 266.5L489.9 264.3L485.1 261.8L480.4 259.0L475.7 256.1L470.9 253.2L466.2 250.2L461.5 247.7L456.7 245.2L452.0 243.0L447.3 240.9L442.5 239.0L437.8 237.1L433.1 235.5L428.4 234.0L423.7 232.9" fill="none" stroke="#333" stroke-width="0.7"/><path d="M576.2 287.9L571.4 286.5L566.7 285.1L561.9 283.6L557.2 282.2L552.4 280.8L547.7 279.4L542.9 278.0L538.2 276.5L533.4 274.7L528.7 272.9L523.9 271.1L519.2 269.3L514.4 267.4L509.7 264.9L505.0 262.4L500.2 259.9L495.5 257.1L490.8 253.8L486.0 250.5L481.3 247.0L476.5 243.4L471.8 240.5L467.1 237.7L462.3 235.1L457.6 232.7L452.9 230.5L448.2 228.4L443.4 226.6L438.7 225.0L434.0 223.8" fill="none" stroke="#333" stroke-width="0.7"/><path d="M586.5 284.9L581.8 283.5L577.0 282.1L572.3 280.7L567.5 279.2L562.8 277.8L558.0 276.4L553.3 275.0L548.5 273.6L543.8 271.7L539.0 269.8L534.3 267.9L529.5 266.0L524.8 263.9L520.1 261.1L515.3 258.3L510.6 255.6L505.8 252.5L501.1 248.7L496.4 244.9L491.6 240.8L486.9 236.7L482.2 233.3L477.4 229.9L472.7 227.0L467.9 224.1L463.2 221.5L458.5 219.0L453.8 216.7L449.0 214.6L444.3 212.9" fill="none" stroke="#333" stroke-width="0.7"/><path d="M596.9 282.0L592.1 280.6L587.4 279.1L582.6 277.7L577.9 276.3L573.1 274.9L568.3 273.4L563.6 272.0L558.9 270.6L554.1 268.6L549.4 266.6L544.6 264.6L539.9 262.6L535.1 260.3L530.4 257.3L525.7 254.3L520.9 251.3L516.2 247.8L511.5 243.5L506.7 239.2L502.0 234.7L497.2 229.8L492.5 225.8L487.8 221.7L483.0 218.1L478.3 214.4L473.5 211.0L468.8 207.5L464.1 204.1L459.3 200.7L454.6 197.7" fill="none" stroke="#333" stroke-width="0.7"/><path d="M607.2 279.1L602.5 277.6L597.7 276.2L592.9 274.8L588.2 273.3L583.4 271.9L578.7 270.5L573.9 269.0L569.2 267.6L564.4 265.5L559.7 263.4L555.0 261.3L550.2 259.2L545.5 256.8L540.7 253.5L536.0 250.2L531.3 246.9L526.5 243.1L521.8 238.3L517.1 233.6L512.3 228.5L507.6 223.0L502.8 218.2L498.1 213.3L493.4 208.8L488.6 204.3L483.9 199.8L479.1 195.1L474.4 190.4L469.6 185.4L464.9 180.6" fill="none" stroke="#333" stroke-width="0.7"/><path d="M617.5 276.1L612.8 274.7L608.0 273.2L603.3 271.8L598.5 270.4L593.8 268.9L589.0 267.5L584.3 266.1L579.5 264.6L574.8 262.4L570.0 260.2L565.3 258.0L560.6 255.9L555.8 253.3L551.1 249.7L546.3 246.2L541.6 242.6L536.9 238.4L532.1 233.2L527.4 227.9L522.7 222.3L517.9 216.1L513.2 210.6L508.4 204.9L503.7 199.4L499.0 193.9L494.2 188.2L489.5 182.2L484.7 176.0L480.0 169.3L475.2 162.4" fill="none" stroke="#333" stroke-width="0.7"/><path d="M627.9 273.2L623.1 271.7L618.4 270.3L613.6 268.9L608.8 267.4L604.1 266.0L599.3 264.5L594.6 263.1L589.8 261.7L585.1 259.4L580.4 257.1L575.6 254.8L570.9 252.5L566.1 249.8L561.4 246.0L556.7 242.1L551.9 238.3L547.2 233.8L542.5 228.0L537.7 222.3L533.0 216.2L528.3 209.2L523.5 202.9L518.8 196.2L514.0 189.9L509.3 183.2L504.6 176.4L499.8 168.9L495.0 161.1L490.3 152.4L485.5 143.3" fill="none" stroke="#333" stroke-width="0.7"/><path d="M638.2 270.3L633.4 268.8L628.7 267.4L623.9 265.9L619.2 264.5L614.4 263.0L609.7 261.6L604.9 260.1L600.2 258.7L595.4 256.3L590.7 253.9L585.9 251.5L581.2 249.1L576.5 246.3L571.7 242.2L567.0 238.1L562.3 234.0L557.5 229.1L552.8 222.9L548.1 216.7L543.3 210.0L538.6 202.3L533.9 195.2L529.1 187.5L524.4 180.2L519.6 172.3L514.9 164.2L510.1 155.2L505.4 145.6L500.6 134.7L495.9 123.3" fill="none" stroke="#333" stroke-width="0.7"/><path d="M648.5 267.3L643.7 265.9L639.0 264.4L634.2 263.0L629.5 261.5L624.7 260.1L620.0 258.6L615.2 257.2L610.5 255.7L605.7 253.2L601.0 250.7L596.3 248.3L591.5 245.8L586.8 242.8L582.1 238.4L577.3 234.0L572.6 229.7L567.9 224.4L563.1 217.7L558.4 211.0L553.7 203.9L548.9 195.3L544.2 187.3L539.5 178.6L534.7 170.1L530.0 161.0L525.2 151.3L520.5 140.5L515.7 128.9L511.0 115.5L506.2 101.2" fill="none" stroke="#333" stroke-width="0.7"/><path d="M658.8 264.4L654.0 262.9L649.3 261.5L644.5 260.0L639.8 258.6L635.0 257.1L630.3 255.7L625.5 254.2L620.8 252.8L616.0 250.2L611.3 247.6L606.6 245.0L601.8 242.4L597.1 239.3L592.4 234.6L587.6 230.0L582.9 225.3L578.2 219.8L573.5 212.6L568.7 205.4L564.0 197.7L559.3 188.4L554.6 179.4L549.8 169.6L545.1 159.9L540.3 149.3L535.6 138.1L530.8 125.4L526.1 111.6L521.3 95.6L516.6 78.2" fill="none" stroke="#333" stroke-width="0.7"/><path d="M669.1 261.5L664.3 260.0L659.6 258.5L654.8 257.1L650.1 255.6L645.3 254.2L640.6 252.7L635.8 251.3L631.1 249.8L626.3 247.1L621.6 244.4L616.9 241.7L612.1 239.0L607.4 235.8L602.7 230.9L597.9 225.9L593.2 221.0L588.5 215.1L583.8 207.4L579.1 199.8L574.3 191.5L569.6 181.4L564.9 171.4L560.2 160.5L555.4 149.5L550.7 137.5L546.0 124.5L541.2 109.8L536.5 93.7L531.7 74.8L526.9 54.2" fill="none" stroke="#333" stroke-width="0.7"/><path d="M679.4 258.5L674.6 257.1L669.9 255.6L665.1 254.1L660.3 252.7L655.6 251.2L650.8 249.8L646.1 248.3L641.3 246.8L636.6 244.0L631.9 241.3L627.1 238.5L622.4 235.7L617.7 232.3L613.0 227.1L608.2 221.9L603.5 216.7L598.8 210.5L594.1 202.3L589.4 194.2L584.7 185.4L579.9 174.3L575.2 163.3L570.5 151.0L565.8 138.5L561.1 124.7L556.3 109.6L551.6 92.5L546.9 73.4L542.1 51.0L537.3 26.2" fill="none" stroke="#333" stroke-width="0.7"/><path d="M174.0 644.8L177.6 643.1L181.3 640.8L184.9 639.5L188.5 639.0L192.2 638.6L195.8 637.6L199.4 636.0L203.0 634.2L206.7 632.7L210.3 631.7L213.9 631.6L217.6 631.3L221.2 630.3L224.8 628.7L228.4 626.9L232.1 625.4L235.7 624.6L239.3 624.5L242.9 624.1L246.5 623.0L250.1 621.4L253.8 619.6L257.4 618.2L261.0 617.5L264.6 617.4L268.2 617.0L271.8 615.8L275.4 614.1L279.1 612.3L282.7 611.0L286.3 610.4L289.9 610.3L293.5 609.8L297.1 608.5L300.7 606.8L304.3 605.1L307.9 603.8L311.5 603.4L315.1 603.3L318.7 602.6" fill="none" stroke="#222" stroke-width="0.8"/><path d="M164.5 642.0L168.1 639.1L171.7 634.7L175.4 632.8L179.0 633.4L182.6 634.0L186.3 633.0L189.9 630.5L193.5 627.4L197.2 624.9L200.8 624.2L204.4 625.5L208.0 626.5L211.7 625.6L215.3 623.0L218.9 619.9L222.6 617.6L226.2 617.2L229.8 618.6L233.4 619.4L237.0 618.2L240.6 615.5L244.3 612.4L247.9 610.4L251.5 610.3L255.1 611.8L258.7 612.3L262.3 610.9L265.9 608.0L269.6 605.0L273.2 603.2L276.8 603.4L280.4 605.0L284.0 605.2L287.6 603.5L291.2 600.5L294.8 597.6L298.4 596.0L302.0 596.6L305.6 598.1L309.2 598.1" fill="none" stroke="#222" stroke-width="0.8"/><path d="M155.0 639.2L158.6 629.0L162.2 609.8L165.8 602.1L169.5 608.4L173.1 619.5L176.8 625.4L180.4 623.0L184.0 614.0L187.7 601.3L191.3 589.7L195.0 584.7L198.6 592.3L202.2 606.7L205.8 615.6L209.4 614.9L213.1 606.6L216.7 594.2L220.4 582.2L224.0 576.5L227.6 582.8L231.2 597.3L234.8 606.9L238.4 607.0L242.0 599.3L245.7 587.0L249.4 574.8L253.0 568.4L256.6 573.5L260.1 587.8L263.7 598.1L267.3 599.0L270.9 591.9L274.6 579.8L278.3 567.4L282.0 560.3L285.5 564.2L289.0 578.3L292.5 589.3L296.1 591.0L299.8 584.4" fill="none" stroke="#c84a3c" stroke-width="1.4"/><path d="M145.5 636.4L149.1 627.2L152.7 600.8L156.3 576.3L159.9 563.8L163.6 568.9L167.2 592.2L170.9 613.7L174.5 623.8L178.1 625.4L181.8 622.6L185.4 615.0L189.0 600.4L192.7 578.0L196.4 553.1L200.0 536.3L203.7 538.7L207.3 566.1L210.8 594.9L214.4 610.1L218.0 613.8L221.6 611.8L225.3 605.2L228.9 591.8L232.6 570.4L236.3 545.4L240.0 526.5L243.7 525.0L247.2 549.6L250.7 579.8L254.2 597.2L257.7 602.2L261.3 601.0L265.0 595.2L268.7 583.0L272.4 562.8L276.2 537.8L279.9 517.3L283.6 512.0L287.0 533.3L290.4 564.3" fill="none" stroke="#222" stroke-width="0.8"/><path d="M136.0 635.6L139.6 628.2L143.2 618.5L146.8 595.6L150.4 546.8L154.0 525.9L157.6 502.3L161.3 506.1L164.9 505.5L168.6 502.0L172.3 507.7L175.9 504.1L179.6 503.3L183.2 506.9L186.9 501.4L190.5 505.4L194.2 508.3L197.8 505.2L201.4 511.5L205.1 509.6L208.7 504.5L212.4 498.5L216.1 481.4L219.7 477.3L223.4 476.9L227.1 467.1L230.7 469.3L234.3 468.0L238.0 463.7L241.6 468.8L245.3 464.8L248.9 464.1L252.5 468.3L256.2 462.9L259.8 465.8L263.4 467.0L267.1 462.0L270.7 466.8L274.3 464.2L278.0 461.3L281.6 465.6" fill="none" stroke="#222" stroke-width="0.8"/><path d="M126.5 632.8L130.1 617.3L133.6 583.1L137.2 543.9L140.7 511.1L144.4 489.2L148.0 476.4L151.7 469.0L155.3 464.1L159.0 460.2L162.6 456.6L166.3 453.2L170.0 449.9L173.6 446.8L177.3 443.9L181.0 441.0L184.6 438.3L188.3 435.7L192.0 433.3L195.6 430.9L199.3 428.6L203.0 426.5L206.6 424.4L210.3 422.4L214.0 420.5L217.6 418.6L221.3 416.8L224.9 415.1L228.6 413.5L232.3 411.9L235.9 410.3L239.6 408.8L243.2 407.4L246.9 406.0L250.5 404.6L254.2 403.2L257.8 401.9L261.5 400.6L265.1 399.4L268.8 398.1L272.4 396.9" fill="none" stroke="#222" stroke-width="0.8"/><path d="M117.0 630.0L120.6 611.4L124.1 570.1L127.6 523.8L131.1 486.4L134.7 462.8L138.4 449.9L142.0 443.1L145.7 438.9L149.4 435.8L153.0 433.1L156.7 430.6L160.4 428.3L164.0 426.1L167.7 424.2L171.4 422.3L175.0 420.6L178.7 419.0L182.4 417.4L186.0 415.9L189.7 414.5L193.4 413.2L197.0 411.9L200.7 410.7L204.4 409.5L208.0 408.3L211.7 407.1L215.3 406.0L219.0 404.9L222.7 403.8L226.3 402.7L230.0 401.6L233.6 400.6L237.3 399.5L240.9 398.5L244.6 397.4L248.2 396.4L251.9 395.4L255.5 394.4L259.2 393.3L262.8 392.3" fill="none" stroke="#222" stroke-width="0.8"/><path d="M107.5 627.2L111.1 606.4L114.5 560.5L118.0 509.9L121.5 470.5L125.1 446.8L128.7 434.9L132.4 429.2L136.1 426.1L139.7 424.0L143.4 422.2L147.1 420.7L150.8 419.2L154.4 417.9L158.1 416.6L161.8 415.4L165.4 414.2L169.1 413.1L172.8 412.0L176.4 410.9L180.1 409.9L183.8 408.8L187.4 407.8L191.1 406.7L194.8 405.7L198.4 404.7L202.1 403.7L205.7 402.7L209.4 401.6L213.1 400.6L216.7 399.6L220.4 398.6L224.0 397.6L227.7 396.6L231.3 395.6L235.0 394.6L238.6 393.6L242.3 392.6L245.9 391.5L249.6 390.5L253.2 389.5" fill="none" stroke="#222" stroke-width="0.8"/><path d="M98.1 624.4L101.6 602.3L105.0 553.6L108.4 500.7L111.9 460.8L115.5 437.8L119.1 427.0L122.8 422.4L126.5 420.2L130.1 418.7L133.8 417.5L137.5 416.3L141.2 415.2L144.8 414.2L148.5 413.1L152.2 412.1L155.8 411.1L159.5 410.0L163.2 409.0L166.8 408.0L170.5 407.0L174.2 406.0L177.8 405.0L181.5 403.9L185.2 402.9L188.8 401.9L192.5 400.9L196.1 399.9L199.8 398.9L203.5 397.9L207.1 396.9L210.8 395.9L214.4 394.9L218.1 393.8L221.7 392.8L225.4 391.8L229.0 390.8L232.7 389.8L236.3 388.8L240.0 387.8L243.6 386.8" fill="none" stroke="#222" stroke-width="0.8"/><path d="M88.6 621.6L92.1 598.8L95.5 548.5L98.9 494.6L102.3 454.7L105.9 432.5L109.5 422.5L113.2 418.5L116.9 416.7L120.5 415.5L124.2 414.4L127.9 413.4L131.6 412.3L135.2 411.3L138.9 410.3L142.6 409.3L146.3 408.3L149.9 407.3L153.6 406.3L157.3 405.2L160.9 404.2L164.6 403.2L168.3 402.2L171.9 401.2L175.6 400.2L179.2 399.2L182.9 398.2L186.6 397.2L190.2 396.2L193.9 395.1L197.5 394.1L201.2 393.1L204.8 392.1L208.5 391.1L212.1 390.1L215.8 389.1L219.5 388.1L223.1 387.1L226.8 386.1L230.4 385.1L234.0 384.1" fill="none" stroke="#222" stroke-width="0.8"/><path d="M79.1 618.8L82.6 595.8L86.0 544.6L89.3 490.0L92.8 450.2L96.3 428.6L99.9 419.2L103.6 415.5L107.3 413.8L111.0 412.7L114.6 411.6L118.3 410.6L122.0 409.6L125.7 408.6L129.3 407.6L133.0 406.5L136.7 405.5L140.3 404.5L144.0 403.5L147.7 402.5L151.3 401.5L155.0 400.5L158.7 399.5L162.3 398.5L166.0 397.4L169.7 396.4L173.3 395.4L177.0 394.4L180.6 393.4L184.3 392.4L187.9 391.4L191.6 390.4L195.3 389.4L198.9 388.4L202.6 387.4L206.2 386.4L209.9 385.3L213.5 384.3L217.2 383.3L220.8 382.3L224.5 381.3" fill="none" stroke="#c84a3c" stroke-width="1.4"/><path d="M69.7 616.0L73.2 593.0L76.5 541.1L79.8 486.1L83.2 446.4L86.7 425.2L90.4 416.1L94.0 412.6L97.7 411.0L101.4 409.9L105.1 408.9L108.7 407.8L112.4 406.8L116.1 405.8L119.8 404.8L123.4 403.8L127.1 402.8L130.8 401.8L134.4 400.8L138.1 399.8L141.8 398.7L145.4 397.7L149.1 396.7L152.8 395.7L156.4 394.7L160.1 393.7L163.7 392.7L167.4 391.7L171.1 390.7L174.7 389.7L178.4 388.7L182.0 387.6L185.7 386.6L189.3 385.6L193.0 384.6L196.6 383.6L200.3 382.6L203.9 381.6L207.6 380.6L211.2 379.6L214.9 378.6" fill="none" stroke="#222" stroke-width="0.8"/><path d="M60.3 613.2L63.7 590.2L67.0 537.9L70.2 482.5L73.6 442.9L77.2 422.0L80.8 413.2L84.5 409.8L88.1 408.2L91.8 407.1L95.5 406.1L99.2 405.1L102.8 404.1L106.5 403.1L110.2 402.1L113.9 401.1L117.5 400.0L121.2 399.0L124.9 398.0L128.5 397.0L132.2 396.0L135.9 395.0L139.5 394.0L143.2 393.0L146.8 392.0L150.5 391.0L154.2 389.9L157.8 388.9L161.5 387.9L165.1 386.9L168.8 385.9L172.5 384.9L176.1 383.9L179.8 382.9L183.4 381.9L187.1 380.9L190.7 379.9L194.4 378.9L198.0 377.9L201.7 376.9L205.3 375.9" fill="none" stroke="#222" stroke-width="0.8"/><path d="M50.8 610.4L54.3 587.4L57.5 534.7L60.7 479.1L64.1 439.6L67.6 418.9L71.2 410.3L74.9 407.0L78.6 405.5L82.3 404.4L85.9 403.4L89.6 402.3L93.3 401.3L96.9 400.3L100.6 399.3L104.3 398.3L108.0 397.3L111.6 396.3L115.3 395.3L119.0 394.3L122.6 393.3L126.3 392.3L130.0 391.2L133.6 390.2L137.3 389.2L140.9 388.2L144.6 387.2L148.3 386.2L151.9 385.2L155.6 384.2L159.2 383.2L162.9 382.2L166.5 381.2L170.2 380.2L173.9 379.2L177.5 378.2L181.2 377.2L184.8 376.2L188.5 375.1L192.1 374.1L195.7 373.1" fill="none" stroke="#222" stroke-width="0.8"/><path d="M41.4 607.7L44.8 584.6L48.0 531.5L51.2 475.8L54.6 436.4L58.1 415.9L61.7 407.4L65.3 404.2L69.0 402.7L72.7 401.6L76.4 400.6L80.0 399.6L83.7 398.6L87.4 397.6L91.1 396.6L94.7 395.6L98.4 394.6L102.1 393.5L105.7 392.5L109.4 391.5L113.1 390.5L116.7 389.5L120.4 388.5L124.1 387.5L127.7 386.5L131.4 385.5L135.0 384.5L138.7 383.5L142.4 382.5L146.0 381.5L149.7 380.5L153.3 379.5L157.0 378.4L160.6 377.4L164.3 376.4L167.9 375.4L171.6 374.4L175.2 373.4L178.9 372.4L182.5 371.4L186.2 370.4" fill="none" stroke="#222" stroke-width="0.8"/><path d="M32.0 604.9L35.4 581.8L38.5 528.5L41.7 472.6L45.0 433.3L48.5 412.9L52.1 404.6L55.8 401.5L59.5 400.0L63.1 398.9L66.8 397.9L70.5 396.9L74.2 395.9L77.8 394.8L81.5 393.8L85.2 392.8L88.9 391.8L92.5 390.8L96.2 389.8L99.9 388.8L103.5 387.8L107.2 386.8L110.9 385.8L114.5 384.8L118.2 383.8L121.8 382.8L125.5 381.7L129.2 380.7L132.8 379.7L136.5 378.7L140.1 377.7L143.8 376.7L147.4 375.7L151.1 374.7L154.7 373.7L158.4 372.7L162.0 371.7L165.7 370.7L169.3 369.7L173.0 368.7L176.6 367.7" fill="none" stroke="#222" stroke-width="0.8"/><path d="M184.4 639.6L179.6 637.7L174.9 632.9L170.1 622.1L165.3 602.4L160.5 586.8L155.8 579.1L151.0 580.6L146.3 602.6L141.5 576.0L136.7 549.3L131.9 538.8L127.1 530.1L122.3 522.7L117.5 516.7L112.7 511.8L107.9 507.8L103.1 504.5L98.4 501.7L93.6 499.3L88.8 497.2L84.1 495.2L79.3 493.3L74.5 491.5L69.8 489.7L65.0 488.0L60.2 486.3L55.5 484.6L50.7 483.0L46.0 481.4L41.2 479.8" fill="none" stroke="#333" stroke-width="0.7"/><path d="M194.8 638.0L190.0 636.4L185.2 633.5L180.5 628.2L175.7 624.5L171.0 611.4L166.2 584.8L161.4 551.1L156.6 503.6L151.8 490.4L147.0 479.3L142.1 464.4L137.3 452.8L132.5 443.9L127.7 437.4L122.9 432.7L118.1 429.2L113.3 426.6L108.5 424.5L103.7 422.7L98.9 421.0L94.1 419.4L89.3 417.9L84.5 416.4L79.8 414.9L75.0 413.4L70.2 412.0L65.4 410.5L60.6 409.1L55.9 407.6L51.1 406.2" fill="none" stroke="#333" stroke-width="0.7"/><path d="M205.1 633.3L200.4 631.3L195.6 625.8L190.9 613.4L186.1 607.0L181.3 622.3L176.6 625.4L171.8 619.7L167.0 502.1L162.2 480.3L157.4 461.8L152.6 447.5L147.8 437.1L143.0 429.8L138.2 424.9L133.4 421.6L128.6 419.3L123.8 417.5L119.0 416.0L114.2 414.5L109.4 413.1L104.6 411.7L99.8 410.3L95.0 409.0L90.2 407.6L85.5 406.2L80.7 404.8L75.9 403.5L71.1 402.1L66.3 400.7L61.6 399.3" fill="none" stroke="#333" stroke-width="0.7"/><path d="M215.5 631.5L210.7 629.8L206.0 626.1L201.2 618.5L196.5 586.2L191.8 579.9L187.0 609.7L182.2 621.7L177.5 502.1L172.7 474.9L167.9 451.8L163.1 438.6L158.3 429.6L153.5 423.7L148.7 420.0L143.9 417.6L139.1 415.9L134.3 414.3L129.5 412.9L124.7 411.5L119.9 410.2L115.1 408.8L110.3 407.4L105.5 406.0L100.7 404.7L96.0 403.3L91.2 401.9L86.4 400.5L81.6 399.2L76.8 397.8L72.1 396.4" fill="none" stroke="#333" stroke-width="0.7"/><path d="M225.8 628.2L221.1 626.4L216.3 622.1L211.6 612.9L206.8 616.3L202.2 572.2L197.4 547.0L192.6 589.9L187.9 501.1L183.1 469.7L178.4 443.0L173.6 431.2L168.8 423.6L164.0 419.0L159.1 416.2L154.3 414.3L149.6 412.8L144.8 411.4L140.0 410.0L135.2 408.6L130.4 407.3L125.6 405.9L120.8 404.5L116.0 403.1L111.2 401.8L106.4 400.4L101.7 399.0L96.9 397.7L92.1 396.3L87.3 394.9L82.6 393.5" fill="none" stroke="#333" stroke-width="0.7"/><path d="M236.2 624.6L231.4 622.6L226.7 617.3L222.0 605.4L217.2 592.3L212.4 615.5L207.8 570.7L203.1 512.6L198.3 505.6L193.6 467.8L188.8 435.4L184.0 425.0L179.2 418.7L174.4 415.1L169.6 412.9L164.8 411.3L160.0 409.9L155.2 408.5L150.4 407.1L145.7 405.8L140.9 404.4L136.1 403.0L131.3 401.6L126.5 400.3L121.7 398.9L116.9 397.5L112.2 396.1L107.4 394.8L102.6 393.4L97.8 392.0L93.0 390.7" fill="none" stroke="#333" stroke-width="0.7"/><path d="M246.5 623.0L241.8 621.4L237.0 618.2L232.3 612.0L227.6 582.8L222.8 589.9L218.0 613.8L213.3 577.8L208.7 504.5L204.0 463.7L199.3 428.6L194.5 419.6L189.7 414.5L184.9 411.7L180.1 409.9L175.3 408.4L170.5 407.0L165.7 405.6L160.9 404.2L156.1 402.9L151.3 401.5L146.6 400.1L141.8 398.7L137.0 397.4L132.2 396.0L127.4 394.6L122.6 393.3L117.8 391.9L113.1 390.5L108.3 389.2L103.5 387.8" fill="none" stroke="#333" stroke-width="0.7"/><path d="M256.9 618.3L252.1 616.3L247.4 610.6L242.7 597.3L237.9 607.5L233.3 549.5L228.4 594.2L223.6 610.8L219.2 476.6L214.5 446.7L209.8 422.7L205.0 415.0L200.2 410.8L195.4 408.5L190.6 406.9L185.8 405.5L181.0 404.1L176.2 402.7L171.4 401.3L166.6 400.0L161.8 398.6L157.0 397.2L152.2 395.9L147.4 394.5L142.7 393.1L137.9 391.7L133.1 390.4L128.3 389.0L123.5 387.6L118.8 386.3L114.0 384.9" fill="none" stroke="#333" stroke-width="0.7"/><path d="M267.2 617.2L262.4 615.5L257.7 612.4L252.9 606.3L248.3 577.9L243.5 599.1L239.0 530.6L233.9 598.6L229.7 467.7L225.0 439.6L220.2 417.3L215.4 410.8L210.6 407.4L205.8 405.5L201.0 404.0L196.2 402.6L191.4 401.2L186.6 399.8L181.9 398.5L177.1 397.1L172.3 395.7L167.5 394.3L162.7 393.0L157.9 391.6L153.1 390.2L148.3 388.9L143.6 387.5L138.8 386.1L134.0 384.8L129.2 383.4L124.5 382.0" fill="none" stroke="#333" stroke-width="0.7"/><path d="M277.5 613.0L272.8 611.1L268.0 606.2L263.3 595.3L258.6 581.4L253.8 595.7L249.2 567.8L244.6 530.2L240.1 466.7L235.4 436.9L230.7 412.6L225.9 407.1L221.1 404.3L216.3 402.5L211.5 401.1L206.7 399.7L201.9 398.3L197.1 396.9L192.3 395.6L187.5 394.2L182.7 392.8L177.9 391.5L173.1 390.1L168.4 388.7L163.6 387.4L158.8 386.0L154.0 384.6L149.2 383.3L144.5 381.9L139.7 380.5L134.9 379.2" fill="none" stroke="#333" stroke-width="0.7"/><path d="M287.8 610.4L283.1 608.6L278.3 604.1L273.6 594.4L268.8 596.8L264.4 547.6L259.3 602.2L255.0 516.0L250.5 466.9L245.8 435.1L241.1 408.2L236.3 403.6L231.5 401.2L226.7 399.6L221.9 398.2L217.1 396.8L212.3 395.4L207.5 394.1L202.8 392.7L198.0 391.3L193.2 390.0L188.4 388.6L183.6 387.2L178.8 385.8L174.0 384.5L169.2 383.1L164.5 381.8L159.7 380.4L154.9 379.0L150.1 377.7L145.3 376.3" fill="none" stroke="#333" stroke-width="0.7"/><path d="M298.1 608.0L293.4 606.3L288.6 602.7L283.9 595.2L279.4 564.6L274.5 570.2L269.7 578.0L264.9 594.8L260.8 467.4L256.2 433.7L251.6 404.2L246.8 400.3L242.0 398.2L237.2 396.7L232.4 395.3L227.6 393.9L222.8 392.5L218.0 391.2L213.2 389.8L208.4 388.4L203.6 387.1L198.8 385.7L194.0 384.3L189.2 383.0L184.5 381.6L179.7 380.2L174.9 378.9L170.1 377.5L165.3 376.1L160.6 374.8L155.8 373.4" fill="none" stroke="#333" stroke-width="0.7"/><path d="M308.4 603.7L303.7 601.7L298.9 595.9L294.3 582.7L289.5 580.3L284.7 594.3L280.5 515.3L275.1 594.5L271.2 467.3L266.6 432.2L262.0 400.5L257.2 397.1L252.4 395.2L247.6 393.8L242.8 392.4L238.0 391.0L233.2 389.7L228.4 388.3L223.6 386.9L218.8 385.6L214.0 384.2L209.2 382.8L204.5 381.5L199.7 380.1L194.9 378.7L190.1 377.4L185.3 376.0L180.5 374.6L175.8 373.3L171.0 371.9L166.2 370.6" fill="none" stroke="#333" stroke-width="0.7"/><path d="M318.7 602.6L313.9 601.0L309.2 598.1L304.5 592.4L299.8 584.4L295.2 556.0L290.4 564.3L285.7 555.6L281.6 465.6L277.0 430.1L272.4 396.9L267.6 394.0L262.8 392.3L258.0 390.9L253.2 389.5L248.4 388.2L243.6 386.8L238.8 385.4L234.0 384.1L229.3 382.7L224.5 381.3L219.7 380.0L214.9 378.6L210.1 377.2L205.3 375.9L200.5 374.5L195.7 373.1L191.0 371.8L186.2 370.4L181.4 369.1L176.6 367.7" fill="none" stroke="#333" stroke-width="0.7"/><path d="M535.0 624.7L538.6 633.2L542.3 631.9L545.9 630.1L549.5 628.1L553.2 626.7L556.8 626.2L560.4 626.0L564.1 625.3L567.7 623.8L571.3 621.6L575.0 619.6L578.6 618.6L582.2 618.6L585.8 618.6L589.5 618.0L593.1 616.3L596.7 614.0L600.3 612.1L604.0 611.3L607.6 611.4L611.2 611.5L614.8 610.7L618.4 608.9L622.1 606.6L625.7 604.8L629.3 604.2L632.9 604.4L636.5 604.4L640.1 603.4L643.7 601.5L647.4 599.2L651.0 597.6L654.6 597.2L658.2 597.4L661.8 597.3L665.4 596.2L669.0 594.2L672.6 591.9L676.2 590.4L679.8 590.2" fill="none" stroke="#222" stroke-width="0.8"/><path d="M525.5 624.7L529.1 633.1L532.7 631.1L536.4 627.6L540.0 623.8L543.6 621.7L547.3 622.1L550.9 623.6L554.5 623.6L558.2 621.2L561.8 616.8L565.4 612.9L569.1 611.9L572.7 613.8L576.3 616.0L579.9 616.0L583.6 613.1L587.2 608.4L590.8 604.8L594.5 604.5L598.1 606.9L601.7 609.0L605.3 608.6L608.9 605.3L612.6 600.6L616.2 597.3L619.8 597.6L623.4 600.2L627.0 602.1L630.6 601.3L634.2 597.6L637.9 592.9L641.5 590.1L645.1 590.8L648.7 593.5L652.3 595.1L655.9 593.9L659.5 589.9L663.1 585.3L666.7 583.0L670.3 584.2" fill="none" stroke="#222" stroke-width="0.8"/><path d="M515.9 624.8L519.6 633.1L523.2 630.2L526.9 622.2L530.5 606.6L534.1 588.5L537.8 580.2L541.4 588.0L545.0 603.7L548.7 615.2L552.3 617.1L555.9 607.8L559.6 588.3L563.3 566.7L566.9 558.0L570.5 568.8L574.1 589.0L577.7 604.3L581.3 608.4L584.9 600.5L588.6 581.4L592.3 558.7L596.0 547.5L599.6 556.5L603.1 577.1L606.7 594.2L610.2 600.1L613.9 593.9L617.6 576.1L621.3 552.9L625.0 539.2L628.6 545.6L632.1 565.6L635.6 584.0L639.1 591.6L642.8 587.1L646.5 570.8L650.3 547.7L654.0 531.7L657.6 535.1L661.0 554.2" fill="none" stroke="#c84a3c" stroke-width="1.4"/><path d="M506.4 623.1L510.1 631.7L513.7 630.6L517.4 628.3L521.0 621.7L524.6 605.4L528.2 578.3L531.9 552.9L535.5 548.2L539.2 567.2L542.8 593.3L546.4 610.8L550.0 617.7L553.7 618.6L557.3 616.4L560.9 608.7L564.6 590.2L568.3 559.3L572.0 529.1L575.6 521.3L579.2 541.8L582.7 572.9L586.3 595.4L589.9 605.1L593.5 607.2L597.1 605.6L600.7 599.4L604.4 583.3L608.2 554.2L612.0 521.7L615.7 507.8L619.2 523.5L622.6 554.7L626.1 580.1L629.6 592.4L633.2 595.6L636.8 594.7L640.4 589.8L644.1 576.4L647.9 549.8L651.8 516.4" fill="none" stroke="#222" stroke-width="0.8"/><path d="M496.9 620.3L500.6 628.0L504.2 625.3L507.9 622.2L511.5 618.2L515.1 610.7L518.7 593.7L522.3 561.7L525.9 522.3L529.6 500.1L533.3 511.8L536.9 545.1L540.5 574.9L544.2 589.9L547.8 594.1L551.4 594.0L555.1 592.8L558.7 591.2L562.3 588.0L566.0 579.0L569.6 556.8L573.4 518.3L577.1 478.8L580.8 465.9L584.3 490.0L587.9 525.2L591.4 541.4L595.1 538.6L598.7 526.7L602.4 512.2L606.1 497.2L609.8 482.1L613.5 474.8L617.1 473.3L620.8 471.8L624.4 470.3L628.1 468.7L631.7 467.1L635.3 465.6L639.0 464.0L642.6 462.4" fill="none" stroke="#222" stroke-width="0.8"/><path d="M487.4 617.5L491.1 620.8L494.7 610.6L498.3 598.7L501.9 586.2L505.5 573.9L509.2 562.2L512.8 551.3L516.4 541.5L520.1 532.8L523.7 525.2L527.4 518.7L531.0 513.0L534.7 508.2L538.3 504.1L542.0 500.7L545.6 497.7L549.3 495.2L552.9 493.1L556.6 491.2L560.2 489.5L563.9 487.9L567.5 486.4L571.1 484.6L574.8 482.8L578.4 480.9L582.1 479.1L585.7 477.2L589.4 475.3L593.0 473.4L596.7 471.4L600.3 469.4L604.0 467.4L607.6 465.4L611.2 463.4L614.9 461.3L618.5 459.2L622.2 457.1L625.8 455.0L629.4 452.8L633.1 450.7" fill="none" stroke="#222" stroke-width="0.8"/><path d="M477.9 614.7L481.6 616.6L485.2 604.1L488.8 589.5L492.4 574.2L496.0 559.0L499.6 544.6L503.2 531.3L506.8 519.2L510.5 508.6L514.1 499.3L517.8 491.3L521.4 484.5L525.1 478.8L528.7 473.9L532.4 469.8L536.0 466.4L539.7 463.5L543.4 461.0L547.0 458.9L550.7 457.1L554.3 455.4L558.0 454.1L561.6 453.1L565.3 452.3L568.9 451.7L572.6 451.1L576.2 450.7L579.9 450.3L583.5 449.9L587.2 449.6L590.8 449.3L594.4 449.1L598.1 448.9L601.7 448.7L605.4 448.5L609.0 448.3L612.6 448.2L616.3 448.1L619.9 448.0L623.5 447.9" fill="none" stroke="#222" stroke-width="0.8"/><path d="M468.5 611.9L472.1 613.1L475.7 599.4L479.3 583.3L482.9 566.4L486.4 549.7L490.0 533.9L493.7 519.2L497.3 506.0L500.9 494.3L504.5 484.1L508.2 475.4L511.8 467.9L515.5 461.7L519.1 456.4L522.8 452.0L526.5 448.3L530.1 445.2L533.8 442.6L537.4 440.3L541.1 438.4L544.8 436.7L548.4 435.5L552.1 434.9L555.7 434.7L559.4 434.7L563.0 434.9L566.7 435.2L570.3 435.5L574.0 436.0L577.6 436.6L581.3 437.2L584.9 437.9L588.5 438.7L592.2 439.5L595.8 440.3L599.4 441.2L603.1 442.2L606.7 443.1L610.3 444.1L613.9 445.2" fill="none" stroke="#222" stroke-width="0.8"/><path d="M459.0 609.1L462.6 609.9L466.2 595.5L469.8 578.7L473.3 561.0L476.9 543.5L480.5 526.8L484.1 511.5L487.7 497.6L491.3 485.4L495.0 474.7L498.6 465.5L502.3 457.8L505.9 451.2L509.6 445.7L513.2 441.2L516.9 437.3L520.5 434.1L524.2 431.4L527.9 429.1L531.5 427.1L535.2 425.4L538.8 424.2L542.5 423.9L546.2 424.0L549.8 424.3L553.5 424.9L557.1 425.6L560.8 426.4L564.4 427.3L568.1 428.4L571.7 429.5L575.3 430.7L579.0 432.0L582.6 433.3L586.2 434.7L589.9 436.2L593.5 437.6L597.1 439.2L600.8 440.8L604.4 442.4" fill="none" stroke="#222" stroke-width="0.8"/><path d="M449.5 606.3L453.2 606.9L456.7 592.2L460.3 574.9L463.8 556.8L467.4 538.8L471.0 521.8L474.6 506.0L478.2 491.8L481.8 479.3L485.4 468.4L489.0 459.0L492.7 451.1L496.3 444.4L500.0 438.7L503.6 434.1L507.3 430.2L511.0 426.9L514.6 424.1L518.3 421.8L521.9 419.8L525.6 418.0L529.3 416.9L532.9 416.7L536.6 417.0L540.2 417.5L543.9 418.2L547.5 419.2L551.2 420.2L554.8 421.4L558.5 422.7L562.1 424.1L565.8 425.6L569.4 427.1L573.1 428.7L576.7 430.4L580.3 432.2L584.0 434.0L587.6 435.8L591.2 437.7L594.8 439.7" fill="none" stroke="#222" stroke-width="0.8"/><path d="M440.0 603.6L443.7 604.0L447.2 589.1L450.8 571.6L454.3 553.2L457.9 535.1L461.5 517.8L465.0 501.8L468.6 487.5L472.2 474.8L475.9 463.7L479.5 454.2L483.1 446.2L486.8 439.4L490.4 433.7L494.1 429.0L497.7 425.1L501.4 421.8L505.0 419.0L508.7 416.6L512.4 414.6L516.0 412.8L519.7 411.7L523.3 411.6L527.0 411.9L530.7 412.6L534.3 413.4L538.0 414.5L541.6 415.6L545.3 417.0L548.9 418.4L552.6 419.9L556.2 421.5L559.9 423.2L563.5 425.0L567.1 426.8L570.8 428.7L574.4 430.7L578.0 432.7L581.7 434.8L585.3 436.9" fill="none" stroke="#c84a3c" stroke-width="1.4"/><path d="M430.6 600.8L434.2 601.2L437.8 586.2L441.3 568.5L444.8 550.0L448.4 531.8L451.9 514.4L455.5 498.3L459.1 483.8L462.7 471.0L466.3 459.9L469.9 450.4L473.6 442.3L477.2 435.5L480.8 429.8L484.5 425.0L488.2 421.0L491.8 417.7L495.5 414.9L499.1 412.6L502.8 410.5L506.4 408.7L510.1 407.7L513.8 407.6L517.4 408.0L521.1 408.7L524.8 409.6L528.4 410.7L532.1 411.9L535.7 413.3L539.4 414.8L543.0 416.4L546.7 418.1L550.3 419.9L553.9 421.7L557.6 423.7L561.2 425.6L564.9 427.7L568.5 429.8L572.1 432.0L575.7 434.2" fill="none" stroke="#222" stroke-width="0.8"/><path d="M421.1 598.0L424.8 598.4L428.3 583.3L431.8 565.6L435.4 547.1L438.9 528.7L442.4 511.2L446.0 495.1L449.6 480.6L453.2 467.8L456.8 456.6L460.4 447.0L464.0 438.9L467.6 432.1L471.3 426.4L474.9 421.6L478.6 417.6L482.2 414.3L485.9 411.5L489.6 409.1L493.2 407.1L496.9 405.3L500.5 404.2L504.2 404.2L507.9 404.6L511.5 405.3L515.2 406.2L518.8 407.4L522.5 408.6L526.2 410.1L529.8 411.6L533.5 413.3L537.1 415.0L540.8 416.8L544.4 418.7L548.0 420.7L551.7 422.7L555.3 424.8L558.9 427.0L562.6 429.2L566.2 431.5" fill="none" stroke="#222" stroke-width="0.8"/><path d="M411.7 595.2L415.3 595.6L418.9 580.5L422.4 562.8L425.9 544.2L429.4 525.8L432.9 508.3L436.5 492.1L440.0 477.6L443.6 464.7L447.2 453.6L450.8 444.0L454.5 435.8L458.1 429.0L461.7 423.3L465.4 418.5L469.0 414.5L472.7 411.2L476.3 408.4L480.0 406.0L483.7 404.0L487.3 402.2L491.0 401.1L494.7 401.1L498.3 401.5L502.0 402.2L505.6 403.2L509.3 404.3L513.0 405.6L516.6 407.1L520.3 408.6L523.9 410.3L527.6 412.1L531.2 413.9L534.9 415.8L538.5 417.8L542.1 419.9L545.8 422.0L549.4 424.2L553.0 426.4L556.7 428.7" fill="none" stroke="#222" stroke-width="0.8"/><path d="M402.2 592.4L405.9 592.8L409.4 577.7L412.9 559.9L416.4 541.3L419.9 522.9L423.4 505.4L427.0 489.3L430.5 474.7L434.1 461.8L437.7 450.7L441.3 441.1L444.9 432.9L448.6 426.1L452.2 420.3L455.8 415.6L459.5 411.6L463.1 408.2L466.8 405.4L470.5 403.1L474.1 401.0L477.8 399.2L481.4 398.2L485.1 398.2L488.8 398.6L492.4 399.3L496.1 400.3L499.7 401.4L503.4 402.7L507.1 404.2L510.7 405.8L514.4 407.4L518.0 409.2L521.7 411.1L525.3 413.0L529.0 415.0L532.6 417.1L536.2 419.2L539.9 421.4L543.5 423.7L547.1 426.0" fill="none" stroke="#222" stroke-width="0.8"/><path d="M392.8 589.6L396.5 590.0L400.0 574.9L403.5 557.1L406.9 538.5L410.4 520.1L414.0 502.6L417.5 486.4L421.0 471.9L424.6 459.0L428.2 447.8L431.8 438.2L435.4 430.1L439.0 423.2L442.7 417.5L446.3 412.7L449.9 408.7L453.6 405.4L457.3 402.6L460.9 400.2L464.6 398.2L468.2 396.4L471.9 395.3L475.6 395.3L479.2 395.7L482.9 396.5L486.5 397.4L490.2 398.6L493.9 399.9L497.5 401.4L501.2 403.0L504.8 404.7L508.5 406.4L512.1 408.3L515.8 410.2L519.4 412.2L523.1 414.3L526.7 416.5L530.4 418.7L534.0 420.9L537.6 423.3" fill="none" stroke="#222" stroke-width="0.8"/><path d="M545.4 630.4L540.6 630.1L535.9 628.2L531.1 624.1L526.3 623.8L521.6 627.8L516.8 628.8L512.1 628.2L507.3 622.7L502.6 607.6L497.8 600.5L493.0 595.6L488.3 591.7L483.5 588.4L478.8 585.7L474.0 583.3L469.3 581.2L464.5 579.2L459.8 577.5L455.0 575.8L450.3 574.2L445.5 572.6L440.8 571.1L436.1 569.7L431.3 568.2L426.6 566.8L421.9 565.4L417.1 564.0L412.4 562.5L407.7 561.2L403.0 559.8" fill="none" stroke="#333" stroke-width="0.7"/><path d="M555.8 626.2L551.0 625.7L546.2 621.8L541.5 609.6L536.7 580.9L532.0 577.3L527.2 586.7L522.4 596.1L517.7 600.0L512.9 578.8L508.1 565.5L503.3 555.9L498.6 548.6L493.8 542.9L489.0 538.3L484.2 534.6L479.5 531.5L474.7 528.8L469.9 526.5L465.2 524.5L460.4 522.6L455.7 520.9L450.9 519.2L446.2 517.6L441.4 516.1L436.7 514.6L431.9 513.2L427.2 511.7L422.4 510.3L417.7 508.9L412.9 507.5" fill="none" stroke="#333" stroke-width="0.7"/><path d="M566.1 624.6L561.4 624.3L556.6 622.5L551.9 618.4L547.1 611.3L542.4 589.8L537.6 557.0L532.8 505.2L528.0 505.9L523.3 546.8L518.5 536.4L513.7 523.1L508.9 513.0L504.1 505.2L499.4 499.1L494.6 494.3L489.8 490.4L485.0 487.2L480.2 484.5L475.5 482.1L470.7 480.0L465.9 478.1L461.1 476.3L456.4 474.7L451.6 473.1L446.9 471.5L442.1 470.0L437.3 468.6L432.6 467.2L427.8 465.7L423.1 464.3" fill="none" stroke="#333" stroke-width="0.7"/><path d="M576.5 619.0L571.8 618.2L567.0 612.0L562.3 595.5L557.5 600.5L552.7 619.8L548.0 614.8L543.2 593.4L538.5 559.4L533.7 537.1L528.9 516.1L524.1 500.3L519.3 488.3L514.5 479.1L509.8 472.0L505.0 466.5L500.2 462.1L495.4 458.4L490.6 455.4L485.8 452.9L481.0 450.6L476.3 448.6L471.5 446.7L466.7 445.0L461.9 443.4L457.2 441.8L452.4 440.3L447.6 438.8L442.9 437.4L438.1 436.0L433.3 434.6" fill="none" stroke="#333" stroke-width="0.7"/><path d="M586.9 618.5L582.1 618.3L577.4 616.3L572.6 609.5L568.0 559.2L563.1 580.8L558.3 614.9L553.6 616.4L548.8 594.3L544.1 530.8L539.3 503.1L534.6 485.8L529.8 472.7L525.0 462.7L520.2 455.1L515.4 449.1L510.6 444.3L505.8 440.5L501.0 437.3L496.2 434.6L491.5 432.3L486.7 430.2L481.9 428.3L477.1 426.6L472.3 424.9L467.6 423.3L462.8 421.8L458.0 420.3L453.2 418.9L448.5 417.4L443.7 416.0" fill="none" stroke="#333" stroke-width="0.7"/><path d="M597.2 613.7L592.5 613.0L587.7 607.8L583.0 595.8L578.2 605.7L573.6 547.7L568.8 554.5L563.9 605.1L559.2 590.9L554.5 523.9L549.8 494.9L545.0 476.8L540.2 463.1L535.4 452.8L530.6 444.8L525.9 438.6L521.1 433.7L516.3 429.7L511.5 426.5L506.7 423.7L501.9 421.3L497.1 419.2L492.3 417.3L487.5 415.5L482.8 413.9L478.0 412.3L473.2 410.8L468.4 409.3L463.7 407.8L458.9 406.4L454.1 405.0" fill="none" stroke="#333" stroke-width="0.7"/><path d="M607.6 611.4L602.8 610.9L598.1 606.9L593.4 593.4L588.6 581.4L583.8 606.0L579.2 541.8L574.5 502.7L569.6 556.8L564.9 515.7L560.2 489.5L555.4 471.0L550.7 457.1L545.9 446.5L541.1 438.4L536.3 432.1L531.5 427.1L526.7 423.1L521.9 419.8L517.1 417.0L512.4 414.6L507.6 412.5L502.8 410.5L498.0 408.8L493.2 407.1L488.4 405.5L483.7 404.0L478.9 402.5L474.1 401.0L469.3 399.6L464.6 398.2" fill="none" stroke="#333" stroke-width="0.7"/><path d="M617.9 609.2L613.2 608.8L608.4 605.9L603.7 599.9L599.1 554.1L594.2 595.5L589.4 604.3L584.9 525.8L580.3 465.4L575.4 501.4L570.6 484.9L565.9 466.8L561.1 453.2L556.3 442.9L551.6 435.0L546.8 428.8L542.0 423.9L537.2 420.0L532.4 416.7L527.6 414.0L522.8 411.6L518.0 409.5L513.2 407.6L508.5 405.8L503.7 404.2L498.9 402.6L494.1 401.1L489.4 399.6L484.6 398.1L479.8 396.7L475.0 395.3" fill="none" stroke="#333" stroke-width="0.7"/><path d="M628.3 604.3L623.5 603.4L618.8 597.2L614.1 579.1L609.2 599.7L604.8 529.3L599.7 601.9L594.9 601.2L590.4 539.1L585.8 502.6L581.0 479.6L576.3 463.5L571.5 451.3L566.8 442.0L562.0 434.8L557.2 429.2L552.4 424.7L547.6 421.0L542.8 418.0L538.1 415.4L533.3 413.2L528.5 411.1L523.7 409.3L518.9 407.6L514.1 405.9L509.4 404.4L504.6 402.9L499.8 401.4L495.0 400.0L490.3 398.5L485.5 397.1" fill="none" stroke="#333" stroke-width="0.7"/><path d="M638.6 604.0L633.8 603.8L629.0 602.0L624.3 596.9L619.7 562.7L614.9 580.0L610.3 534.7L605.2 601.0L600.8 518.6L596.2 493.0L591.5 474.2L586.7 460.5L582.0 450.0L577.2 442.0L572.4 435.8L567.6 430.9L562.8 426.9L558.1 423.6L553.3 420.9L548.5 418.5L543.7 416.4L538.9 414.5L534.1 412.7L529.4 411.0L524.6 409.4L519.8 407.9L515.0 406.4L510.3 405.0L505.5 403.6L500.7 402.1L496.0 400.7" fill="none" stroke="#333" stroke-width="0.7"/><path d="M648.9 598.4L644.1 597.5L639.4 591.3L634.8 575.8L630.1 553.4L625.1 597.6L620.7 536.4L615.8 550.9L611.4 475.7L606.6 480.5L601.9 468.6L597.1 457.6L592.4 449.2L587.6 442.7L582.8 437.5L578.0 433.4L573.3 430.0L568.5 427.2L563.7 424.7L558.9 422.5L554.1 420.6L549.4 418.8L544.6 417.1L539.8 415.5L535.0 414.0L530.3 412.5L525.5 411.0L520.7 409.6L515.9 408.2L511.2 406.8L506.4 405.4" fill="none" stroke="#333" stroke-width="0.7"/><path d="M659.2 597.5L654.4 597.1L649.7 594.2L645.0 584.1L640.2 591.6L635.7 541.0L630.6 593.9L626.7 463.4L621.8 471.4L617.0 471.7L612.3 462.8L607.5 454.8L602.8 448.6L598.0 443.7L593.2 439.7L588.4 436.5L583.7 433.7L578.9 431.3L574.1 429.2L569.3 427.3L564.5 425.5L559.8 423.9L555.0 422.3L550.2 420.8L545.4 419.3L540.7 417.8L535.9 416.4L531.1 415.0L526.4 413.6L521.6 412.2L516.8 410.8" fill="none" stroke="#333" stroke-width="0.7"/><path d="M669.5 593.8L664.7 593.3L660.0 589.2L655.3 580.6L650.8 544.6L646.1 542.0L640.9 588.6L636.3 570.9L632.2 466.9L627.4 462.6L622.7 456.8L617.9 452.0L613.1 448.2L608.4 445.0L603.6 442.3L598.8 440.0L594.0 437.9L589.2 436.0L584.5 434.2L579.7 432.6L574.9 431.0L570.1 429.5L565.4 428.0L560.6 426.6L555.8 425.1L551.1 423.7L546.3 422.3L541.5 420.9L536.8 419.5L532.0 418.2L527.2 416.8" fill="none" stroke="#333" stroke-width="0.7"/><path d="M679.8 590.2L675.1 589.5L670.3 584.2L665.7 567.6L661.0 554.2L656.0 589.5L651.8 516.4L646.4 590.1L642.6 462.4L637.9 453.0L633.1 450.7L628.3 449.3L623.5 447.9L618.7 446.5L613.9 445.2L609.2 443.8L604.4 442.4L599.6 441.1L594.8 439.7L590.1 438.3L585.3 436.9L580.5 435.6L575.7 434.2L571.0 432.8L566.2 431.5L561.4 430.1L556.7 428.7L551.9 427.4L547.1 426.0L542.4 424.6L537.6 423.3" fill="none" stroke="#333" stroke-width="0.7"/></svg>
<canvas id="cv" width="685" height="674"></canvas>
<svg id="tx" width="685" height="674">
<text x="15.2" y="7.8" textLength="122.7" lengthAdjust="spacingAndGlyphs">Nuclear Nrf2 quantity (zmol)</text>
<text x="26.8" y="285.4" text-anchor="middle">20</text>
<text x="65.2" y="297.1" text-anchor="middle">15</text>
<text x="103.1" y="308.5" text-anchor="middle">10</text>
<text x="142.2" y="319.8" text-anchor="middle">5</text>
<text x="14.5" y="321.9" textLength="119.3" lengthAdjust="spacingAndGlyphs">CsA administered (microM)</text>
<text x="208.7" y="319.9" text-anchor="middle">2</text>
<text x="229.4" y="313.8" text-anchor="middle">4</text>
<text x="249.9" y="308.0" text-anchor="middle">6</text>
<text x="270.2" y="301.9" text-anchor="middle">8</text>
<text x="289.7" y="296.1" text-anchor="middle">10</text>
<text x="245.7" y="322.9" textLength="46.3" lengthAdjust="spacingAndGlyphs">Time (day)</text>
<text x="5.3" y="91.9" text-anchor="middle">6</text>
<text x="5.3" y="120.9" text-anchor="middle">5</text>
<text x="5.3" y="149.9" text-anchor="middle">4</text>
<text x="5.3" y="178.9" text-anchor="middle">3</text>
<text x="5.3" y="207.9" text-anchor="middle">2</text>
<text x="5.3" y="236.9" text-anchor="middle">1</text>
<text x="374.2" y="8.3" textLength="124.8" lengthAdjust="spacingAndGlyphs">Cellular ROS quantity (nmol)</text>
<text x="387.8" y="285.7" text-anchor="middle">20</text>
<text x="426.2" y="297.4" text-anchor="middle">15</text>
<text x="464.1" y="308.8" text-anchor="middle">10</text>
<text x="503.2" y="320.1" text-anchor="middle">5</text>
<text x="375.5" y="322.2" textLength="119.3" lengthAdjust="spacingAndGlyphs">CsA administered (microM)</text>
<text x="569.7" y="320.2" text-anchor="middle">2</text>
<text x="590.4" y="314.1" text-anchor="middle">4</text>
<text x="610.9" y="308.3" text-anchor="middle">6</text>
<text x="631.2" y="302.2" text-anchor="middle">8</text>
<text x="650.7" y="296.4" text-anchor="middle">10</text>
<text x="606.7" y="323.2" textLength="46.3" lengthAdjust="spacingAndGlyphs">Time (day)</text>
<text x="366.3" y="80.8" text-anchor="middle">0.0025</text>
<text x="366.3" y="117.1" text-anchor="middle">0.0020</text>
<text x="366.3" y="153.1" text-anchor="middle">0.0015</text>
<text x="366.3" y="189.5" text-anchor="middle">0.0010</text>
<text x="366.3" y="225.5" text-anchor="middle">0.0005</text>
<text x="14.5" y="355.4" textLength="124" lengthAdjust="spacingAndGlyphs">Cellular GCL quantity (zmol)</text>
<text x="27.1" y="632.8" text-anchor="middle">20</text>
<text x="65.5" y="644.5" text-anchor="middle">15</text>
<text x="103.4" y="655.9" text-anchor="middle">10</text>
<text x="142.5" y="667.2" text-anchor="middle">5</text>
<text x="14.8" y="669.3" textLength="119.3" lengthAdjust="spacingAndGlyphs">CsA administered (microM)</text>
<text x="209.0" y="667.3" text-anchor="middle">2</text>
<text x="229.7" y="661.2" text-anchor="middle">4</text>
<text x="250.2" y="655.4" text-anchor="middle">6</text>
<text x="270.5" y="649.3" text-anchor="middle">8</text>
<text x="290.0" y="643.5" text-anchor="middle">10</text>
<text x="246.0" y="670.3" textLength="46.3" lengthAdjust="spacingAndGlyphs">Time (day)</text>
<text x="5.6" y="442.9" text-anchor="middle">70</text>
<text x="5.6" y="469.3" text-anchor="middle">60</text>
<text x="5.6" y="495.8" text-anchor="middle">50</text>
<text x="5.6" y="522.2" text-anchor="middle">40</text>
<text x="5.6" y="548.7" text-anchor="middle">30</text>
<text x="5.6" y="575.1" text-anchor="middle">20</text>
<text x="5.6" y="601.6" text-anchor="middle">10</text>
<text x="374.5" y="356.4" textLength="125.7" lengthAdjust="spacingAndGlyphs">Cellular GSH quantity (zmol)</text>
<text x="388.1" y="633.2" text-anchor="middle">20</text>
<text x="426.5" y="644.9" text-anchor="middle">15</text>
<text x="464.4" y="656.3" text-anchor="middle">10</text>
<text x="503.5" y="667.6" text-anchor="middle">5</text>
<text x="375.8" y="669.7" textLength="119.3" lengthAdjust="spacingAndGlyphs">CsA administered (microM)</text>
<text x="570.0" y="667.7" text-anchor="middle">2</text>
<text x="590.7" y="661.6" text-anchor="middle">4</text>
<text x="611.2" y="655.8" text-anchor="middle">6</text>
<text x="631.5" y="649.7" text-anchor="middle">8</text>
<text x="651.0" y="643.9" text-anchor="middle">10</text>
<text x="607.0" y="670.7" textLength="46.3" lengthAdjust="spacingAndGlyphs">Time (day)</text>
<text x="366.6" y="483.6" text-anchor="middle">1e+07</text>
<text x="366.6" y="512.5" text-anchor="middle">8e+06</text>
<text x="366.6" y="541.0" text-anchor="middle">6e+06</text>
<text x="366.6" y="569.0" text-anchor="middle">4e+06</text>
<text x="366.6" y="598.0" text-anchor="middle">2e+06</text>
</svg>
<script>
try{
(function(){
const M=[[0.700580848,-0.423813231,0.574080849,-0.574080849],
[0.713573034,0.416096767,-0.563628428,0.563628428],
[0,0.804515896,0.593931119,-0.593931119],
[0,0,-219.80296,220.80296]];
const EX=2.51266578, SX=22533.4759, SY=10807.4333, OX=175.0114, OY=159.5708;
function proj(u,v,w,dx,dy){
 const X=-(2*u-1), Y=2*v-1, Z=(2*w-1)*EX;
 const a=X*M[0][0]+Y*M[1][0]+Z*M[2][0]+M[3][0];
 const b=X*M[0][1]+Y*M[1][1]+Z*M[2][1]+M[3][1];
 const c=X*M[0][2]+Y*M[1][2]+Z*M[2][2]+M[3][2];
 const d=X*M[0][3]+Y*M[1][3]+Z*M[2][3]+M[3][3];
 return [OX+SX*a/d+dx, OY-SY*b/d+dy, c];
}
const W=685,H=674;
const cv=document.getElementById('cv');
const g=cv.getContext('2d');
g.fillStyle='#fff';g.fillRect(0,0,W,H);
function mk(){const c=document.createElement('canvas');c.width=W;c.height=H;return c;}
const CMIN=2.5,CMAX=21.25,TMAX=14;
function cu(c){return (c-CMIN)/(CMAX-CMIN);}
function tv(t){return t/TMAX;}

function line(ctx,pts,col,lw){ctx.strokeStyle=col;ctx.lineWidth=lw;ctx.beginPath();ctx.moveTo(pts[0][0],pts[0][1]);for(let i=1;i<pts.length;i++)ctx.lineTo(pts[i][0],pts[i][1]);ctx.stroke();}

// ---------------- plots -----------------
const PL=[];
// Models: functions return normalized height w in [0,1]
function cl(x){return x<0?0:x>1?1:x;}
function pw(t,pts){if(t<=pts[0][0])return pts[0][1];for(let i=1;i<pts.length;i++){if(t<=pts[i][0]){const a=pts[i-1],b=pts[i];const f=(t-a[0])/(b[0]-a[0]);const sf=f*f*(3-2*f);return a[1]+(b[1]-a[1])*sf;}}return pts[pts.length-1][1];}
function bumps(t,t1,per,sig,sl,f1){sl=sl||sig;f1=f1||1;let s=0;for(let k=0;k<14;k++){const tk=t1+k*per;if(tk>17)break;const d=(t-tk)/(t<tk?sl:sig);if(d>-5&&d<5)s+=Math.exp(-0.5*d*d)*(k===0?f1:1);}return s;}
function model(m,c,t){
 const ch=m.ch||8.75, clo=m.clo||7.5;
 if(c>=ch-1e-9)return m.on(c,t);
 if(c>=clo-1e-9){const s=(c-clo)/(ch-clo);return m.l75(t)*(1-s)+m.on(ch,t)*s+(m.wig||0)*4*s*(1-s)*Math.sin(2*Math.PI*t/0.97)*cl(t-1);}
 const o=m.osc(c,t);
 if(c>=clo-0.35){const s=(c-clo+0.35)/0.35;return o*(1-s)+m.l75(t)*s;}
 return o;
}
// Plot 1: Nrf2
const M1={wig:0.02,
 on(c,t){const L=1-0.45*Math.exp(-(c-8.75)/5);const tf=0.42+0.28*cl((21.25-c)/12.5);const ts=0.5+4.5*Math.exp(-(c-8.75)/1.2);
  return 0.97*(L*(1-Math.exp(-t/tf))+(1-L)*(1-Math.exp(-t/ts)));},
 l75(t){return pw(t,[[0,0],[0.5,0.36],[1.3,0.45],[2.5,0.39],[4,0.35],[6.3,0.31],[7.5,0.40],[8.5,0.46],[14,0.41]])+0.02*Math.sin(2*Math.PI*t/0.95)*cl(t-0.8);},
 osc(c,t){const per=Math.max(2.4,2.87+0.86*(c-5));const A=c>=5?0.15+0.104*(c-5):0.012+0.138*Math.pow((c-2.5)/2.5,3);
  return 0.012+A*(bumps(t,0.62,per,0.4)+0.35*bumps(t,1.45,per,0.35))*(1-Math.exp(-t*4));}
};
PL.push({dx:0,dy:0,z0:0.2,z1:6.94,cliff:1,ticks:[1,2,3,4,5,6],f:(c,t)=>model(M1,c,t)});
function pl(t,pts){if(t<=pts[0][0])return pts[0][1];for(let i=1;i<pts.length;i++){if(t<=pts[i][0]){const a=pts[i-1],b=pts[i];const f=(t-a[0])/(b[0]-a[0]);return a[1]+(b[1]-a[1])*f;}}return pts[pts.length-1][1];}
const H21=[[0,0],[1,0.03],[2,0.058],[3,0.085],[4,0.118],[5,0.16],[6,0.225],[7,0.3],[8,0.38],[9,0.465],[10,0.555],[11,0.655],[12,0.76],[13,0.87],[14,1.0]];
const Z14=[[2.5,0],[7.5,0.003],[10.46,0.037],[12.9,0.113],[14.87,0.222],[16.34,0.338],[17.81,0.471],[19.04,0.607],[20.26,0.781],[21.25,0.967]];
function ros(c,t){const b=cl((21.25-c)/6);const H=(1-b)*pl(t,H21)+b*t/14;return pl(c,Z14)*H;}
PL.push({dx:361,dy:0.3,z0:0.0000294,z1:0.00271,ticks:[0.0005,0.001,0.0015,0.002,0.0025],f:ros});
// Plot 3: GCL
const M3={wig:0.015,
 on(c,t){const tau=1.0+0.15*Math.exp(-(c-8.75)/5);const L=1-0.3*Math.exp(-(c-8.75)/2.5);const ts=0.5+4.5*Math.exp(-(c-8.75)/2);
  return 0.995*(L*(1-Math.exp(-Math.pow(t/tau,2)))+(1-L)*(1-Math.exp(-Math.pow(t/ts,1.2))));},
 l75(t){return pw(t,[[0,0],[0.8,0.08],[1.5,0.45],[2.0,0.63],[4.5,0.6],[6.8,0.54],[8.0,0.68],[9,0.715],[14,0.67]])+0.015*Math.sin(2*Math.PI*t/0.95)*cl(t-1);},
 osc(c,t){const per=Math.max(2.4,2.83+0.86*(c-5));const A=c>=5?0.22+0.176*(c-5):0.015+0.205*Math.pow((c-2.5)/2.5,3);const t1=Math.max(0.9,1.0+0.4*(c-5));
  const rise=1-Math.exp(-Math.pow(t/0.5,2));
  return 0.01+A*bumps(t,t1,per,0.55,0.75,0.8)*rise;}
};
PL.push({dx:0.3,dy:347.4,z0:7.0,z1:82.2,cliff:1,ticks:[10,20,30,40,50,60,70],f:(c,t)=>model(M3,c,t)});
// Plot 4: GSH
const M4={ch:8.2,clo:7.3,
 on(c,t){const r=1-Math.exp(-Math.pow(t/2.7,1.5));const d2=1-Math.pow(cl((t-7.5)/6.5),1.3);const gc=1-0.35*Math.exp(-(c-8.75)/2);
  return 0.03+0.05*Math.exp(-t/0.08)+0.93*r*(0.74+(gc-0.74)*d2);},
 l75(t){const b=cl((t-8.5)/2.5);return M4.osc(7.3,t)*(1-b)+0.66*b;},
 osc(c,t){const per=Math.max(2.4,2.85+0.86*(c-5));const A=c>=5?Math.min(0.78,0.33+0.12*(c-5)+0.22*Math.max(0,c-6.25)):0.02+0.31*Math.pow((c-2.5)/2.5,3);const t1=Math.max(1.6,2.0+0.5*(c-5));
  return 0.03+0.035*cl((5.5-c)/3)+0.05*Math.exp(-t/0.08)+A*bumps(t,t1,per,0.6)*(1-Math.exp(-t/1.5));}
};
PL.push({dx:361.3,dy:347.8,z0:1.18e6,z1:1.502e7,cliff:1,ticks:[2e6,4e6,6e6,8e6,1e7],f:(c,t)=>model(M4,c,t)});

// c grid (fine, non-uniform near threshold), t grid
const CG=[];
for(let k=0;k<20;k++)CG.push(CMIN+k*0.25);
for(let k=0;k<45;k++)CG.push(7.5+k*0.05);
for(let k=0;k<=46;k++)CG.push(9.75+k*0.25);
const TG=[];for(let t=0;t<=TMAX+1e-9;t+=0.1)TG.push(t);
function isCoarseC(c){const k=(c-CMIN)/1.25;return Math.abs(k-Math.round(k))<1e-6;}
function isCoarseT(t){return Math.abs(t-Math.round(t))<1e-6;}
function isRedC(c){return Math.abs(c-5)<1e-6||Math.abs(c-15)<1e-6;}

const S=mk(), A=mk(), Wc=cv; const OVL=[];
const s=S.getContext('2d'), a=A.getContext('2d');
s.fillStyle='#fff';s.fillRect(0,0,W,H);
a.fillStyle='#000';a.fillRect(0,0,W,H);
s.lineJoin=a.lineJoin='round';

const LX=0.8,LY=-0.1,LZ=0.0; // light
const SH=0.5, BASE0=250, GTOP=170, QZ=0.45, KL=0.15, AMIN=0.22, AP=0.35, NZ0=0.07, NZ1=0.32, AMID=0.8, ZA=0.35;
const EXN=1.2;
function drawWalls(p){
 const dx=p.dx,dy=p.dy;
 const col='rgba(30,30,30,0.9)';
 // wall grid lines
 for(const z of p.ticks){
  const w=(z-p.z0)/(p.z1-p.z0);
  line(g,[proj(1,0.005,w,dx,dy),proj(1,1,w,dx,dy),proj(0,1,w,dx,dy)],col,0.8);
 }
 // bottom edges
 line(g,[proj(1,0,0,dx,dy),proj(1,1,0,dx,dy),proj(0,1,0,dx,dy)],col,0.7);
 // top edges with gap at corner
 const bt=proj(1,1,1,dx,dy);
 line(g,[proj(1,0,1,dx,dy),proj(1,0.985,1,dx,dy)],col,0.75);
 line(g,[proj(0.985,1,1,dx,dy),proj(0,1,1,dx,dy)],col,0.75);
 // back vertical edge
 line(g,[proj(1,1,0,dx,dy),proj(1,1,0.985,dx,dy)],col,0.7);
 // side vertical axis lines
 line(g,[[27.7+dx,63.3+dy],[27.5+dx,257+dy]],'rgba(110,110,110,0.9)',0.9);
 line(g,[[322.8+dx,64.6+dy],[322.4+dx,258.3+dy]],'rgba(110,110,110,0.9)',0.9);
}
function drawSurface(p){
 const dx=p.dx,dy=p.dy,nc=CG.length,nt=TG.length;
 const P=new Array(nc*nt), Wn=new Float64Array(nc*nt);
 for(let i=0;i<nc;i++)for(let j=0;j<nt;j++){
  const w=p.f(CG[i],TG[j]);
  Wn[i*nt+j]=w;
  P[i*nt+j]=proj(cu(CG[i]),tv(TG[j]),w,dx,dy);
 }
 const mt=nt-1,mc=nc-1;
 const NZ=new Float64Array(mc*mt), DEP=new Float64Array(mc*mt), COL=new Array(mc*mt), ALP=new Array(mc*mt);
 const items=[];
 for(let i=0;i<mc;i++)for(let j=0;j<mt;j++){
  const k=i*nt+j;
  const du=2*(cu(CG[i+1])-cu(CG[i])), dv=2*(tv(TG[j+1])-tv(TG[j]));
  const w00=Wn[k],w01=Wn[k+1],w10=Wn[k+nt],w11=Wn[k+nt+1];
  const dzc=((w10+w11)-(w00+w01))/2*2*EXN, dzt=((w01+w11)-(w00+w10))/2*2*EXN;
  let nx=-dzc*dv, ny=du*dzt, nz=-du*dv;
  if(nz<0){nx=-nx;ny=-ny;nz=-nz;}
  const nl=Math.hypot(nx,ny,nz);nx/=nl;ny/=nl;nz/=nl;
  const dot=nx*LX+ny*LY+nz*LZ;
  const zm=Math.max(0,Math.min(1,(w00+w01+w10+w11)/4));
  const base=BASE0-(BASE0-GTOP)*Math.pow(zm,QZ);
  const gv=Math.max(0,Math.min(255,Math.round(base*(1+KL*dot))));
  const q=cl((nz-NZ0)/(NZ1-NZ0)),q2=cl((nz-NZ1)/(0.85-NZ1)),al0=AMIN+(AMID-AMIN)*q*q*(3-2*q)+(1-AMID)*q2*q2*(3-2*q2),al=al0+ZA*zm*zm*(1-al0);
  const av=Math.round(255*al);
  const f=i*mt+j;
  NZ[f]=nz;COL[f]='rgb('+gv+','+gv+','+gv+')';ALP[f]='rgb('+av+','+av+','+av+')';
  const dep=(P[k][2]+P[k+1][2]+P[k+nt][2]+P[k+nt+1][2])/4;DEP[f]=dep;
  items.push([dep,0,i,j]);
 }
 function nzf(i,j){if(i<0||j<0||i>=mc||j>=mt)return 0;return NZ[i*mt+j];}
 function dpf(i,j){if(i<0||j<0||i>=mc||j>=mt)return -1e9;return DEP[i*mt+j];}
 const BIAS=0.03, STP=18, STPC=4, LZ0=0.45, LZ1=0.15;
 // lines along t at coarse c (edges between facet columns i-1 and i at node i)
 for(let i=0;i<nc;i++){
  const c=CG[i];let ty=-1;
  if(isCoarseC(c))ty=isRedC(c)?2:1; else if(p.cliff&&c>7.5&&c<8.75)ty=3;
  if(ty<0)continue;
  for(let j=0;j<mt;j++){
   if(ty===3&&TG[j]<1.2)continue;
   const a=P[i*nt+j],b=P[i*nt+j+1];
   if(p.cliff&&c<8.7&&c>4.5&&TG[j]>=0.8)OVL.push([a,b,ty]);
   const st=Math.abs(Wn[i*nt+j+1]-Wn[i*nt+j])*EXN>STP*(tv(TG[j+1])-tv(TG[j]))?1:0;
   items.push([Math.max(dpf(i-1,j),dpf(i,j))+BIAS,1,a,b,ty,st,(Wn[i*nt+j]+Wn[i*nt+j+1])/2]);
  }
 }
 // lines along c at coarse t
 for(let j=0;j<nt;j++){
  if(!isCoarseT(TG[j])||j===0)continue;
  for(let i=0;i<mc;i++){
   const a=P[i*nt+j],b=P[(i+1)*nt+j];
   if(p.cliff&&CG[i+1]<8.7&&CG[i]>4.5&&TG[j]>=1)OVL.push([a,b,0]);
   const st=Math.abs(Wn[(i+1)*nt+j]-Wn[i*nt+j])*EXN>STPC*(cu(CG[i+1])-cu(CG[i]))?2:0;
   items.push([Math.max(dpf(i,j-1),dpf(i,j))+BIAS,1,a,b,0,st,(Wn[i*nt+j]+Wn[(i+1)*nt+j])/2]);
  }
 }
 items.sort((x,y)=>x[0]-y[0]);
 for(const it of items){
  if(it[1]===0){
   const i=it[2],j=it[3],k=i*nt+j,f=i*mt+j;
   const p00=P[k],p01=P[k+1],p10=P[k+nt],p11=P[k+nt+1];
   s.fillStyle=s.strokeStyle=COL[f];s.lineWidth=0.5;
   a.fillStyle=a.strokeStyle=ALP[f];a.lineWidth=0.5;
   for(const ctx of [s,a]){ctx.beginPath();ctx.moveTo(p00[0],p00[1]);ctx.lineTo(p01[0],p01[1]);ctx.lineTo(p11[0],p11[1]);ctx.lineTo(p10[0],p10[1]);ctx.closePath();ctx.fill();ctx.stroke();}
  } else {
   const A0=it[2],B0=it[3],ty=it[4],sf=ty<=2?it[5]:0,zf=LZ0+(1-LZ0)*cl(it[6]/LZ1);
   s.globalAlpha=zf;a.globalAlpha=zf;
   if(sf===2){s.setLineDash([0.9,1.5]);s.lineDashOffset=-A0[1];s.globalAlpha=0.7*zf;}
   else if(sf===1){s.globalAlpha=0.8*zf;}
   if(ty===2){
    s.strokeStyle=sf?'rgb(205,85,72)':'rgb(190,72,60)';s.lineWidth=sf?1.0:1.7;
    s.beginPath();s.moveTo(A0[0],A0[1]);s.lineTo(B0[0],B0[1]);s.stroke();
    if(!sf){s.strokeStyle='rgb(232,120,105)';s.lineWidth=0.8;s.beginPath();s.moveTo(A0[0],A0[1]);s.lineTo(B0[0],B0[1]);s.stroke();}
   } else {
    let col,lw;
    if(ty===1){col='rgba(10,10,10,0.95)';lw=sf===1?0.85:1.0;}
    else if(ty===0){col='rgba(35,35,35,0.9)';lw=0.85;}
    else {col='rgba(0,0,0,0.36)';lw=0.5;}
    s.strokeStyle=col;s.lineWidth=lw;
    s.beginPath();s.moveTo(A0[0],A0[1]);s.lineTo(B0[0],B0[1]);s.stroke();
   }
   if(sf){s.setLineDash([]);}s.globalAlpha=1;
   if(ty!==3){a.strokeStyle=sf?'rgba(255,255,255,0.8)':'#fff';a.lineWidth=ty===2?(sf?1.0:1.7):(ty===1?(sf===1?0.85:1.0):0.85);a.beginPath();a.moveTo(A0[0],A0[1]);a.lineTo(B0[0],B0[1]);a.stroke();}
   a.globalAlpha=1;
  }
 }
}
for(const p of PL)drawWalls(p);
for(const p of PL)drawSurface(p);
// composite
const wd=g.getImageData(0,0,W,H), sd=s.getImageData(0,0,W,H).data, ad=a.getImageData(0,0,W,H).data;
const d=wd.data;
for(let q=0;q<d.length;q+=4){const al=ad[q]/255;for(let c=0;c<3;c++)d[q+c]=Math.round(sd[q+c]*al+d[q+c]*(1-al));}
g.putImageData(wd,0,0);
for(const o of OVL){const ty=o[2];
 if(ty===2){g.strokeStyle='rgba(200,75,62,0.45)';g.lineWidth=1.3;}
 else if(ty===1){g.strokeStyle='rgba(0,0,0,0.4)';g.lineWidth=1.0;}
 else if(ty===0){g.strokeStyle='rgba(0,0,0,0.3)';g.lineWidth=0.8;}
 else {g.strokeStyle='rgba(0,0,0,0.12)';g.lineWidth=0.5;}
 g.beginPath();g.moveTo(o[0][0],o[0][1]);g.lineTo(o[1][0],o[1][1]);g.stroke();}
// axes
function drawAxes(p){
 const dx=p.dx,dy=p.dy,col='rgba(40,40,40,0.9)';
 const c0=[29.55,260.5],c1=[171.45,302.65];
 line(g,[[c0[0]+dx,c0[1]+dy],[c1[0]+dx,c1[1]+dy]],col,0.8);
 for(const c of [20,15,10,5]){const f=(21.25-c)/18.75;const x=c0[0]+f*(c1[0]-c0[0])+dx,y=c0[1]+f*(c1[1]-c0[1])+dy;line(g,[[x,y],[x-3.3,y+4.8]],col,0.8);}
 const t0=[176.1,303.15],t1=[319.55,261.55];
 line(g,[[t0[0]+dx,t0[1]+dy],[t1[0]+dx,t1[1]+dy]],col,0.8);
 for(const t of [2,4,6,8,10]){const f=t/14;const x=t0[0]+f*(t1[0]-t0[0])+dx,y=t0[1]+f*(t1[1]-t0[1])+dy;line(g,[[x,y],[x+2.6,y+5.0]],col,0.8);}
}
for(const p of PL)drawAxes(p);
// GSH initial sawtooth
(function(){const p=PL[3];g.strokeStyle='rgba(70,70,70,0.75)';g.lineWidth=0.7;g.beginPath();let first=true;
 for(let c=21.25;c>=7.4;c-=0.625){const b=proj(cu(c),tv(0.3),0.0,p.dx,p.dy),tp=proj(cu(c),tv(0.0),0.1,p.dx,p.dy);
  if(first){g.moveTo(b[0],b[1]);first=false;}else g.lineTo(b[0],b[1]);g.lineTo(tp[0],tp[1]);}
 g.stroke();})();
})();
}catch(e){const c=document.getElementById('cv');c.getContext('2d').clearRect(0,0,685,674);}
</script>

</body></html>
